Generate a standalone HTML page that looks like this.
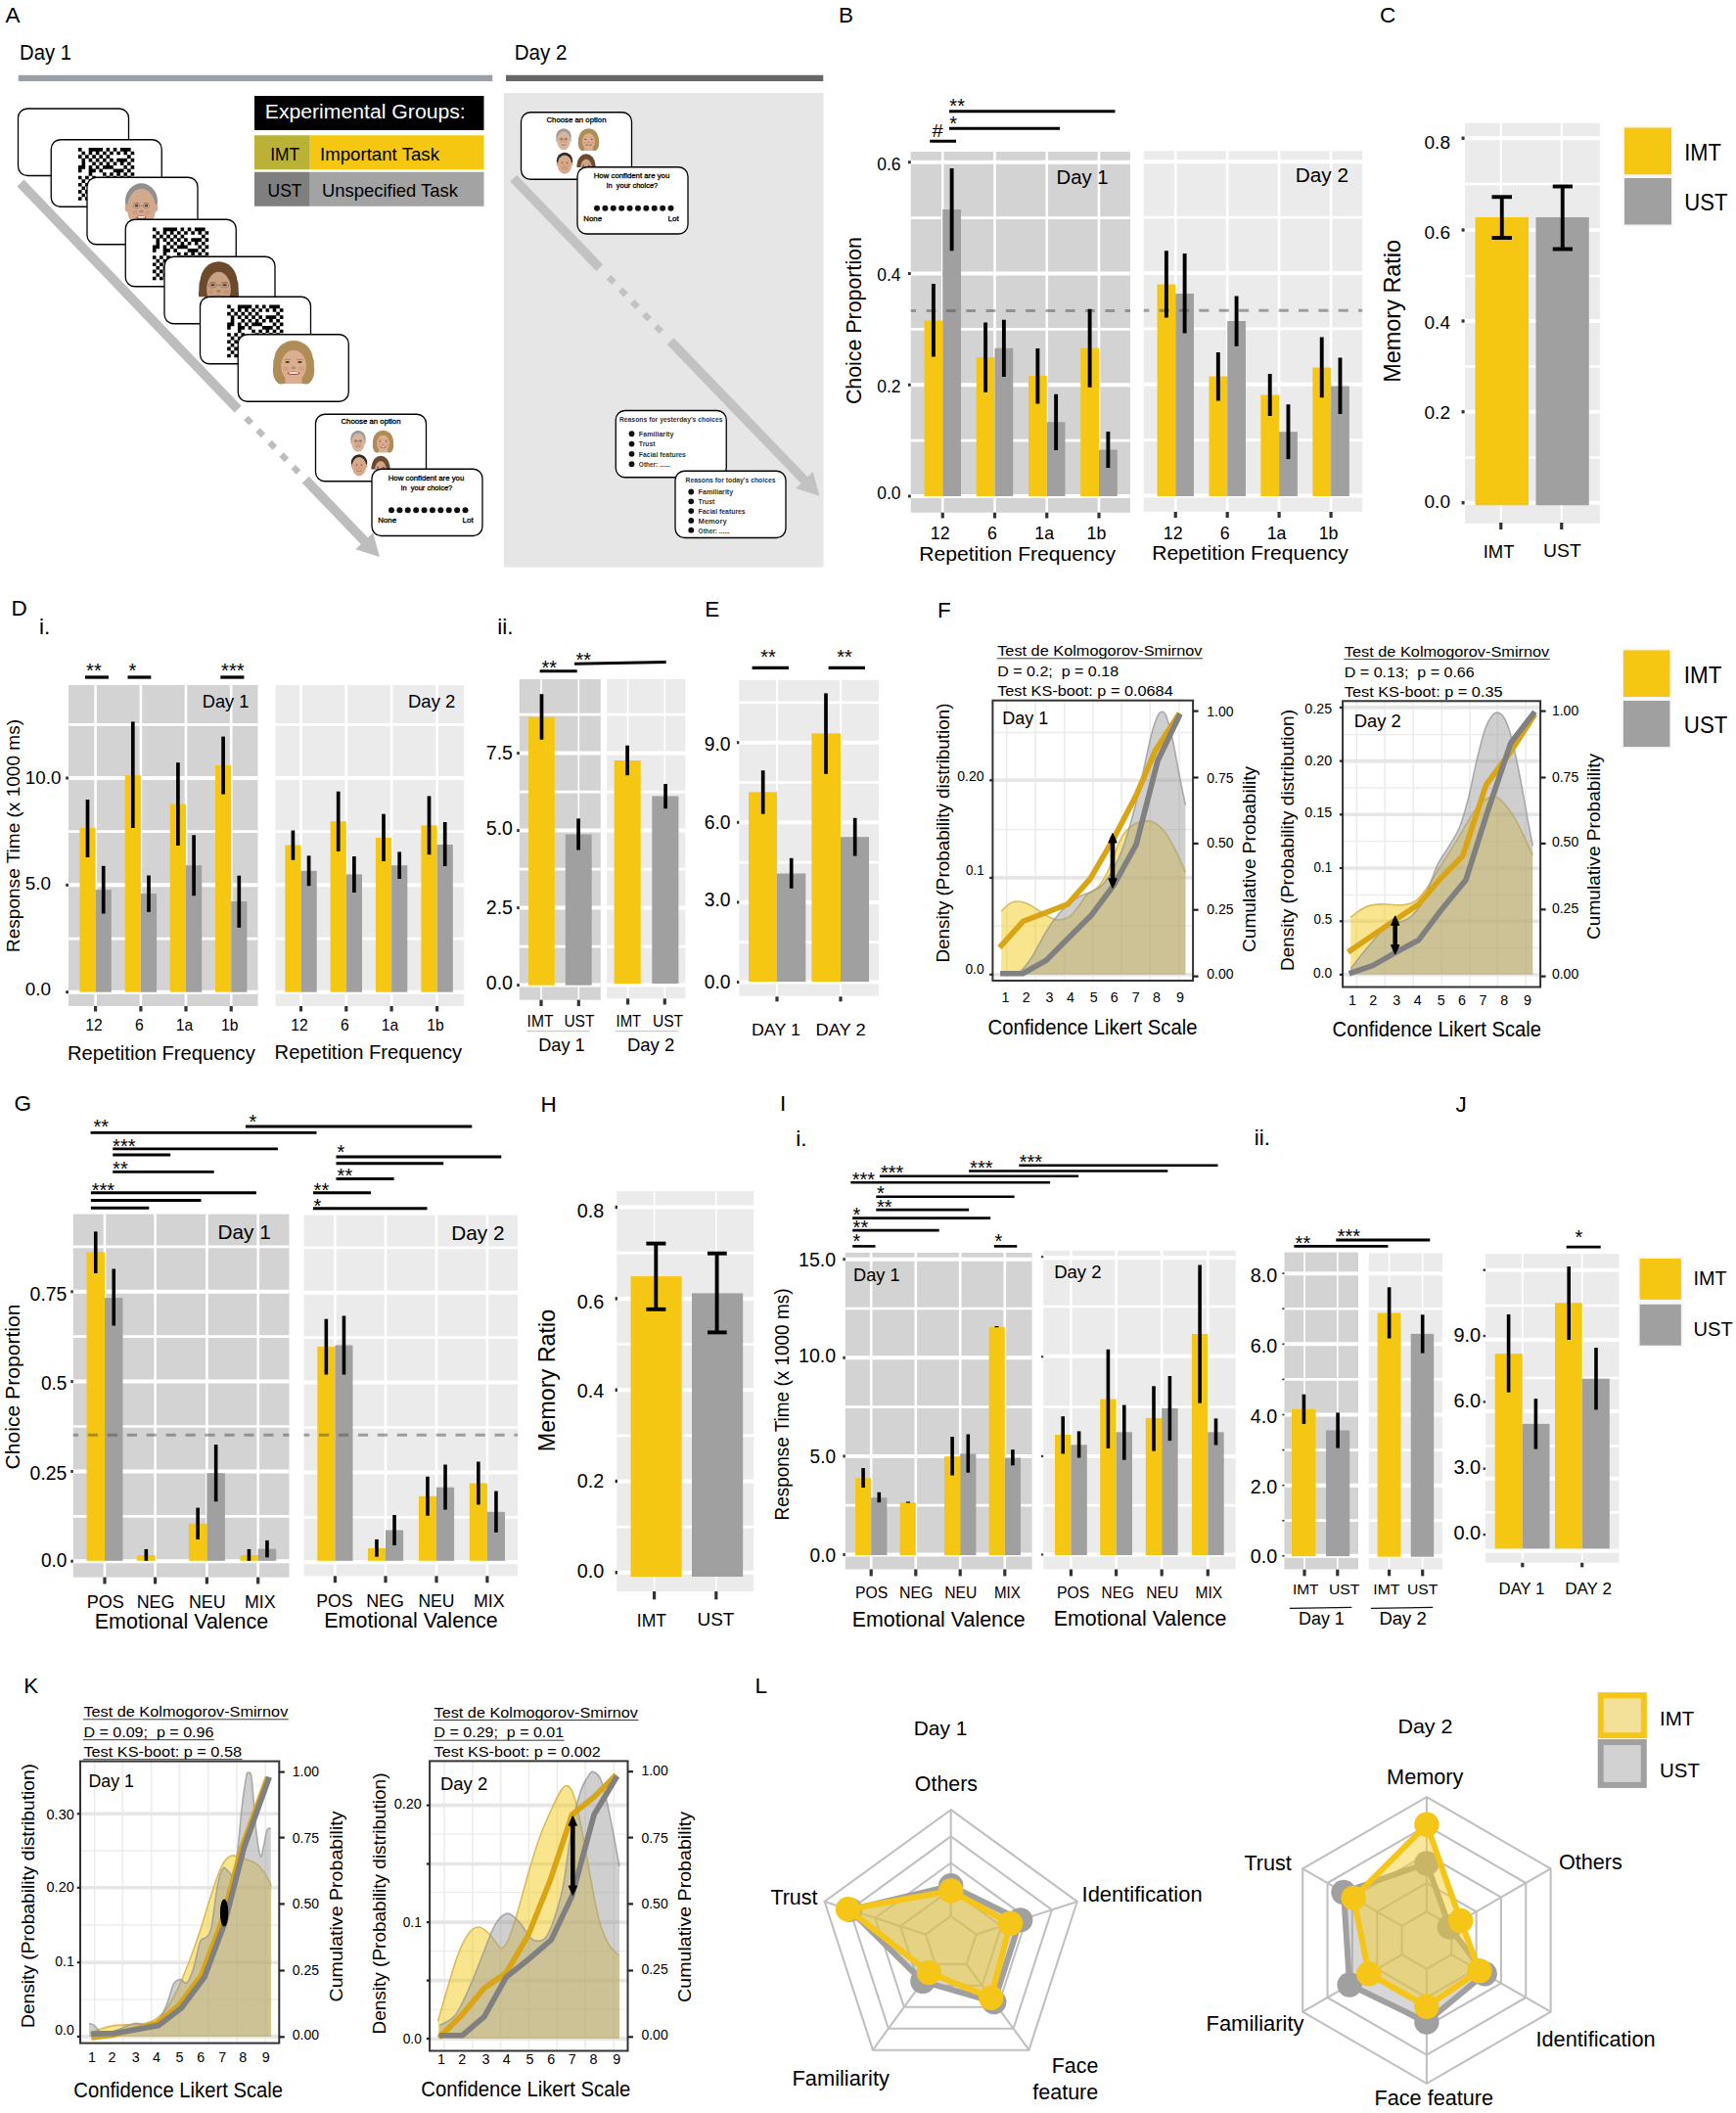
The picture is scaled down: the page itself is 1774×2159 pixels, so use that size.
<!DOCTYPE html>
<html lang="en"><head><meta charset="utf-8"><title>Figure</title>
<style>
html,body{margin:0;padding:0;background:#fff;}
body{width:1774px;height:2159px;overflow:hidden;}
svg{display:block;}
svg text{font-family:"Liberation Sans", Arial, sans-serif;}
</style></head><body>
<svg width="1774" height="2159" viewBox="0 0 1774 2159">
<rect x="0" y="0" width="1774" height="2159" fill="#fff"/>
<g>
<text x="5.5" y="22.5" font-size="22.5" xml:space="preserve">A</text>
<text x="20" y="61" font-size="21.5" textLength="53" lengthAdjust="spacingAndGlyphs" xml:space="preserve">Day 1</text>
<text x="525.75" y="60.75" font-size="21.5" textLength="53.75" lengthAdjust="spacingAndGlyphs" xml:space="preserve">Day 2</text>
<rect x="18.75" y="76.75" width="484.5" height="6.25" fill="#9a9ea6"/>
<rect x="517" y="76.75" width="324.25" height="6.25" fill="#666"/>
<rect x="515" y="95" width="326.5" height="484.5" fill="#e6e6e6"/>
<rect x="260" y="98" width="234.5" height="35" fill="#000"/>
<text x="270.75" y="120.75" font-size="20.5" textLength="205" lengthAdjust="spacingAndGlyphs" fill="#fff" xml:space="preserve">Experimental Groups:</text>
<rect x="260" y="138.25" width="56.75" height="35" fill="#b9b236"/>
<rect x="316.75" y="138.25" width="177.75" height="35" fill="#f5c710"/>
<text x="276.25" y="163.75" font-size="19" textLength="30" lengthAdjust="spacingAndGlyphs" xml:space="preserve">IMT</text>
<text x="327" y="163.75" font-size="19" textLength="122" lengthAdjust="spacingAndGlyphs" xml:space="preserve">Important Task</text>
<rect x="260" y="175.75" width="56.75" height="35" fill="#7f7f7f"/>
<rect x="316.75" y="175.75" width="177.75" height="35" fill="#a3a3a3"/>
<text x="273.5" y="200.5" font-size="19" textLength="35" lengthAdjust="spacingAndGlyphs" xml:space="preserve">UST</text>
<text x="329" y="200.5" font-size="19" textLength="139" lengthAdjust="spacingAndGlyphs" xml:space="preserve">Unspecified Task</text>
<line x1="21" y1="187" x2="243.11" y2="418.19" stroke="#bdbdbd" stroke-width="9.8"/>
<line x1="251.5" y1="426.92" x2="256.76" y2="432.4" stroke="#bdbdbd" stroke-width="6.4"/>
<line x1="263.55" y1="439.47" x2="268.82" y2="444.95" stroke="#bdbdbd" stroke-width="6.4"/>
<line x1="275.61" y1="452.01" x2="280.87" y2="457.49" stroke="#bdbdbd" stroke-width="6.4"/>
<line x1="287.66" y1="464.56" x2="292.93" y2="470.04" stroke="#bdbdbd" stroke-width="6.4"/>
<line x1="299.71" y1="477.11" x2="304.98" y2="482.59" stroke="#bdbdbd" stroke-width="6.4"/>
<line x1="312.25" y1="490.16" x2="373" y2="553.4" stroke="#bdbdbd" stroke-width="9.8"/>
<polygon points="387.9,568.9 363.44,561.2 381.18,544.15" fill="#bdbdbd" stroke="none" stroke-width="1"/>
<rect x="18.5" y="111" width="113" height="68.5" rx="9.5" ry="9.5" fill="#fff" stroke="#000" stroke-width="1.3"/>
<rect x="52.25" y="142.75" width="113" height="68.5" rx="9.5" ry="9.5" fill="#fff" stroke="#000" stroke-width="1.3"/>
<clipPath id="q1"><rect x="52.25" y="142.75" width="113" height="68.5"/></clipPath>
<path d="M79.91 151.1h3.63v3.63h-3.63zM90.65 151.1h3.63v3.63h-3.63zM94.23 151.1h3.63v3.63h-3.63zM97.81 151.1h3.63v3.63h-3.63zM101.39 151.1h3.63v3.63h-3.63zM108.55 151.1h3.63v3.63h-3.63zM115.71 151.1h3.63v3.63h-3.63zM122.87 151.1h3.63v3.63h-3.63zM126.45 151.1h3.63v3.63h-3.63zM130.03 151.1h3.63v3.63h-3.63zM83.49 154.68h3.63v3.63h-3.63zM90.65 154.68h3.63v3.63h-3.63zM97.81 154.68h3.63v3.63h-3.63zM104.97 154.68h3.63v3.63h-3.63zM112.13 154.68h3.63v3.63h-3.63zM119.29 154.68h3.63v3.63h-3.63zM126.45 154.68h3.63v3.63h-3.63zM133.61 154.68h3.63v3.63h-3.63zM79.91 158.26h3.63v3.63h-3.63zM87.07 158.26h3.63v3.63h-3.63zM94.23 158.26h3.63v3.63h-3.63zM101.39 158.26h3.63v3.63h-3.63zM108.55 158.26h3.63v3.63h-3.63zM130.03 158.26h3.63v3.63h-3.63zM83.49 161.84h3.63v3.63h-3.63zM90.65 161.84h3.63v3.63h-3.63zM97.81 161.84h3.63v3.63h-3.63zM104.97 161.84h3.63v3.63h-3.63zM112.13 161.84h3.63v3.63h-3.63zM119.29 161.84h3.63v3.63h-3.63zM122.87 161.84h3.63v3.63h-3.63zM126.45 161.84h3.63v3.63h-3.63zM133.61 161.84h3.63v3.63h-3.63zM83.49 165.42h3.63v3.63h-3.63zM94.23 165.42h3.63v3.63h-3.63zM101.39 165.42h3.63v3.63h-3.63zM108.55 165.42h3.63v3.63h-3.63zM115.71 165.42h3.63v3.63h-3.63zM122.87 165.42h3.63v3.63h-3.63zM130.03 165.42h3.63v3.63h-3.63zM79.91 169h3.63v3.63h-3.63zM83.49 169h3.63v3.63h-3.63zM90.65 169h3.63v3.63h-3.63zM97.81 169h3.63v3.63h-3.63zM104.97 169h3.63v3.63h-3.63zM108.55 169h3.63v3.63h-3.63zM112.13 169h3.63v3.63h-3.63zM126.45 169h3.63v3.63h-3.63zM133.61 169h3.63v3.63h-3.63zM79.91 172.58h3.63v3.63h-3.63zM90.65 172.58h3.63v3.63h-3.63zM94.23 172.58h3.63v3.63h-3.63zM101.39 172.58h3.63v3.63h-3.63zM115.71 172.58h3.63v3.63h-3.63zM119.29 172.58h3.63v3.63h-3.63zM122.87 172.58h3.63v3.63h-3.63zM130.03 172.58h3.63v3.63h-3.63zM90.65 176.16h3.63v3.63h-3.63zM104.97 176.16h3.63v3.63h-3.63zM112.13 176.16h3.63v3.63h-3.63zM119.29 176.16h3.63v3.63h-3.63zM126.45 176.16h3.63v3.63h-3.63zM133.61 176.16h3.63v3.63h-3.63zM79.91 179.74h3.63v3.63h-3.63zM87.07 179.74h3.63v3.63h-3.63zM94.23 179.74h3.63v3.63h-3.63zM108.55 179.74h3.63v3.63h-3.63zM115.71 179.74h3.63v3.63h-3.63zM122.87 179.74h3.63v3.63h-3.63zM130.03 179.74h3.63v3.63h-3.63zM83.49 183.32h3.63v3.63h-3.63zM90.65 183.32h3.63v3.63h-3.63zM97.81 183.32h3.63v3.63h-3.63zM101.39 183.32h3.63v3.63h-3.63zM112.13 183.32h3.63v3.63h-3.63zM119.29 183.32h3.63v3.63h-3.63zM126.45 183.32h3.63v3.63h-3.63zM130.03 183.32h3.63v3.63h-3.63zM133.61 183.32h3.63v3.63h-3.63zM79.91 186.9h3.63v3.63h-3.63zM87.07 186.9h3.63v3.63h-3.63zM94.23 186.9h3.63v3.63h-3.63zM101.39 186.9h3.63v3.63h-3.63zM108.55 186.9h3.63v3.63h-3.63zM115.71 186.9h3.63v3.63h-3.63zM122.87 186.9h3.63v3.63h-3.63zM130.03 186.9h3.63v3.63h-3.63zM83.49 190.48h3.63v3.63h-3.63zM90.65 190.48h3.63v3.63h-3.63zM97.81 190.48h3.63v3.63h-3.63zM104.97 190.48h3.63v3.63h-3.63zM112.13 190.48h3.63v3.63h-3.63zM119.29 190.48h3.63v3.63h-3.63zM126.45 190.48h3.63v3.63h-3.63zM133.61 190.48h3.63v3.63h-3.63zM79.91 194.06h3.63v3.63h-3.63zM87.07 194.06h3.63v3.63h-3.63zM94.23 194.06h3.63v3.63h-3.63zM108.55 194.06h3.63v3.63h-3.63zM115.71 194.06h3.63v3.63h-3.63zM83.49 197.64h3.63v3.63h-3.63zM90.65 197.64h3.63v3.63h-3.63zM97.81 197.64h3.63v3.63h-3.63zM104.97 197.64h3.63v3.63h-3.63zM112.13 197.64h3.63v3.63h-3.63zM119.29 197.64h3.63v3.63h-3.63zM126.45 197.64h3.63v3.63h-3.63zM79.91 201.22h3.63v3.63h-3.63zM87.07 201.22h3.63v3.63h-3.63zM94.23 201.22h3.63v3.63h-3.63zM101.39 201.22h3.63v3.63h-3.63zM108.55 201.22h3.63v3.63h-3.63zM115.71 201.22h3.63v3.63h-3.63zM122.87 201.22h3.63v3.63h-3.63zM130.03 201.22h3.63v3.63h-3.63z" fill="#000" clip-path="url(#q1)"/>
<rect x="89" y="181.25" width="113" height="68.5" rx="9.5" ry="9.5" fill="#fff" stroke="#000" stroke-width="1.3"/>
<clipPath id="f3"><rect x="89" y="181.25" width="113" height="43"/></clipPath>
<g clip-path="url(#f3)">
<ellipse cx="144.5" cy="205.65" rx="16.5" ry="18.4" fill="#8f8f8f"/>
<ellipse cx="144.5" cy="213.01" rx="14.52" ry="20.24" fill="#d2a98c"/>
<ellipse cx="129.32" cy="212.55" rx="1.65" ry="3.68" fill="#d2a98c"/>
<ellipse cx="159.68" cy="212.55" rx="1.65" ry="3.68" fill="#d2a98c"/>
<ellipse cx="139.55" cy="210.25" rx="1.81" ry="1.01" fill="#4a3424"/>
<ellipse cx="149.45" cy="210.25" rx="1.81" ry="1.01" fill="#4a3424"/>
<ellipse cx="139.55" cy="207.49" rx="2.81" ry="0.64" fill="rgba(120,70,40,0.35)"/>
<ellipse cx="149.45" cy="207.49" rx="2.81" ry="0.64" fill="rgba(120,70,40,0.35)"/>
<ellipse cx="144.5" cy="216.23" rx="1.98" ry="1.38" fill="rgba(120,70,40,0.35)"/>
<ellipse cx="138.23" cy="217.15" rx="2.31" ry="2.3" fill="rgba(200,90,70,0.18)"/>
<ellipse cx="150.77" cy="217.15" rx="2.31" ry="2.3" fill="rgba(200,90,70,0.18)"/>
<ellipse cx="144.5" cy="221.98" rx="4.95" ry="1.84" fill="#9a4a3a"/>
<ellipse cx="144.5" cy="221.75" rx="3.96" ry="1.01" fill="#f4efe8"/>
<ellipse cx="139.55" cy="210.48" rx="3.3" ry="2.3" fill="none" stroke="#3a3230" stroke-width="0.4" stroke-opacity="0.7"/>
<ellipse cx="149.45" cy="210.48" rx="3.3" ry="2.3" fill="none" stroke="#3a3230" stroke-width="0.4" stroke-opacity="0.7"/>
<line x1="142.85" y1="210.25" x2="146.15" y2="210.25" stroke="#3a3230" stroke-width="0.4" stroke-opacity="0.7"/>
</g>
<rect x="128.25" y="224.25" width="113" height="68.5" rx="9.5" ry="9.5" fill="#fff" stroke="#000" stroke-width="1.3"/>
<clipPath id="q2"><rect x="128.25" y="224.25" width="113" height="68.5"/></clipPath>
<path d="M155.91 232.6h3.63v3.63h-3.63zM166.65 232.6h3.63v3.63h-3.63zM170.23 232.6h3.63v3.63h-3.63zM173.81 232.6h3.63v3.63h-3.63zM177.39 232.6h3.63v3.63h-3.63zM184.55 232.6h3.63v3.63h-3.63zM191.71 232.6h3.63v3.63h-3.63zM198.87 232.6h3.63v3.63h-3.63zM202.45 232.6h3.63v3.63h-3.63zM206.03 232.6h3.63v3.63h-3.63zM159.49 236.18h3.63v3.63h-3.63zM166.65 236.18h3.63v3.63h-3.63zM173.81 236.18h3.63v3.63h-3.63zM180.97 236.18h3.63v3.63h-3.63zM188.13 236.18h3.63v3.63h-3.63zM195.29 236.18h3.63v3.63h-3.63zM202.45 236.18h3.63v3.63h-3.63zM209.61 236.18h3.63v3.63h-3.63zM155.91 239.76h3.63v3.63h-3.63zM163.07 239.76h3.63v3.63h-3.63zM170.23 239.76h3.63v3.63h-3.63zM177.39 239.76h3.63v3.63h-3.63zM184.55 239.76h3.63v3.63h-3.63zM206.03 239.76h3.63v3.63h-3.63zM159.49 243.34h3.63v3.63h-3.63zM166.65 243.34h3.63v3.63h-3.63zM173.81 243.34h3.63v3.63h-3.63zM180.97 243.34h3.63v3.63h-3.63zM188.13 243.34h3.63v3.63h-3.63zM195.29 243.34h3.63v3.63h-3.63zM198.87 243.34h3.63v3.63h-3.63zM202.45 243.34h3.63v3.63h-3.63zM209.61 243.34h3.63v3.63h-3.63zM159.49 246.92h3.63v3.63h-3.63zM170.23 246.92h3.63v3.63h-3.63zM177.39 246.92h3.63v3.63h-3.63zM184.55 246.92h3.63v3.63h-3.63zM191.71 246.92h3.63v3.63h-3.63zM198.87 246.92h3.63v3.63h-3.63zM206.03 246.92h3.63v3.63h-3.63zM155.91 250.5h3.63v3.63h-3.63zM159.49 250.5h3.63v3.63h-3.63zM166.65 250.5h3.63v3.63h-3.63zM173.81 250.5h3.63v3.63h-3.63zM180.97 250.5h3.63v3.63h-3.63zM184.55 250.5h3.63v3.63h-3.63zM188.13 250.5h3.63v3.63h-3.63zM202.45 250.5h3.63v3.63h-3.63zM209.61 250.5h3.63v3.63h-3.63zM155.91 254.08h3.63v3.63h-3.63zM166.65 254.08h3.63v3.63h-3.63zM170.23 254.08h3.63v3.63h-3.63zM177.39 254.08h3.63v3.63h-3.63zM191.71 254.08h3.63v3.63h-3.63zM195.29 254.08h3.63v3.63h-3.63zM198.87 254.08h3.63v3.63h-3.63zM206.03 254.08h3.63v3.63h-3.63zM166.65 257.66h3.63v3.63h-3.63zM180.97 257.66h3.63v3.63h-3.63zM188.13 257.66h3.63v3.63h-3.63zM195.29 257.66h3.63v3.63h-3.63zM202.45 257.66h3.63v3.63h-3.63zM209.61 257.66h3.63v3.63h-3.63zM155.91 261.24h3.63v3.63h-3.63zM163.07 261.24h3.63v3.63h-3.63zM170.23 261.24h3.63v3.63h-3.63zM184.55 261.24h3.63v3.63h-3.63zM191.71 261.24h3.63v3.63h-3.63zM198.87 261.24h3.63v3.63h-3.63zM206.03 261.24h3.63v3.63h-3.63zM159.49 264.82h3.63v3.63h-3.63zM166.65 264.82h3.63v3.63h-3.63zM173.81 264.82h3.63v3.63h-3.63zM177.39 264.82h3.63v3.63h-3.63zM188.13 264.82h3.63v3.63h-3.63zM195.29 264.82h3.63v3.63h-3.63zM202.45 264.82h3.63v3.63h-3.63zM206.03 264.82h3.63v3.63h-3.63zM209.61 264.82h3.63v3.63h-3.63zM155.91 268.4h3.63v3.63h-3.63zM163.07 268.4h3.63v3.63h-3.63zM170.23 268.4h3.63v3.63h-3.63zM177.39 268.4h3.63v3.63h-3.63zM184.55 268.4h3.63v3.63h-3.63zM191.71 268.4h3.63v3.63h-3.63zM198.87 268.4h3.63v3.63h-3.63zM206.03 268.4h3.63v3.63h-3.63zM159.49 271.98h3.63v3.63h-3.63zM166.65 271.98h3.63v3.63h-3.63zM173.81 271.98h3.63v3.63h-3.63zM180.97 271.98h3.63v3.63h-3.63zM188.13 271.98h3.63v3.63h-3.63zM195.29 271.98h3.63v3.63h-3.63zM202.45 271.98h3.63v3.63h-3.63zM209.61 271.98h3.63v3.63h-3.63zM155.91 275.56h3.63v3.63h-3.63zM163.07 275.56h3.63v3.63h-3.63zM170.23 275.56h3.63v3.63h-3.63zM184.55 275.56h3.63v3.63h-3.63zM191.71 275.56h3.63v3.63h-3.63zM159.49 279.14h3.63v3.63h-3.63zM166.65 279.14h3.63v3.63h-3.63zM173.81 279.14h3.63v3.63h-3.63zM180.97 279.14h3.63v3.63h-3.63zM188.13 279.14h3.63v3.63h-3.63zM195.29 279.14h3.63v3.63h-3.63zM202.45 279.14h3.63v3.63h-3.63zM155.91 282.72h3.63v3.63h-3.63zM163.07 282.72h3.63v3.63h-3.63zM170.23 282.72h3.63v3.63h-3.63zM177.39 282.72h3.63v3.63h-3.63zM184.55 282.72h3.63v3.63h-3.63zM191.71 282.72h3.63v3.63h-3.63zM198.87 282.72h3.63v3.63h-3.63zM206.03 282.72h3.63v3.63h-3.63z" fill="#000" clip-path="url(#q2)"/>
<rect x="168" y="262.25" width="113" height="68.5" rx="9.5" ry="9.5" fill="#fff" stroke="#000" stroke-width="1.3"/>
<clipPath id="f5"><rect x="168" y="262.25" width="113" height="41"/></clipPath>
<g clip-path="url(#f5)">
<ellipse cx="223.5" cy="287.41" rx="18.86" ry="20.16" fill="#6b4a2e"/>
<ellipse cx="211.2" cy="299.89" rx="8.2" ry="15.84" fill="#6b4a2e"/>
<ellipse cx="235.8" cy="299.89" rx="8.2" ry="15.84" fill="#6b4a2e"/>
<ellipse cx="208.74" cy="292.21" rx="5.33" ry="9.6" fill="#6b4a2e"/>
<ellipse cx="238.26" cy="292.21" rx="5.33" ry="9.6" fill="#6b4a2e"/>
<rect x="208.74" y="300.85" width="29.52" height="14.4" fill="#6b4a2e"/>
<ellipse cx="223.5" cy="295.57" rx="12.3" ry="17.76" fill="#c9a183"/>
<rect x="215.3" y="305.65" width="16.4" height="9.6" fill="#c9a183"/>
<ellipse cx="217.35" cy="291.25" rx="2.25" ry="1.06" fill="#4a3424"/>
<ellipse cx="229.65" cy="291.25" rx="2.25" ry="1.06" fill="#4a3424"/>
<ellipse cx="217.35" cy="288.37" rx="3.49" ry="0.67" fill="rgba(120,70,40,0.35)"/>
<ellipse cx="229.65" cy="288.37" rx="3.49" ry="0.67" fill="rgba(120,70,40,0.35)"/>
<ellipse cx="223.5" cy="297.49" rx="2.46" ry="1.44" fill="rgba(120,70,40,0.35)"/>
<ellipse cx="215.71" cy="298.45" rx="2.87" ry="2.4" fill="rgba(200,90,70,0.18)"/>
<ellipse cx="231.29" cy="298.45" rx="2.87" ry="2.4" fill="rgba(200,90,70,0.18)"/>
<ellipse cx="223.5" cy="303.49" rx="6.15" ry="1.92" fill="#9a4a3a"/>
<ellipse cx="223.5" cy="303.25" rx="4.92" ry="1.06" fill="#f4efe8"/>
<ellipse cx="217.35" cy="291.49" rx="4.1" ry="2.4" fill="none" stroke="#3a3230" stroke-width="0.49" stroke-opacity="0.7"/>
<ellipse cx="229.65" cy="291.49" rx="4.1" ry="2.4" fill="none" stroke="#3a3230" stroke-width="0.49" stroke-opacity="0.7"/>
<line x1="221.45" y1="291.25" x2="225.55" y2="291.25" stroke="#3a3230" stroke-width="0.49" stroke-opacity="0.7"/>
</g>
<rect x="204.5" y="303.25" width="113" height="68.5" rx="9.5" ry="9.5" fill="#fff" stroke="#000" stroke-width="1.3"/>
<clipPath id="q3"><rect x="204.5" y="303.25" width="113" height="68.5"/></clipPath>
<path d="M232.16 311.6h3.63v3.63h-3.63zM242.9 311.6h3.63v3.63h-3.63zM246.48 311.6h3.63v3.63h-3.63zM250.06 311.6h3.63v3.63h-3.63zM253.64 311.6h3.63v3.63h-3.63zM260.8 311.6h3.63v3.63h-3.63zM267.96 311.6h3.63v3.63h-3.63zM275.12 311.6h3.63v3.63h-3.63zM278.7 311.6h3.63v3.63h-3.63zM282.28 311.6h3.63v3.63h-3.63zM235.74 315.18h3.63v3.63h-3.63zM242.9 315.18h3.63v3.63h-3.63zM250.06 315.18h3.63v3.63h-3.63zM257.22 315.18h3.63v3.63h-3.63zM264.38 315.18h3.63v3.63h-3.63zM271.54 315.18h3.63v3.63h-3.63zM278.7 315.18h3.63v3.63h-3.63zM285.86 315.18h3.63v3.63h-3.63zM232.16 318.76h3.63v3.63h-3.63zM239.32 318.76h3.63v3.63h-3.63zM246.48 318.76h3.63v3.63h-3.63zM253.64 318.76h3.63v3.63h-3.63zM260.8 318.76h3.63v3.63h-3.63zM282.28 318.76h3.63v3.63h-3.63zM235.74 322.34h3.63v3.63h-3.63zM242.9 322.34h3.63v3.63h-3.63zM250.06 322.34h3.63v3.63h-3.63zM257.22 322.34h3.63v3.63h-3.63zM264.38 322.34h3.63v3.63h-3.63zM271.54 322.34h3.63v3.63h-3.63zM275.12 322.34h3.63v3.63h-3.63zM278.7 322.34h3.63v3.63h-3.63zM285.86 322.34h3.63v3.63h-3.63zM235.74 325.92h3.63v3.63h-3.63zM246.48 325.92h3.63v3.63h-3.63zM253.64 325.92h3.63v3.63h-3.63zM260.8 325.92h3.63v3.63h-3.63zM267.96 325.92h3.63v3.63h-3.63zM275.12 325.92h3.63v3.63h-3.63zM282.28 325.92h3.63v3.63h-3.63zM232.16 329.5h3.63v3.63h-3.63zM235.74 329.5h3.63v3.63h-3.63zM242.9 329.5h3.63v3.63h-3.63zM250.06 329.5h3.63v3.63h-3.63zM257.22 329.5h3.63v3.63h-3.63zM260.8 329.5h3.63v3.63h-3.63zM264.38 329.5h3.63v3.63h-3.63zM278.7 329.5h3.63v3.63h-3.63zM285.86 329.5h3.63v3.63h-3.63zM232.16 333.08h3.63v3.63h-3.63zM242.9 333.08h3.63v3.63h-3.63zM246.48 333.08h3.63v3.63h-3.63zM253.64 333.08h3.63v3.63h-3.63zM267.96 333.08h3.63v3.63h-3.63zM271.54 333.08h3.63v3.63h-3.63zM275.12 333.08h3.63v3.63h-3.63zM282.28 333.08h3.63v3.63h-3.63zM242.9 336.66h3.63v3.63h-3.63zM257.22 336.66h3.63v3.63h-3.63zM264.38 336.66h3.63v3.63h-3.63zM271.54 336.66h3.63v3.63h-3.63zM278.7 336.66h3.63v3.63h-3.63zM285.86 336.66h3.63v3.63h-3.63zM232.16 340.24h3.63v3.63h-3.63zM239.32 340.24h3.63v3.63h-3.63zM246.48 340.24h3.63v3.63h-3.63zM260.8 340.24h3.63v3.63h-3.63zM267.96 340.24h3.63v3.63h-3.63zM275.12 340.24h3.63v3.63h-3.63zM282.28 340.24h3.63v3.63h-3.63zM235.74 343.82h3.63v3.63h-3.63zM242.9 343.82h3.63v3.63h-3.63zM250.06 343.82h3.63v3.63h-3.63zM253.64 343.82h3.63v3.63h-3.63zM264.38 343.82h3.63v3.63h-3.63zM271.54 343.82h3.63v3.63h-3.63zM278.7 343.82h3.63v3.63h-3.63zM282.28 343.82h3.63v3.63h-3.63zM285.86 343.82h3.63v3.63h-3.63zM232.16 347.4h3.63v3.63h-3.63zM239.32 347.4h3.63v3.63h-3.63zM246.48 347.4h3.63v3.63h-3.63zM253.64 347.4h3.63v3.63h-3.63zM260.8 347.4h3.63v3.63h-3.63zM267.96 347.4h3.63v3.63h-3.63zM275.12 347.4h3.63v3.63h-3.63zM282.28 347.4h3.63v3.63h-3.63zM235.74 350.98h3.63v3.63h-3.63zM242.9 350.98h3.63v3.63h-3.63zM250.06 350.98h3.63v3.63h-3.63zM257.22 350.98h3.63v3.63h-3.63zM264.38 350.98h3.63v3.63h-3.63zM271.54 350.98h3.63v3.63h-3.63zM278.7 350.98h3.63v3.63h-3.63zM285.86 350.98h3.63v3.63h-3.63zM232.16 354.56h3.63v3.63h-3.63zM239.32 354.56h3.63v3.63h-3.63zM246.48 354.56h3.63v3.63h-3.63zM260.8 354.56h3.63v3.63h-3.63zM267.96 354.56h3.63v3.63h-3.63zM235.74 358.14h3.63v3.63h-3.63zM242.9 358.14h3.63v3.63h-3.63zM250.06 358.14h3.63v3.63h-3.63zM257.22 358.14h3.63v3.63h-3.63zM264.38 358.14h3.63v3.63h-3.63zM271.54 358.14h3.63v3.63h-3.63zM278.7 358.14h3.63v3.63h-3.63zM232.16 361.72h3.63v3.63h-3.63zM239.32 361.72h3.63v3.63h-3.63zM246.48 361.72h3.63v3.63h-3.63zM253.64 361.72h3.63v3.63h-3.63zM260.8 361.72h3.63v3.63h-3.63zM267.96 361.72h3.63v3.63h-3.63zM275.12 361.72h3.63v3.63h-3.63zM282.28 361.72h3.63v3.63h-3.63z" fill="#000" clip-path="url(#q3)"/>
<rect x="243.25" y="341.75" width="113" height="68.5" rx="9.5" ry="9.5" fill="#fff" stroke="#000" stroke-width="1.3"/>
<g>
<ellipse cx="300.05" cy="366.53" rx="19.55" ry="18.48" fill="#b08d57"/>
<ellipse cx="287.3" cy="377.97" rx="8.5" ry="14.52" fill="#b08d57"/>
<ellipse cx="312.8" cy="377.97" rx="8.5" ry="14.52" fill="#b08d57"/>
<ellipse cx="284.75" cy="370.93" rx="5.53" ry="8.8" fill="#b08d57"/>
<ellipse cx="315.35" cy="370.93" rx="5.53" ry="8.8" fill="#b08d57"/>
<rect x="284.75" y="378.85" width="30.6" height="13.2" fill="#b08d57"/>
<ellipse cx="300.05" cy="374.01" rx="12.75" ry="16.28" fill="#dcae90"/>
<rect x="291.55" y="383.25" width="17" height="8.8" fill="#dcae90"/>
<ellipse cx="293.68" cy="370.05" rx="2.34" ry="0.97" fill="#4a3424"/>
<ellipse cx="306.43" cy="370.05" rx="2.34" ry="0.97" fill="#4a3424"/>
<ellipse cx="293.68" cy="367.41" rx="3.61" ry="0.62" fill="rgba(120,70,40,0.35)"/>
<ellipse cx="306.43" cy="367.41" rx="3.61" ry="0.62" fill="rgba(120,70,40,0.35)"/>
<ellipse cx="300.05" cy="375.77" rx="2.55" ry="1.32" fill="rgba(120,70,40,0.35)"/>
<ellipse cx="291.98" cy="376.65" rx="2.98" ry="2.2" fill="rgba(200,90,70,0.18)"/>
<ellipse cx="308.12" cy="376.65" rx="2.98" ry="2.2" fill="rgba(200,90,70,0.18)"/>
<ellipse cx="300.05" cy="381.27" rx="6.38" ry="1.76" fill="#9a4a3a"/>
<ellipse cx="300.05" cy="381.05" rx="5.1" ry="0.97" fill="#f4efe8"/>
</g>
<rect x="322.5" y="423.25" width="113" height="68.5" rx="9.5" ry="9.5" fill="#fff" stroke="#000" stroke-width="1.3"/>
<text x="379" y="433.05" font-size="7.6" text-anchor="middle" textLength="61" lengthAdjust="spacingAndGlyphs" font-family='"Liberation Sans", Arial, sans-serif' stroke="#000" stroke-width="0.28" xml:space="preserve">Choose an option</text>
<g>
<ellipse cx="366" cy="448.55" rx="7.75" ry="8.8" fill="#9a9a9a"/>
<ellipse cx="366" cy="452.07" rx="6.82" ry="9.68" fill="#d9b49a"/>
<ellipse cx="358.87" cy="451.85" rx="0.78" ry="1.76" fill="#d9b49a"/>
<ellipse cx="373.13" cy="451.85" rx="0.78" ry="1.76" fill="#d9b49a"/>
<ellipse cx="363.68" cy="450.75" rx="0.85" ry="0.48" fill="#4a3424"/>
<ellipse cx="368.32" cy="450.75" rx="0.85" ry="0.48" fill="#4a3424"/>
<ellipse cx="363.68" cy="449.43" rx="1.32" ry="0.31" fill="rgba(120,70,40,0.35)"/>
<ellipse cx="368.32" cy="449.43" rx="1.32" ry="0.31" fill="rgba(120,70,40,0.35)"/>
<ellipse cx="366" cy="453.61" rx="0.93" ry="0.66" fill="rgba(120,70,40,0.35)"/>
<ellipse cx="363.06" cy="454.05" rx="1.09" ry="1.1" fill="rgba(200,90,70,0.18)"/>
<ellipse cx="368.94" cy="454.05" rx="1.09" ry="1.1" fill="rgba(200,90,70,0.18)"/>
<ellipse cx="366" cy="456.36" rx="2.32" ry="0.88" fill="#9a4a3a"/>
<ellipse cx="366" cy="456.25" rx="1.86" ry="0.48" fill="#f4efe8"/>
<ellipse cx="363.68" cy="450.86" rx="1.55" ry="1.1" fill="none" stroke="#3a3230" stroke-width="0.35" stroke-opacity="0.7"/>
<ellipse cx="368.32" cy="450.86" rx="1.55" ry="1.1" fill="none" stroke="#3a3230" stroke-width="0.35" stroke-opacity="0.7"/>
<line x1="365.23" y1="450.75" x2="366.77" y2="450.75" stroke="#3a3230" stroke-width="0.35" stroke-opacity="0.7"/>
</g>
<g>
<ellipse cx="391.5" cy="449.15" rx="9.89" ry="9.45" fill="#b08d57"/>
<ellipse cx="385.05" cy="455" rx="4.3" ry="7.43" fill="#b08d57"/>
<ellipse cx="397.95" cy="455" rx="4.3" ry="7.43" fill="#b08d57"/>
<ellipse cx="383.76" cy="451.4" rx="2.79" ry="4.5" fill="#b08d57"/>
<ellipse cx="399.24" cy="451.4" rx="2.79" ry="4.5" fill="#b08d57"/>
<rect x="383.76" y="455.45" width="15.48" height="6.75" fill="#b08d57"/>
<ellipse cx="391.5" cy="452.97" rx="6.45" ry="8.32" fill="#dcae90"/>
<rect x="387.2" y="457.7" width="8.6" height="4.5" fill="#dcae90"/>
<ellipse cx="388.27" cy="450.95" rx="1.18" ry="0.49" fill="#4a3424"/>
<ellipse cx="394.73" cy="450.95" rx="1.18" ry="0.49" fill="#4a3424"/>
<ellipse cx="388.27" cy="449.6" rx="1.83" ry="0.32" fill="rgba(120,70,40,0.35)"/>
<ellipse cx="394.73" cy="449.6" rx="1.83" ry="0.32" fill="rgba(120,70,40,0.35)"/>
<ellipse cx="391.5" cy="453.88" rx="1.29" ry="0.67" fill="rgba(120,70,40,0.35)"/>
<ellipse cx="387.42" cy="454.32" rx="1.51" ry="1.12" fill="rgba(200,90,70,0.18)"/>
<ellipse cx="395.58" cy="454.32" rx="1.51" ry="1.12" fill="rgba(200,90,70,0.18)"/>
<ellipse cx="391.5" cy="456.69" rx="3.23" ry="0.9" fill="#9a4a3a"/>
<ellipse cx="391.5" cy="456.57" rx="2.58" ry="0.49" fill="#f4efe8"/>
</g>
<g>
<ellipse cx="367" cy="473.05" rx="8.25" ry="8.8" fill="#2e2a26"/>
<ellipse cx="367" cy="476.57" rx="7.26" ry="9.68" fill="#d9a98a"/>
<ellipse cx="359.41" cy="476.35" rx="0.83" ry="1.76" fill="#d9a98a"/>
<ellipse cx="374.59" cy="476.35" rx="0.83" ry="1.76" fill="#d9a98a"/>
<ellipse cx="364.52" cy="475.25" rx="0.91" ry="0.48" fill="#4a3424"/>
<ellipse cx="369.48" cy="475.25" rx="0.91" ry="0.48" fill="#4a3424"/>
<ellipse cx="364.52" cy="473.93" rx="1.4" ry="0.31" fill="rgba(120,70,40,0.35)"/>
<ellipse cx="369.48" cy="473.93" rx="1.4" ry="0.31" fill="rgba(120,70,40,0.35)"/>
<ellipse cx="367" cy="478.11" rx="0.99" ry="0.66" fill="rgba(120,70,40,0.35)"/>
<ellipse cx="363.87" cy="478.55" rx="1.16" ry="1.1" fill="rgba(200,90,70,0.18)"/>
<ellipse cx="370.13" cy="478.55" rx="1.16" ry="1.1" fill="rgba(200,90,70,0.18)"/>
<ellipse cx="367" cy="480.86" rx="2.48" ry="0.88" fill="#9a4a3a"/>
<ellipse cx="367" cy="480.75" rx="1.98" ry="0.48" fill="#f4efe8"/>
</g>
<clipPath id="c1"><rect x="378" y="459.75" width="40" height="19.5"/></clipPath>
<g clip-path="url(#c1)">
<ellipse cx="389" cy="475.83" rx="8.97" ry="10.08" fill="#6b4a2e"/>
<ellipse cx="383.15" cy="482.07" rx="3.9" ry="7.92" fill="#6b4a2e"/>
<ellipse cx="394.85" cy="482.07" rx="3.9" ry="7.92" fill="#6b4a2e"/>
<ellipse cx="381.98" cy="478.23" rx="2.54" ry="4.8" fill="#6b4a2e"/>
<ellipse cx="396.02" cy="478.23" rx="2.54" ry="4.8" fill="#6b4a2e"/>
<rect x="381.98" y="482.55" width="14.04" height="7.2" fill="#6b4a2e"/>
<ellipse cx="389" cy="479.91" rx="5.85" ry="8.88" fill="#cfa488"/>
<rect x="385.1" y="484.95" width="7.8" height="4.8" fill="#cfa488"/>
<ellipse cx="386.07" cy="477.75" rx="1.07" ry="0.53" fill="#4a3424"/>
<ellipse cx="391.93" cy="477.75" rx="1.07" ry="0.53" fill="#4a3424"/>
<ellipse cx="386.07" cy="476.31" rx="1.66" ry="0.34" fill="rgba(120,70,40,0.35)"/>
<ellipse cx="391.93" cy="476.31" rx="1.66" ry="0.34" fill="rgba(120,70,40,0.35)"/>
<ellipse cx="389" cy="480.87" rx="1.17" ry="0.72" fill="rgba(120,70,40,0.35)"/>
<ellipse cx="385.3" cy="481.35" rx="1.37" ry="1.2" fill="rgba(200,90,70,0.18)"/>
<ellipse cx="392.7" cy="481.35" rx="1.37" ry="1.2" fill="rgba(200,90,70,0.18)"/>
<ellipse cx="389" cy="483.87" rx="2.92" ry="0.96" fill="#9a4a3a"/>
<ellipse cx="389" cy="483.75" rx="2.34" ry="0.53" fill="#f4efe8"/>
</g>
<rect x="380" y="479.25" width="113" height="68.25" rx="9.5" ry="9.5" fill="#fff" stroke="#000" stroke-width="1.3"/>
<text x="435.5" y="490.75" font-size="7.6" text-anchor="middle" textLength="77.5" lengthAdjust="spacingAndGlyphs" font-family='"Liberation Sans", Arial, sans-serif' stroke="#000" stroke-width="0.28" xml:space="preserve">How confident are you</text>
<text x="436" y="500.75" font-size="7.6" text-anchor="middle" textLength="52.5" lengthAdjust="spacingAndGlyphs" font-family='"Liberation Sans", Arial, sans-serif' stroke="#000" stroke-width="0.28" xml:space="preserve">in  your choice?</text>
<circle cx="400" cy="521.25" r="3" fill="#111"/>
<circle cx="408.39" cy="521.25" r="3" fill="#111"/>
<circle cx="416.78" cy="521.25" r="3" fill="#111"/>
<circle cx="425.17" cy="521.25" r="3" fill="#111"/>
<circle cx="433.56" cy="521.25" r="3" fill="#111"/>
<circle cx="441.95" cy="521.25" r="3" fill="#111"/>
<circle cx="450.34" cy="521.25" r="3" fill="#111"/>
<circle cx="458.73" cy="521.25" r="3" fill="#111"/>
<circle cx="467.12" cy="521.25" r="3" fill="#111"/>
<circle cx="475.51" cy="521.25" r="3" fill="#111"/>
<text x="386.25" y="534.45" font-size="7.4" textLength="18.75" lengthAdjust="spacingAndGlyphs" font-family='"Liberation Sans", Arial, sans-serif' stroke="#000" stroke-width="0.28" xml:space="preserve">None</text>
<text x="472.5" y="534.45" font-size="7.4" textLength="11.25" lengthAdjust="spacingAndGlyphs" font-family='"Liberation Sans", Arial, sans-serif' stroke="#000" stroke-width="0.28" xml:space="preserve">Lot</text>
<line x1="524.75" y1="182.25" x2="612.74" y2="273.55" stroke="#c2c2c2" stroke-width="9.6"/>
<line x1="622.11" y1="283.27" x2="627.39" y2="288.74" stroke="#c2c2c2" stroke-width="6.4"/>
<line x1="634.19" y1="295.8" x2="639.46" y2="301.27" stroke="#c2c2c2" stroke-width="6.4"/>
<line x1="646.26" y1="308.33" x2="651.53" y2="313.8" stroke="#c2c2c2" stroke-width="6.4"/>
<line x1="658.34" y1="320.85" x2="663.61" y2="326.33" stroke="#c2c2c2" stroke-width="6.4"/>
<line x1="670.41" y1="333.38" x2="675.68" y2="338.85" stroke="#c2c2c2" stroke-width="6.4"/>
<line x1="685.12" y1="348.65" x2="822.58" y2="491.27" stroke="#c2c2c2" stroke-width="9.6"/>
<polygon points="837.5,506.75 813.03,499.09 830.74,482.01" fill="#c2c2c2" stroke="none" stroke-width="1"/>
<rect x="532.5" y="114.75" width="113" height="68.5" rx="9.5" ry="9.5" fill="#fff" stroke="#000" stroke-width="1.3"/>
<text x="589" y="124.55" font-size="7.6" text-anchor="middle" textLength="61" lengthAdjust="spacingAndGlyphs" font-family='"Liberation Sans", Arial, sans-serif' stroke="#000" stroke-width="0.28" xml:space="preserve">Choose an option</text>
<g>
<ellipse cx="576" cy="140.05" rx="7.75" ry="8.8" fill="#9a9a9a"/>
<ellipse cx="576" cy="143.57" rx="6.82" ry="9.68" fill="#d9b49a"/>
<ellipse cx="568.87" cy="143.35" rx="0.78" ry="1.76" fill="#d9b49a"/>
<ellipse cx="583.13" cy="143.35" rx="0.78" ry="1.76" fill="#d9b49a"/>
<ellipse cx="573.67" cy="142.25" rx="0.85" ry="0.48" fill="#4a3424"/>
<ellipse cx="578.33" cy="142.25" rx="0.85" ry="0.48" fill="#4a3424"/>
<ellipse cx="573.67" cy="140.93" rx="1.32" ry="0.31" fill="rgba(120,70,40,0.35)"/>
<ellipse cx="578.33" cy="140.93" rx="1.32" ry="0.31" fill="rgba(120,70,40,0.35)"/>
<ellipse cx="576" cy="145.11" rx="0.93" ry="0.66" fill="rgba(120,70,40,0.35)"/>
<ellipse cx="573.05" cy="145.55" rx="1.09" ry="1.1" fill="rgba(200,90,70,0.18)"/>
<ellipse cx="578.95" cy="145.55" rx="1.09" ry="1.1" fill="rgba(200,90,70,0.18)"/>
<ellipse cx="576" cy="147.86" rx="2.32" ry="0.88" fill="#9a4a3a"/>
<ellipse cx="576" cy="147.75" rx="1.86" ry="0.48" fill="#f4efe8"/>
<ellipse cx="573.67" cy="142.36" rx="1.55" ry="1.1" fill="none" stroke="#3a3230" stroke-width="0.35" stroke-opacity="0.7"/>
<ellipse cx="578.33" cy="142.36" rx="1.55" ry="1.1" fill="none" stroke="#3a3230" stroke-width="0.35" stroke-opacity="0.7"/>
<line x1="575.23" y1="142.25" x2="576.77" y2="142.25" stroke="#3a3230" stroke-width="0.35" stroke-opacity="0.7"/>
</g>
<g>
<ellipse cx="601.5" cy="140.65" rx="9.89" ry="9.45" fill="#b08d57"/>
<ellipse cx="595.05" cy="146.5" rx="4.3" ry="7.43" fill="#b08d57"/>
<ellipse cx="607.95" cy="146.5" rx="4.3" ry="7.43" fill="#b08d57"/>
<ellipse cx="593.76" cy="142.9" rx="2.79" ry="4.5" fill="#b08d57"/>
<ellipse cx="609.24" cy="142.9" rx="2.79" ry="4.5" fill="#b08d57"/>
<rect x="593.76" y="146.95" width="15.48" height="6.75" fill="#b08d57"/>
<ellipse cx="601.5" cy="144.47" rx="6.45" ry="8.32" fill="#dcae90"/>
<rect x="597.2" y="149.2" width="8.6" height="4.5" fill="#dcae90"/>
<ellipse cx="598.27" cy="142.45" rx="1.18" ry="0.49" fill="#4a3424"/>
<ellipse cx="604.73" cy="142.45" rx="1.18" ry="0.49" fill="#4a3424"/>
<ellipse cx="598.27" cy="141.1" rx="1.83" ry="0.32" fill="rgba(120,70,40,0.35)"/>
<ellipse cx="604.73" cy="141.1" rx="1.83" ry="0.32" fill="rgba(120,70,40,0.35)"/>
<ellipse cx="601.5" cy="145.38" rx="1.29" ry="0.67" fill="rgba(120,70,40,0.35)"/>
<ellipse cx="597.41" cy="145.82" rx="1.51" ry="1.12" fill="rgba(200,90,70,0.18)"/>
<ellipse cx="605.59" cy="145.82" rx="1.51" ry="1.12" fill="rgba(200,90,70,0.18)"/>
<ellipse cx="601.5" cy="148.19" rx="3.23" ry="0.9" fill="#9a4a3a"/>
<ellipse cx="601.5" cy="148.07" rx="2.58" ry="0.49" fill="#f4efe8"/>
</g>
<g>
<ellipse cx="577" cy="164.55" rx="8.25" ry="8.8" fill="#2e2a26"/>
<ellipse cx="577" cy="168.07" rx="7.26" ry="9.68" fill="#d9a98a"/>
<ellipse cx="569.41" cy="167.85" rx="0.83" ry="1.76" fill="#d9a98a"/>
<ellipse cx="584.59" cy="167.85" rx="0.83" ry="1.76" fill="#d9a98a"/>
<ellipse cx="574.52" cy="166.75" rx="0.91" ry="0.48" fill="#4a3424"/>
<ellipse cx="579.48" cy="166.75" rx="0.91" ry="0.48" fill="#4a3424"/>
<ellipse cx="574.52" cy="165.43" rx="1.4" ry="0.31" fill="rgba(120,70,40,0.35)"/>
<ellipse cx="579.48" cy="165.43" rx="1.4" ry="0.31" fill="rgba(120,70,40,0.35)"/>
<ellipse cx="577" cy="169.61" rx="0.99" ry="0.66" fill="rgba(120,70,40,0.35)"/>
<ellipse cx="573.87" cy="170.05" rx="1.16" ry="1.1" fill="rgba(200,90,70,0.18)"/>
<ellipse cx="580.13" cy="170.05" rx="1.16" ry="1.1" fill="rgba(200,90,70,0.18)"/>
<ellipse cx="577" cy="172.36" rx="2.48" ry="0.88" fill="#9a4a3a"/>
<ellipse cx="577" cy="172.25" rx="1.98" ry="0.48" fill="#f4efe8"/>
</g>
<clipPath id="c2"><rect x="588" y="151.25" width="40" height="19.5"/></clipPath>
<g clip-path="url(#c2)">
<ellipse cx="599" cy="167.33" rx="8.97" ry="10.08" fill="#6b4a2e"/>
<ellipse cx="593.15" cy="173.57" rx="3.9" ry="7.92" fill="#6b4a2e"/>
<ellipse cx="604.85" cy="173.57" rx="3.9" ry="7.92" fill="#6b4a2e"/>
<ellipse cx="591.98" cy="169.73" rx="2.54" ry="4.8" fill="#6b4a2e"/>
<ellipse cx="606.02" cy="169.73" rx="2.54" ry="4.8" fill="#6b4a2e"/>
<rect x="591.98" y="174.05" width="14.04" height="7.2" fill="#6b4a2e"/>
<ellipse cx="599" cy="171.41" rx="5.85" ry="8.88" fill="#cfa488"/>
<rect x="595.1" y="176.45" width="7.8" height="4.8" fill="#cfa488"/>
<ellipse cx="596.08" cy="169.25" rx="1.07" ry="0.53" fill="#4a3424"/>
<ellipse cx="601.92" cy="169.25" rx="1.07" ry="0.53" fill="#4a3424"/>
<ellipse cx="596.08" cy="167.81" rx="1.66" ry="0.34" fill="rgba(120,70,40,0.35)"/>
<ellipse cx="601.92" cy="167.81" rx="1.66" ry="0.34" fill="rgba(120,70,40,0.35)"/>
<ellipse cx="599" cy="172.37" rx="1.17" ry="0.72" fill="rgba(120,70,40,0.35)"/>
<ellipse cx="595.29" cy="172.85" rx="1.37" ry="1.2" fill="rgba(200,90,70,0.18)"/>
<ellipse cx="602.71" cy="172.85" rx="1.37" ry="1.2" fill="rgba(200,90,70,0.18)"/>
<ellipse cx="599" cy="175.37" rx="2.92" ry="0.96" fill="#9a4a3a"/>
<ellipse cx="599" cy="175.25" rx="2.34" ry="0.53" fill="#f4efe8"/>
</g>
<rect x="590" y="170.75" width="113" height="68.25" rx="9.5" ry="9.5" fill="#fff" stroke="#000" stroke-width="1.3"/>
<text x="645.5" y="182.25" font-size="7.6" text-anchor="middle" textLength="77.5" lengthAdjust="spacingAndGlyphs" font-family='"Liberation Sans", Arial, sans-serif' stroke="#000" stroke-width="0.28" xml:space="preserve">How confident are you</text>
<text x="646" y="192.25" font-size="7.6" text-anchor="middle" textLength="52.5" lengthAdjust="spacingAndGlyphs" font-family='"Liberation Sans", Arial, sans-serif' stroke="#000" stroke-width="0.28" xml:space="preserve">in  your choice?</text>
<circle cx="610" cy="212.75" r="3" fill="#111"/>
<circle cx="618.39" cy="212.75" r="3" fill="#111"/>
<circle cx="626.78" cy="212.75" r="3" fill="#111"/>
<circle cx="635.17" cy="212.75" r="3" fill="#111"/>
<circle cx="643.56" cy="212.75" r="3" fill="#111"/>
<circle cx="651.95" cy="212.75" r="3" fill="#111"/>
<circle cx="660.34" cy="212.75" r="3" fill="#111"/>
<circle cx="668.73" cy="212.75" r="3" fill="#111"/>
<circle cx="677.12" cy="212.75" r="3" fill="#111"/>
<circle cx="685.51" cy="212.75" r="3" fill="#111"/>
<text x="596.25" y="225.95" font-size="7.4" textLength="18.75" lengthAdjust="spacingAndGlyphs" font-family='"Liberation Sans", Arial, sans-serif' stroke="#000" stroke-width="0.28" xml:space="preserve">None</text>
<text x="682.5" y="225.95" font-size="7.4" textLength="11.25" lengthAdjust="spacingAndGlyphs" font-family='"Liberation Sans", Arial, sans-serif' stroke="#000" stroke-width="0.28" xml:space="preserve">Lot</text>
<rect x="629.25" y="419.5" width="113" height="68.25" rx="9.5" ry="9.5" fill="#fff" stroke="#000" stroke-width="1.3"/>
<text x="685.75" y="431.3" font-size="7.3" text-anchor="middle" textLength="105.75" lengthAdjust="spacingAndGlyphs" font-weight="bold" font-family='"Liberation Sans", Arial, sans-serif' fill-opacity="0.85" xml:space="preserve">Reasons for yesterday's choices</text>
<circle cx="645.5" cy="443.25" r="2.9" fill="#111"/>
<text x="652.85" y="446.05" font-size="7.2" textLength="35.6" lengthAdjust="spacingAndGlyphs" font-weight="bold" font-family='"Liberation Sans", Arial, sans-serif' fill-opacity="0.85" xml:space="preserve">Familiarity</text>
<circle cx="645.5" cy="453.55" r="2.9" fill="#111"/>
<text x="652.85" y="456.35" font-size="7.2" textLength="16.8" lengthAdjust="spacingAndGlyphs" font-weight="bold" font-family='"Liberation Sans", Arial, sans-serif' fill-opacity="0.85" xml:space="preserve">Trust</text>
<circle cx="645.5" cy="463.85" r="2.9" fill="#111"/>
<text x="652.85" y="466.65" font-size="7.2" textLength="48.1" lengthAdjust="spacingAndGlyphs" font-weight="bold" font-family='"Liberation Sans", Arial, sans-serif' fill-opacity="0.85" xml:space="preserve">Facial features</text>
<circle cx="645.5" cy="474.15" r="2.9" fill="#111"/>
<text x="652.85" y="476.95" font-size="7.2" textLength="32" lengthAdjust="spacingAndGlyphs" font-weight="bold" font-family='"Liberation Sans", Arial, sans-serif' fill-opacity="0.85" xml:space="preserve">Other: ......</text>
<rect x="690" y="481.25" width="113" height="68.25" rx="9.5" ry="9.5" fill="#fff" stroke="#000" stroke-width="1.3"/>
<text x="746.5" y="493.05" font-size="7.3" text-anchor="middle" textLength="92" lengthAdjust="spacingAndGlyphs" font-weight="bold" font-family='"Liberation Sans", Arial, sans-serif' fill-opacity="0.85" xml:space="preserve">Reasons for today's choices</text>
<circle cx="706.25" cy="502.5" r="2.9" fill="#111"/>
<text x="713.6" y="505.3" font-size="7.2" textLength="35.6" lengthAdjust="spacingAndGlyphs" font-weight="bold" font-family='"Liberation Sans", Arial, sans-serif' fill-opacity="0.85" xml:space="preserve">Familiarity</text>
<circle cx="706.25" cy="512.3" r="2.9" fill="#111"/>
<text x="713.6" y="515.1" font-size="7.2" textLength="16.8" lengthAdjust="spacingAndGlyphs" font-weight="bold" font-family='"Liberation Sans", Arial, sans-serif' fill-opacity="0.85" xml:space="preserve">Trust</text>
<circle cx="706.25" cy="522.1" r="2.9" fill="#111"/>
<text x="713.6" y="524.9" font-size="7.2" textLength="48.1" lengthAdjust="spacingAndGlyphs" font-weight="bold" font-family='"Liberation Sans", Arial, sans-serif' fill-opacity="0.85" xml:space="preserve">Facial features</text>
<circle cx="706.25" cy="531.9" r="2.9" fill="#111"/>
<text x="713.6" y="534.7" font-size="7.2" textLength="29" lengthAdjust="spacingAndGlyphs" font-weight="bold" font-family='"Liberation Sans", Arial, sans-serif' fill-opacity="0.85" xml:space="preserve">Memory</text>
<circle cx="706.25" cy="541.7" r="2.9" fill="#111"/>
<text x="713.6" y="544.5" font-size="7.2" textLength="32" lengthAdjust="spacingAndGlyphs" font-weight="bold" font-family='"Liberation Sans", Arial, sans-serif' fill-opacity="0.85" xml:space="preserve">Other: ......</text>
</g>
<g>
<text x="857" y="22.5" font-size="22.5" xml:space="preserve">B</text>
<rect x="930.75" y="155" width="224.25" height="368.75" fill="#d3d3d3"/>
<line x1="930.75" y1="222.62" x2="1155" y2="222.62" stroke="#fff" stroke-width="2.7"/>
<line x1="930.75" y1="336.38" x2="1155" y2="336.38" stroke="#fff" stroke-width="2.7"/>
<line x1="930.75" y1="450.12" x2="1155" y2="450.12" stroke="#fff" stroke-width="2.7"/>
<line x1="930.75" y1="165.75" x2="1155" y2="165.75" stroke="#fff" stroke-width="4"/>
<line x1="930.75" y1="279.5" x2="1155" y2="279.5" stroke="#fff" stroke-width="4"/>
<line x1="930.75" y1="393.25" x2="1155" y2="393.25" stroke="#fff" stroke-width="4"/>
<line x1="930.75" y1="507" x2="1155" y2="507" stroke="#fff" stroke-width="4"/>
<line x1="963.25" y1="155" x2="963.25" y2="523.75" stroke="#fff" stroke-width="2.6"/>
<line x1="1016.5" y1="155" x2="1016.5" y2="523.75" stroke="#fff" stroke-width="2.6"/>
<line x1="1069.75" y1="155" x2="1069.75" y2="523.75" stroke="#fff" stroke-width="2.6"/>
<line x1="1123" y1="155" x2="1123" y2="523.75" stroke="#fff" stroke-width="2.6"/>
<rect x="1168.75" y="154.25" width="223.5" height="368.75" fill="#ebebeb"/>
<line x1="1168.75" y1="222.12" x2="1392.25" y2="222.12" stroke="#fff" stroke-width="2.7"/>
<line x1="1168.75" y1="335.88" x2="1392.25" y2="335.88" stroke="#fff" stroke-width="2.7"/>
<line x1="1168.75" y1="449.62" x2="1392.25" y2="449.62" stroke="#fff" stroke-width="2.7"/>
<line x1="1168.75" y1="165.25" x2="1392.25" y2="165.25" stroke="#fff" stroke-width="4"/>
<line x1="1168.75" y1="279" x2="1392.25" y2="279" stroke="#fff" stroke-width="4"/>
<line x1="1168.75" y1="392.75" x2="1392.25" y2="392.75" stroke="#fff" stroke-width="4"/>
<line x1="1168.75" y1="506.5" x2="1392.25" y2="506.5" stroke="#fff" stroke-width="4"/>
<line x1="1201.25" y1="154.25" x2="1201.25" y2="523" stroke="#fff" stroke-width="2.6"/>
<line x1="1254.2" y1="154.25" x2="1254.2" y2="523" stroke="#fff" stroke-width="2.6"/>
<line x1="1307.1" y1="154.25" x2="1307.1" y2="523" stroke="#fff" stroke-width="2.6"/>
<line x1="1360.1" y1="154.25" x2="1360.1" y2="523" stroke="#fff" stroke-width="2.6"/>
<rect x="944.5" y="327.5" width="18.75" height="179.5" fill="#f5c713"/>
<rect x="963.25" y="214" width="18.75" height="293" fill="#a0a0a0"/>
<rect x="997.75" y="365" width="18.75" height="142" fill="#f5c713"/>
<rect x="1016.5" y="355.75" width="18.75" height="151.25" fill="#a0a0a0"/>
<rect x="1051" y="384" width="18.75" height="123" fill="#f5c713"/>
<rect x="1069.75" y="431.25" width="18.75" height="75.75" fill="#a0a0a0"/>
<rect x="1104.25" y="355.75" width="18.75" height="151.25" fill="#f5c713"/>
<rect x="1123" y="459.5" width="18.75" height="47.5" fill="#a0a0a0"/>
<line x1="930.75" y1="317.5" x2="1155" y2="317.5" stroke="rgb(80,80,80)" stroke-width="3.1" stroke-opacity="0.5" stroke-dasharray="9.7 10.6" stroke-dashoffset="4.35"/>
<line x1="953.88" y1="290" x2="953.88" y2="364.5" stroke="#000" stroke-width="3.9"/>
<line x1="972.62" y1="172" x2="972.62" y2="256.25" stroke="#000" stroke-width="3.9"/>
<line x1="1007.12" y1="329.5" x2="1007.12" y2="400.75" stroke="#000" stroke-width="3.9"/>
<line x1="1025.88" y1="326.75" x2="1025.88" y2="385" stroke="#000" stroke-width="3.9"/>
<line x1="1060.38" y1="356" x2="1060.38" y2="412.5" stroke="#000" stroke-width="3.9"/>
<line x1="1079.12" y1="402.75" x2="1079.12" y2="460" stroke="#000" stroke-width="3.9"/>
<line x1="1113.62" y1="315.75" x2="1113.62" y2="395.75" stroke="#000" stroke-width="3.9"/>
<line x1="1132.38" y1="441" x2="1132.38" y2="478" stroke="#000" stroke-width="3.9"/>
<rect x="1182.5" y="290.5" width="18.75" height="216.5" fill="#f5c713"/>
<rect x="1201.25" y="300" width="18.75" height="207" fill="#a0a0a0"/>
<rect x="1235.45" y="384.5" width="18.75" height="122.5" fill="#f5c713"/>
<rect x="1254.2" y="328" width="18.75" height="179" fill="#a0a0a0"/>
<rect x="1288.35" y="403.5" width="18.75" height="103.5" fill="#f5c713"/>
<rect x="1307.1" y="441.2" width="18.75" height="65.8" fill="#a0a0a0"/>
<rect x="1341.35" y="375.5" width="18.75" height="131.5" fill="#f5c713"/>
<rect x="1360.1" y="394.5" width="18.75" height="112.5" fill="#a0a0a0"/>
<line x1="1168.75" y1="317.2" x2="1392.25" y2="317.2" stroke="rgb(80,80,80)" stroke-width="3.1" stroke-opacity="0.5" stroke-dasharray="10.1 10.24" stroke-dashoffset="4.45"/>
<line x1="1191.88" y1="256.25" x2="1191.88" y2="324.5" stroke="#000" stroke-width="3.9"/>
<line x1="1210.62" y1="259" x2="1210.62" y2="340.5" stroke="#000" stroke-width="3.9"/>
<line x1="1244.83" y1="360" x2="1244.83" y2="409.5" stroke="#000" stroke-width="3.9"/>
<line x1="1263.58" y1="302.5" x2="1263.58" y2="353.75" stroke="#000" stroke-width="3.9"/>
<line x1="1297.72" y1="382" x2="1297.72" y2="425" stroke="#000" stroke-width="3.9"/>
<line x1="1316.47" y1="413.2" x2="1316.47" y2="469.1" stroke="#000" stroke-width="3.9"/>
<line x1="1350.72" y1="344.5" x2="1350.72" y2="406.25" stroke="#000" stroke-width="3.9"/>
<line x1="1369.47" y1="365.5" x2="1369.47" y2="423" stroke="#000" stroke-width="3.9"/>
<text x="1079.5" y="188" font-size="20.5" textLength="53" lengthAdjust="spacingAndGlyphs" xml:space="preserve">Day 1</text>
<text x="1323.75" y="186.25" font-size="20.5" textLength="54.25" lengthAdjust="spacingAndGlyphs" xml:space="preserve">Day 2</text>
<line x1="928" y1="165.75" x2="930.75" y2="165.75" stroke="#333" stroke-width="3"/>
<line x1="928" y1="279.5" x2="930.75" y2="279.5" stroke="#333" stroke-width="3"/>
<line x1="928" y1="393.25" x2="930.75" y2="393.25" stroke="#333" stroke-width="3"/>
<line x1="928" y1="507" x2="930.75" y2="507" stroke="#333" stroke-width="3"/>
<text x="920.5" y="174.25" font-size="17.8" text-anchor="end" textLength="24.25" lengthAdjust="spacingAndGlyphs" xml:space="preserve">0.6</text>
<text x="920.5" y="287.25" font-size="17.8" text-anchor="end" textLength="24.25" lengthAdjust="spacingAndGlyphs" xml:space="preserve">0.4</text>
<text x="920.5" y="401.4" font-size="17.8" text-anchor="end" textLength="24.25" lengthAdjust="spacingAndGlyphs" xml:space="preserve">0.2</text>
<text x="920.5" y="510" font-size="17.8" text-anchor="end" textLength="24.25" lengthAdjust="spacingAndGlyphs" xml:space="preserve">0.0</text>
<text x="880.5" y="327.6" font-size="21.4" text-anchor="middle" textLength="171" lengthAdjust="spacingAndGlyphs" transform="rotate(-90 880.5 327.6)" xml:space="preserve">Choice Proportion</text>
<line x1="963.25" y1="523.75" x2="963.25" y2="529.5" stroke="#333" stroke-width="3.2"/>
<line x1="1016.5" y1="523.75" x2="1016.5" y2="529.5" stroke="#333" stroke-width="3.2"/>
<line x1="1069.75" y1="523.75" x2="1069.75" y2="529.5" stroke="#333" stroke-width="3.2"/>
<line x1="1123" y1="523.75" x2="1123" y2="529.5" stroke="#333" stroke-width="3.2"/>
<line x1="1201.25" y1="523" x2="1201.25" y2="529" stroke="#333" stroke-width="3.2"/>
<line x1="1254.2" y1="523" x2="1254.2" y2="529" stroke="#333" stroke-width="3.2"/>
<line x1="1307.1" y1="523" x2="1307.1" y2="529" stroke="#333" stroke-width="3.2"/>
<line x1="1360.1" y1="523" x2="1360.1" y2="529" stroke="#333" stroke-width="3.2"/>
<text x="960.75" y="550.5" font-size="17.8" text-anchor="middle" xml:space="preserve">12</text>
<text x="1014" y="550.5" font-size="17.8" text-anchor="middle" xml:space="preserve">6</text>
<text x="1067.25" y="550.5" font-size="17.8" text-anchor="middle" xml:space="preserve">1a</text>
<text x="1120.5" y="550.5" font-size="17.8" text-anchor="middle" xml:space="preserve">1b</text>
<text x="1198.75" y="550.5" font-size="17.8" text-anchor="middle" xml:space="preserve">12</text>
<text x="1251.7" y="550.5" font-size="17.8" text-anchor="middle" xml:space="preserve">6</text>
<text x="1304.6" y="550.5" font-size="17.8" text-anchor="middle" xml:space="preserve">1a</text>
<text x="1357.6" y="550.5" font-size="17.8" text-anchor="middle" xml:space="preserve">1b</text>
<text x="1039.6" y="572.5" font-size="20.5" text-anchor="middle" textLength="200.75" lengthAdjust="spacingAndGlyphs" xml:space="preserve">Repetition Frequency</text>
<text x="1277.5" y="572" font-size="20.5" text-anchor="middle" textLength="200.75" lengthAdjust="spacingAndGlyphs" xml:space="preserve">Repetition Frequency</text>
<line x1="970" y1="113.75" x2="1139.5" y2="113.75" stroke="#000" stroke-width="3"/>
<line x1="970" y1="131.25" x2="1083" y2="131.25" stroke="#000" stroke-width="3"/>
<line x1="950.25" y1="144.25" x2="977" y2="144.25" stroke="#000" stroke-width="3"/>
<text x="970.35" y="115.4" font-size="20" xml:space="preserve">**</text>
<text x="970.35" y="133.4" font-size="20" xml:space="preserve">*</text>
<text x="952.5" y="139.5" font-size="19" textLength="11.25" lengthAdjust="spacingAndGlyphs" xml:space="preserve">#</text>
</g>
<g>
<text x="1410" y="22.5" font-size="22.5" xml:space="preserve">C</text>
<rect x="1497" y="125.75" width="138" height="409.25" fill="#ebebeb"/>
<line x1="1497" y1="188" x2="1635" y2="188" stroke="#fff" stroke-width="2.7"/>
<line x1="1497" y1="282" x2="1635" y2="282" stroke="#fff" stroke-width="2.7"/>
<line x1="1497" y1="374.5" x2="1635" y2="374.5" stroke="#fff" stroke-width="2.7"/>
<line x1="1497" y1="467.5" x2="1635" y2="467.5" stroke="#fff" stroke-width="2.7"/>
<line x1="1497" y1="141.25" x2="1635" y2="141.25" stroke="#fff" stroke-width="4"/>
<line x1="1497" y1="235" x2="1635" y2="235" stroke="#fff" stroke-width="4"/>
<line x1="1497" y1="328" x2="1635" y2="328" stroke="#fff" stroke-width="4"/>
<line x1="1497" y1="420.75" x2="1635" y2="420.75" stroke="#fff" stroke-width="4"/>
<line x1="1497" y1="513.75" x2="1635" y2="513.75" stroke="#fff" stroke-width="4"/>
<line x1="1533.75" y1="125.75" x2="1533.75" y2="535" stroke="#fff" stroke-width="2.1"/>
<line x1="1595.75" y1="125.75" x2="1595.75" y2="535" stroke="#fff" stroke-width="2.1"/>
<rect x="1507.5" y="222" width="54.5" height="294.25" fill="#f5c713"/>
<rect x="1569.5" y="222" width="54.25" height="294.25" fill="#a0a0a0"/>
<line x1="1534.75" y1="201.25" x2="1534.75" y2="243" stroke="#000" stroke-width="3.9"/>
<line x1="1524.5" y1="201.25" x2="1545" y2="201.25" stroke="#000" stroke-width="3.9"/>
<line x1="1524.5" y1="243" x2="1545" y2="243" stroke="#000" stroke-width="3.9"/>
<line x1="1596.75" y1="190.5" x2="1596.75" y2="254.5" stroke="#000" stroke-width="3.9"/>
<line x1="1586.75" y1="190.5" x2="1607" y2="190.5" stroke="#000" stroke-width="3.9"/>
<line x1="1586.75" y1="254.5" x2="1607" y2="254.5" stroke="#000" stroke-width="3.9"/>
<line x1="1493.6" y1="141.25" x2="1496.6" y2="141.25" stroke="#333" stroke-width="3.4"/>
<line x1="1493.6" y1="235" x2="1496.6" y2="235" stroke="#333" stroke-width="3.4"/>
<line x1="1493.6" y1="328" x2="1496.6" y2="328" stroke="#333" stroke-width="3.4"/>
<line x1="1493.6" y1="420.75" x2="1496.6" y2="420.75" stroke="#333" stroke-width="3.4"/>
<line x1="1493.6" y1="513.75" x2="1496.6" y2="513.75" stroke="#333" stroke-width="3.4"/>
<text x="1482" y="152" font-size="19.2" text-anchor="end" textLength="26.5" lengthAdjust="spacingAndGlyphs" xml:space="preserve">0.8</text>
<text x="1482" y="243.75" font-size="19.2" text-anchor="end" textLength="26.5" lengthAdjust="spacingAndGlyphs" xml:space="preserve">0.6</text>
<text x="1482" y="335.5" font-size="19.2" text-anchor="end" textLength="26.5" lengthAdjust="spacingAndGlyphs" xml:space="preserve">0.4</text>
<text x="1482" y="427.5" font-size="19.2" text-anchor="end" textLength="26.5" lengthAdjust="spacingAndGlyphs" xml:space="preserve">0.2</text>
<text x="1482" y="519.25" font-size="19.2" text-anchor="end" textLength="26.5" lengthAdjust="spacingAndGlyphs" xml:space="preserve">0.0</text>
<line x1="1533.75" y1="534" x2="1533.75" y2="541" stroke="#333" stroke-width="3.2"/>
<line x1="1595.75" y1="534" x2="1595.75" y2="541" stroke="#333" stroke-width="3.2"/>
<text x="1531.6" y="569.5" font-size="18.5" text-anchor="middle" textLength="31.75" lengthAdjust="spacingAndGlyphs" xml:space="preserve">IMT</text>
<text x="1596.4" y="568.5" font-size="18.5" text-anchor="middle" textLength="38.75" lengthAdjust="spacingAndGlyphs" xml:space="preserve">UST</text>
<text x="1431.3" y="317.8" font-size="23.7" text-anchor="middle" textLength="145.8" lengthAdjust="spacingAndGlyphs" transform="rotate(-90 1431.3 317.8)" xml:space="preserve">Memory Ratio</text>
<rect x="1658" y="128.5" width="52" height="103" fill="#f6f6f6"/>
<rect x="1660" y="130.5" width="48" height="47.75" fill="#f5c713"/>
<rect x="1660" y="182" width="48" height="47.5" fill="#a0a0a0"/>
<text x="1721.25" y="163.75" font-size="23.3" textLength="37.5" lengthAdjust="spacingAndGlyphs" xml:space="preserve">IMT</text>
<text x="1721.25" y="214.5" font-size="23.3" textLength="44.2" lengthAdjust="spacingAndGlyphs" xml:space="preserve">UST</text>
</g>
<g>
<text x="11.6" y="629" font-size="22.5" xml:space="preserve">D</text>
<text x="40" y="648.4" font-size="22.5" xml:space="preserve">i.</text>
<rect x="70" y="700" width="193.5" height="328" fill="#d3d3d3"/>
<line x1="70" y1="740.33" x2="263.5" y2="740.33" stroke="#fff" stroke-width="2.7"/>
<line x1="70" y1="849.68" x2="263.5" y2="849.68" stroke="#fff" stroke-width="2.7"/>
<line x1="70" y1="959.03" x2="263.5" y2="959.03" stroke="#fff" stroke-width="2.7"/>
<line x1="70" y1="795" x2="263.5" y2="795" stroke="#fff" stroke-width="4"/>
<line x1="70" y1="904.35" x2="263.5" y2="904.35" stroke="#fff" stroke-width="4"/>
<line x1="70" y1="1013.7" x2="263.5" y2="1013.7" stroke="#fff" stroke-width="4"/>
<line x1="97.6" y1="700" x2="97.6" y2="1028" stroke="#fff" stroke-width="2.6"/>
<line x1="143.9" y1="700" x2="143.9" y2="1028" stroke="#fff" stroke-width="2.6"/>
<line x1="190" y1="700" x2="190" y2="1028" stroke="#fff" stroke-width="2.6"/>
<line x1="236.2" y1="700" x2="236.2" y2="1028" stroke="#fff" stroke-width="2.6"/>
<rect x="281.5" y="700" width="192.7" height="328" fill="#ebebeb"/>
<line x1="281.5" y1="740.33" x2="474.2" y2="740.33" stroke="#fff" stroke-width="2.7"/>
<line x1="281.5" y1="849.68" x2="474.2" y2="849.68" stroke="#fff" stroke-width="2.7"/>
<line x1="281.5" y1="959.03" x2="474.2" y2="959.03" stroke="#fff" stroke-width="2.7"/>
<line x1="281.5" y1="795" x2="474.2" y2="795" stroke="#fff" stroke-width="4"/>
<line x1="281.5" y1="904.35" x2="474.2" y2="904.35" stroke="#fff" stroke-width="4"/>
<line x1="281.5" y1="1013.7" x2="474.2" y2="1013.7" stroke="#fff" stroke-width="4"/>
<line x1="307.5" y1="700" x2="307.5" y2="1028" stroke="#fff" stroke-width="2.6"/>
<line x1="353.8" y1="700" x2="353.8" y2="1028" stroke="#fff" stroke-width="2.6"/>
<line x1="400.1" y1="700" x2="400.1" y2="1028" stroke="#fff" stroke-width="2.6"/>
<line x1="446.6" y1="700" x2="446.6" y2="1028" stroke="#fff" stroke-width="2.6"/>
<rect x="81.4" y="846" width="16.2" height="167.7" fill="#f5c713"/>
<rect x="97.6" y="909.1" width="16.2" height="104.6" fill="#a0a0a0"/>
<rect x="127.7" y="792.2" width="16.2" height="221.5" fill="#f5c713"/>
<rect x="143.9" y="913" width="16.2" height="100.7" fill="#a0a0a0"/>
<rect x="173.8" y="821.7" width="16.2" height="192" fill="#f5c713"/>
<rect x="190" y="884.2" width="16.2" height="129.5" fill="#a0a0a0"/>
<rect x="220" y="782" width="16.2" height="231.7" fill="#f5c713"/>
<rect x="236.2" y="921" width="16.2" height="92.7" fill="#a0a0a0"/>
<line x1="89.5" y1="817" x2="89.5" y2="876" stroke="#000" stroke-width="3.7"/>
<line x1="105.7" y1="884.8" x2="105.7" y2="933.5" stroke="#000" stroke-width="3.7"/>
<line x1="135.8" y1="737.4" x2="135.8" y2="846" stroke="#000" stroke-width="3.7"/>
<line x1="152" y1="894.5" x2="152" y2="931.8" stroke="#000" stroke-width="3.7"/>
<line x1="181.9" y1="779.2" x2="181.9" y2="864" stroke="#000" stroke-width="3.7"/>
<line x1="198.1" y1="853.3" x2="198.1" y2="915.2" stroke="#000" stroke-width="3.7"/>
<line x1="228.1" y1="752.6" x2="228.1" y2="811.5" stroke="#000" stroke-width="3.7"/>
<line x1="244.3" y1="894.7" x2="244.3" y2="947.8" stroke="#000" stroke-width="3.7"/>
<rect x="291.3" y="863.5" width="16.2" height="150.2" fill="#f5c713"/>
<rect x="307.5" y="889.8" width="16.2" height="123.9" fill="#a0a0a0"/>
<rect x="337.6" y="839.2" width="16.2" height="174.5" fill="#f5c713"/>
<rect x="353.8" y="893.4" width="16.2" height="120.3" fill="#a0a0a0"/>
<rect x="383.9" y="856" width="16.2" height="157.7" fill="#f5c713"/>
<rect x="400.1" y="884.2" width="16.2" height="129.5" fill="#a0a0a0"/>
<rect x="430.4" y="843.3" width="16.2" height="170.4" fill="#f5c713"/>
<rect x="446.6" y="863" width="16.2" height="150.7" fill="#a0a0a0"/>
<line x1="299.4" y1="848.5" x2="299.4" y2="878.7" stroke="#000" stroke-width="3.7"/>
<line x1="315.6" y1="874.3" x2="315.6" y2="905.2" stroke="#000" stroke-width="3.7"/>
<line x1="345.7" y1="808.7" x2="345.7" y2="869.9" stroke="#000" stroke-width="3.7"/>
<line x1="361.9" y1="875" x2="361.9" y2="912" stroke="#000" stroke-width="3.7"/>
<line x1="392" y1="831.7" x2="392" y2="880" stroke="#000" stroke-width="3.7"/>
<line x1="408.2" y1="870.4" x2="408.2" y2="898" stroke="#000" stroke-width="3.7"/>
<line x1="438.5" y1="813.4" x2="438.5" y2="873.2" stroke="#000" stroke-width="3.7"/>
<line x1="454.7" y1="840" x2="454.7" y2="885" stroke="#000" stroke-width="3.7"/>
<text x="206.8" y="723" font-size="18.2" textLength="47.6" lengthAdjust="spacingAndGlyphs" xml:space="preserve">Day 1</text>
<text x="417" y="723" font-size="18.2" textLength="48.3" lengthAdjust="spacingAndGlyphs" xml:space="preserve">Day 2</text>
<line x1="67.2" y1="795" x2="70" y2="795" stroke="#333" stroke-width="3"/>
<line x1="67.2" y1="904.35" x2="70" y2="904.35" stroke="#333" stroke-width="3"/>
<line x1="67.2" y1="1013.7" x2="70" y2="1013.7" stroke="#333" stroke-width="3"/>
<text x="25.8" y="800.9" font-size="18.6" textLength="36.6" lengthAdjust="spacingAndGlyphs" xml:space="preserve">10.0</text>
<text x="25.8" y="908.6" font-size="18.6" textLength="26.3" lengthAdjust="spacingAndGlyphs" xml:space="preserve">5.0</text>
<text x="25.8" y="1017" font-size="18.6" textLength="26.3" lengthAdjust="spacingAndGlyphs" xml:space="preserve">0.0</text>
<text x="20.3" y="854" font-size="19.2" text-anchor="middle" textLength="238" lengthAdjust="spacingAndGlyphs" transform="rotate(-90 20.3 854)" xml:space="preserve">Response Time (x 1000 ms)</text>
<line x1="97.6" y1="1028" x2="97.6" y2="1033.5" stroke="#333" stroke-width="3.2"/>
<line x1="143.9" y1="1028" x2="143.9" y2="1033.5" stroke="#333" stroke-width="3.2"/>
<line x1="190" y1="1028" x2="190" y2="1033.5" stroke="#333" stroke-width="3.2"/>
<line x1="236.2" y1="1028" x2="236.2" y2="1033.5" stroke="#333" stroke-width="3.2"/>
<line x1="307.5" y1="1028" x2="307.5" y2="1033.5" stroke="#333" stroke-width="3.2"/>
<line x1="353.8" y1="1028" x2="353.8" y2="1033.5" stroke="#333" stroke-width="3.2"/>
<line x1="400.1" y1="1028" x2="400.1" y2="1033.5" stroke="#333" stroke-width="3.2"/>
<line x1="446.6" y1="1028" x2="446.6" y2="1033.5" stroke="#333" stroke-width="3.2"/>
<text x="96.1" y="1053.4" font-size="15.7" text-anchor="middle" xml:space="preserve">12</text>
<text x="142.4" y="1053.4" font-size="15.7" text-anchor="middle" xml:space="preserve">6</text>
<text x="188.5" y="1053.4" font-size="15.7" text-anchor="middle" xml:space="preserve">1a</text>
<text x="234.7" y="1053.4" font-size="15.7" text-anchor="middle" xml:space="preserve">1b</text>
<text x="306" y="1053.4" font-size="15.7" text-anchor="middle" xml:space="preserve">12</text>
<text x="352.3" y="1053.4" font-size="15.7" text-anchor="middle" xml:space="preserve">6</text>
<text x="398.6" y="1053.4" font-size="15.7" text-anchor="middle" xml:space="preserve">1a</text>
<text x="445.1" y="1053.4" font-size="15.7" text-anchor="middle" xml:space="preserve">1b</text>
<text x="164.9" y="1083.3" font-size="20" text-anchor="middle" textLength="191.7" lengthAdjust="spacingAndGlyphs" xml:space="preserve">Repetition Frequency</text>
<text x="376.4" y="1082" font-size="20" text-anchor="middle" textLength="191.6" lengthAdjust="spacingAndGlyphs" xml:space="preserve">Repetition Frequency</text>
<line x1="87" y1="692" x2="111" y2="692" stroke="#000" stroke-width="3.3"/>
<line x1="130.5" y1="692" x2="154.3" y2="692" stroke="#000" stroke-width="3.3"/>
<line x1="225.3" y1="692" x2="249.4" y2="692" stroke="#000" stroke-width="3.3"/>
<text x="88.1" y="692.4" font-size="20" xml:space="preserve">**</text>
<text x="131.6" y="692.4" font-size="20" xml:space="preserve">*</text>
<text x="226.1" y="692.4" font-size="20" xml:space="preserve">***</text>
<text x="508.2" y="648.4" font-size="22.5" xml:space="preserve">ii.</text>
<rect x="530.8" y="694" width="83" height="327.7" fill="#d3d3d3"/>
<line x1="530.8" y1="730.1" x2="613.8" y2="730.1" stroke="#fff" stroke-width="2.7"/>
<line x1="530.8" y1="809.1" x2="613.8" y2="809.1" stroke="#fff" stroke-width="2.7"/>
<line x1="530.8" y1="888.1" x2="613.8" y2="888.1" stroke="#fff" stroke-width="2.7"/>
<line x1="530.8" y1="967.1" x2="613.8" y2="967.1" stroke="#fff" stroke-width="2.7"/>
<line x1="530.8" y1="769.6" x2="613.8" y2="769.6" stroke="#fff" stroke-width="4"/>
<line x1="530.8" y1="848.6" x2="613.8" y2="848.6" stroke="#fff" stroke-width="4"/>
<line x1="530.8" y1="927.6" x2="613.8" y2="927.6" stroke="#fff" stroke-width="4"/>
<line x1="530.8" y1="1006.6" x2="613.8" y2="1006.6" stroke="#fff" stroke-width="4"/>
<line x1="553" y1="694" x2="553" y2="1021.7" stroke="#fff" stroke-width="1.6"/>
<line x1="591.3" y1="694" x2="591.3" y2="1021.7" stroke="#fff" stroke-width="1.6"/>
<rect x="620.1" y="694" width="80.2" height="326.3" fill="#ebebeb"/>
<line x1="620.1" y1="730.1" x2="700.3" y2="730.1" stroke="#fff" stroke-width="2.7"/>
<line x1="620.1" y1="809.1" x2="700.3" y2="809.1" stroke="#fff" stroke-width="2.7"/>
<line x1="620.1" y1="888.1" x2="700.3" y2="888.1" stroke="#fff" stroke-width="2.7"/>
<line x1="620.1" y1="967.1" x2="700.3" y2="967.1" stroke="#fff" stroke-width="2.7"/>
<line x1="620.1" y1="769.6" x2="700.3" y2="769.6" stroke="#fff" stroke-width="4"/>
<line x1="620.1" y1="848.6" x2="700.3" y2="848.6" stroke="#fff" stroke-width="4"/>
<line x1="620.1" y1="927.6" x2="700.3" y2="927.6" stroke="#fff" stroke-width="4"/>
<line x1="620.1" y1="1006.6" x2="700.3" y2="1006.6" stroke="#fff" stroke-width="4"/>
<line x1="641.6" y1="694" x2="641.6" y2="1020.3" stroke="#fff" stroke-width="1.6"/>
<line x1="679.3" y1="694" x2="679.3" y2="1020.3" stroke="#fff" stroke-width="1.6"/>
<rect x="540" y="732.7" width="26.8" height="274" fill="#f5c713"/>
<rect x="577.8" y="852.5" width="26.9" height="154.2" fill="#a0a0a0"/>
<rect x="627.6" y="777" width="27.1" height="228" fill="#f5c713"/>
<rect x="666.3" y="813.4" width="27.1" height="191.6" fill="#a0a0a0"/>
<line x1="553.5" y1="709.2" x2="553.5" y2="755.7" stroke="#000" stroke-width="3.7"/>
<line x1="591.1" y1="836.4" x2="591.1" y2="868.5" stroke="#000" stroke-width="3.7"/>
<line x1="641.1" y1="761.7" x2="641.1" y2="792.2" stroke="#000" stroke-width="3.7"/>
<line x1="680.1" y1="801" x2="680.1" y2="826.2" stroke="#000" stroke-width="3.7"/>
<line x1="528.2" y1="769.6" x2="530.8" y2="769.6" stroke="#333" stroke-width="3"/>
<line x1="528.2" y1="848.6" x2="530.8" y2="848.6" stroke="#333" stroke-width="3"/>
<line x1="528.2" y1="927.6" x2="530.8" y2="927.6" stroke="#333" stroke-width="3"/>
<line x1="528.2" y1="1006.6" x2="530.8" y2="1006.6" stroke="#333" stroke-width="3"/>
<text x="524" y="775.6" font-size="19.5" text-anchor="end" textLength="27.2" lengthAdjust="spacingAndGlyphs" xml:space="preserve">7.5</text>
<text x="524" y="853" font-size="19.5" text-anchor="end" textLength="27.2" lengthAdjust="spacingAndGlyphs" xml:space="preserve">5.0</text>
<text x="524" y="934" font-size="19.5" text-anchor="end" textLength="27.2" lengthAdjust="spacingAndGlyphs" xml:space="preserve">2.5</text>
<text x="524" y="1011.3" font-size="19.5" text-anchor="end" textLength="27.2" lengthAdjust="spacingAndGlyphs" xml:space="preserve">0.0</text>
<line x1="553" y1="1021.7" x2="553" y2="1028" stroke="#333" stroke-width="3.2"/>
<line x1="591.3" y1="1021.7" x2="591.3" y2="1028" stroke="#333" stroke-width="3.2"/>
<line x1="641.6" y1="1020.3" x2="641.6" y2="1026.5" stroke="#333" stroke-width="3.2"/>
<line x1="679.3" y1="1020.3" x2="679.3" y2="1026.5" stroke="#333" stroke-width="3.2"/>
<text x="538.6" y="1049.3" font-size="15.6" textLength="26.8" lengthAdjust="spacingAndGlyphs" xml:space="preserve">IMT</text>
<text x="576.4" y="1049.3" font-size="15.6" textLength="31" lengthAdjust="spacingAndGlyphs" xml:space="preserve">UST</text>
<text x="629.5" y="1049.3" font-size="15.6" textLength="25.7" lengthAdjust="spacingAndGlyphs" xml:space="preserve">IMT</text>
<text x="666.9" y="1049.3" font-size="15.6" textLength="31.2" lengthAdjust="spacingAndGlyphs" xml:space="preserve">UST</text>
<line x1="538.6" y1="1053.7" x2="602.7" y2="1053.7" stroke="#b5b5b5" stroke-width="0.9"/>
<line x1="629" y1="1053.7" x2="692.6" y2="1053.7" stroke="#b5b5b5" stroke-width="0.9"/>
<text x="550.2" y="1073.6" font-size="18.2" textLength="47.5" lengthAdjust="spacingAndGlyphs" xml:space="preserve">Day 1</text>
<text x="640.9" y="1073.6" font-size="18.2" textLength="48.4" lengthAdjust="spacingAndGlyphs" xml:space="preserve">Day 2</text>
<line x1="551.6" y1="685.7" x2="589.7" y2="685.7" stroke="#000" stroke-width="3"/>
<line x1="587" y1="678.2" x2="680.7" y2="676.6" stroke="#000" stroke-width="3"/>
<text x="553.4" y="689.2" font-size="20" xml:space="preserve">**</text>
<text x="588.5" y="680.9" font-size="20" xml:space="preserve">**</text>
</g>
<g>
<text x="720.2" y="630.4" font-size="22.5" xml:space="preserve">E</text>
<rect x="755.3" y="694.8" width="142.7" height="322.7" fill="#ebebeb"/>
<line x1="755.3" y1="717.9" x2="898" y2="717.9" stroke="#fff" stroke-width="2.7"/>
<line x1="755.3" y1="799.5" x2="898" y2="799.5" stroke="#fff" stroke-width="2.7"/>
<line x1="755.3" y1="881.1" x2="898" y2="881.1" stroke="#fff" stroke-width="2.7"/>
<line x1="755.3" y1="962.7" x2="898" y2="962.7" stroke="#fff" stroke-width="2.7"/>
<line x1="755.3" y1="758.7" x2="898" y2="758.7" stroke="#fff" stroke-width="4"/>
<line x1="755.3" y1="840.3" x2="898" y2="840.3" stroke="#fff" stroke-width="4"/>
<line x1="755.3" y1="921.9" x2="898" y2="921.9" stroke="#fff" stroke-width="4"/>
<line x1="755.3" y1="1003.5" x2="898" y2="1003.5" stroke="#fff" stroke-width="4"/>
<line x1="794" y1="694.8" x2="794" y2="1017.5" stroke="#fff" stroke-width="1.9"/>
<line x1="859" y1="694.8" x2="859" y2="1017.5" stroke="#fff" stroke-width="1.9"/>
<rect x="765" y="809.3" width="29" height="193.8" fill="#f5c713"/>
<rect x="794" y="892.5" width="29.3" height="110.6" fill="#a0a0a0"/>
<rect x="829.4" y="749.3" width="29.6" height="253.8" fill="#f5c713"/>
<rect x="859" y="855.2" width="29" height="147.9" fill="#a0a0a0"/>
<line x1="779.7" y1="787.2" x2="779.7" y2="831.7" stroke="#000" stroke-width="3.7"/>
<line x1="808.7" y1="876.8" x2="808.7" y2="907.7" stroke="#000" stroke-width="3.7"/>
<line x1="844" y1="708.4" x2="844" y2="790.8" stroke="#000" stroke-width="3.7"/>
<line x1="873.7" y1="835.8" x2="873.7" y2="874.6" stroke="#000" stroke-width="3.7"/>
<line x1="753" y1="758.7" x2="755.3" y2="758.7" stroke="#333" stroke-width="3"/>
<line x1="753" y1="840.3" x2="755.3" y2="840.3" stroke="#333" stroke-width="3"/>
<line x1="753" y1="921.9" x2="755.3" y2="921.9" stroke="#333" stroke-width="3"/>
<line x1="753" y1="1003.5" x2="755.3" y2="1003.5" stroke="#333" stroke-width="3"/>
<text x="746.5" y="767.3" font-size="19.3" text-anchor="end" textLength="26.8" lengthAdjust="spacingAndGlyphs" xml:space="preserve">9.0</text>
<text x="746.5" y="847" font-size="19.3" text-anchor="end" textLength="26.8" lengthAdjust="spacingAndGlyphs" xml:space="preserve">6.0</text>
<text x="746.5" y="926.4" font-size="19.3" text-anchor="end" textLength="26.8" lengthAdjust="spacingAndGlyphs" xml:space="preserve">3.0</text>
<text x="746.5" y="1009.5" font-size="19.3" text-anchor="end" textLength="26.8" lengthAdjust="spacingAndGlyphs" xml:space="preserve">0.0</text>
<line x1="794" y1="1018.3" x2="794" y2="1023.3" stroke="#333" stroke-width="3.2"/>
<line x1="859" y1="1018.3" x2="859" y2="1023.3" stroke="#333" stroke-width="3.2"/>
<text x="768" y="1058.4" font-size="17.2" textLength="49.8" lengthAdjust="spacingAndGlyphs" xml:space="preserve">DAY 1</text>
<text x="833.6" y="1058.4" font-size="17.2" textLength="51.1" lengthAdjust="spacingAndGlyphs" xml:space="preserve">DAY 2</text>
<line x1="768.6" y1="682.4" x2="806" y2="682.4" stroke="#000" stroke-width="3.3"/>
<line x1="846.6" y1="682.4" x2="884" y2="682.4" stroke="#000" stroke-width="3.3"/>
<text x="777.3" y="678.1" font-size="20" xml:space="preserve">**</text>
<text x="855.3" y="678.1" font-size="20" xml:space="preserve">**</text>
</g>
<g>
<text x="957.9" y="631.3" font-size="22.5" xml:space="preserve">F</text>
<rect x="1014.4" y="715.7" width="204.7" height="286.3" fill="#fff"/>
<line x1="1028.7" y1="715.7" x2="1028.7" y2="1002" stroke="#ebebeb" stroke-width="1.5"/>
<line x1="1058.2" y1="715.7" x2="1058.2" y2="1002" stroke="#ebebeb" stroke-width="1.5"/>
<line x1="1087.8" y1="715.7" x2="1087.8" y2="1002" stroke="#ebebeb" stroke-width="1.5"/>
<line x1="1116.9" y1="715.7" x2="1116.9" y2="1002" stroke="#ebebeb" stroke-width="1.5"/>
<line x1="1146.2" y1="715.7" x2="1146.2" y2="1002" stroke="#ebebeb" stroke-width="1.5"/>
<line x1="1175.3" y1="715.7" x2="1175.3" y2="1002" stroke="#ebebeb" stroke-width="1.5"/>
<line x1="1204.9" y1="715.7" x2="1204.9" y2="1002" stroke="#ebebeb" stroke-width="1.5"/>
<line x1="1014.4" y1="748.5" x2="1219.1" y2="748.5" stroke="#ececec" stroke-width="1.3"/>
<line x1="1014.4" y1="847.6" x2="1219.1" y2="847.6" stroke="#ececec" stroke-width="1.3"/>
<line x1="1014.4" y1="946.2" x2="1219.1" y2="946.2" stroke="#ececec" stroke-width="1.3"/>
<line x1="1014.4" y1="797.3" x2="1219.1" y2="797.3" stroke="#e6e6e6" stroke-width="3.6"/>
<line x1="1014.4" y1="896.9" x2="1219.1" y2="896.9" stroke="#e6e6e6" stroke-width="3.6"/>
<line x1="1014.4" y1="995.8" x2="1219.1" y2="995.8" stroke="#e6e6e6" stroke-width="3.6"/>
<path d="M1023.18 930.83 C1024.64 929.55 1029.2 924.81 1031.94 923.17 C1034.67 921.53 1036.68 920.98 1039.6 920.98 C1042.52 920.98 1045.62 921.53 1049.45 923.17 C1053.28 924.81 1058.57 928.39 1062.58 930.83 C1066.59 933.28 1070.24 936.3 1073.53 937.84 C1076.81 939.37 1079 940.28 1082.28 940.02 C1085.57 939.77 1089.94 938.57 1093.23 936.3 C1096.51 934.04 1099.06 930.1 1101.98 926.45 C1104.9 922.8 1107.45 917.7 1110.74 914.41 C1114.02 911.13 1118.4 910.22 1121.68 906.75 C1124.97 903.29 1127.88 898.36 1130.44 893.62 C1132.99 888.88 1134.82 883.77 1137.01 878.3 C1139.19 872.82 1141.38 865.53 1143.57 860.78 C1145.76 856.04 1147.59 852.94 1150.14 849.84 C1152.69 846.74 1155.61 844 1158.9 842.18 C1162.18 840.35 1166.19 839.08 1169.84 838.9 C1173.49 838.71 1177.14 838.9 1180.78 841.08 C1184.43 843.27 1188.08 846.92 1191.73 852.03 C1195.38 857.14 1199.39 865.16 1202.67 871.73 C1205.96 878.3 1209.97 888.15 1211.43 891.43 L1211.43 995.8 L1023.18 995.8 Z" fill="rgba(245,199,16,0.47)" stroke="none"/>
<path d="M1023.18 930.83 C1024.64 929.55 1029.2 924.81 1031.94 923.17 C1034.67 921.53 1036.68 920.98 1039.6 920.98 C1042.52 920.98 1045.62 921.53 1049.45 923.17 C1053.28 924.81 1058.57 928.39 1062.58 930.83 C1066.59 933.28 1070.24 936.3 1073.53 937.84 C1076.81 939.37 1079 940.28 1082.28 940.02 C1085.57 939.77 1089.94 938.57 1093.23 936.3 C1096.51 934.04 1099.06 930.1 1101.98 926.45 C1104.9 922.8 1107.45 917.7 1110.74 914.41 C1114.02 911.13 1118.4 910.22 1121.68 906.75 C1124.97 903.29 1127.88 898.36 1130.44 893.62 C1132.99 888.88 1134.82 883.77 1137.01 878.3 C1139.19 872.82 1141.38 865.53 1143.57 860.78 C1145.76 856.04 1147.59 852.94 1150.14 849.84 C1152.69 846.74 1155.61 844 1158.9 842.18 C1162.18 840.35 1166.19 839.08 1169.84 838.9 C1173.49 838.71 1177.14 838.9 1180.78 841.08 C1184.43 843.27 1188.08 846.92 1191.73 852.03 C1195.38 857.14 1199.39 865.16 1202.67 871.73 C1205.96 878.3 1209.97 888.15 1211.43 891.43" fill="none" stroke="#d9bc55" stroke-width="1.6"/>
<path d="M1023.18 995.84 C1026.1 995.51 1035.58 996.68 1040.69 993.87 C1045.8 991.06 1049.81 984.75 1053.83 978.99 C1057.84 973.22 1061.12 965.49 1064.77 959.29 C1068.42 953.09 1071.7 947.25 1075.71 941.78 C1079.73 936.3 1084.47 930.65 1088.85 926.45 C1093.23 922.26 1097.6 919.16 1101.98 916.6 C1106.36 914.05 1111.1 913.14 1115.12 911.13 C1119.13 909.12 1122.41 908.21 1126.06 904.56 C1129.71 900.92 1133.36 895.81 1137.01 889.24 C1140.65 882.67 1144.3 875.38 1147.95 865.16 C1151.6 854.95 1155.61 840.35 1158.9 827.95 C1162.18 815.55 1164.73 803.51 1167.65 790.74 C1170.57 777.97 1173.85 761.19 1176.41 751.34 C1178.96 741.49 1181.15 735.65 1182.97 731.64 C1184.8 727.62 1185.89 727.26 1187.35 727.26 C1188.81 727.26 1189.91 726.89 1191.73 731.64 C1193.55 736.38 1196.11 745.86 1198.3 755.71 C1200.49 765.57 1202.67 779.61 1204.86 790.74 C1207.05 801.87 1210.34 817.19 1211.43 822.48 L1211.43 995.8 L1023.18 995.8 Z" fill="rgba(157,157,157,0.49)" stroke="none"/>
<path d="M1023.18 995.84 C1026.1 995.51 1035.58 996.68 1040.69 993.87 C1045.8 991.06 1049.81 984.75 1053.83 978.99 C1057.84 973.22 1061.12 965.49 1064.77 959.29 C1068.42 953.09 1071.7 947.25 1075.71 941.78 C1079.73 936.3 1084.47 930.65 1088.85 926.45 C1093.23 922.26 1097.6 919.16 1101.98 916.6 C1106.36 914.05 1111.1 913.14 1115.12 911.13 C1119.13 909.12 1122.41 908.21 1126.06 904.56 C1129.71 900.92 1133.36 895.81 1137.01 889.24 C1140.65 882.67 1144.3 875.38 1147.95 865.16 C1151.6 854.95 1155.61 840.35 1158.9 827.95 C1162.18 815.55 1164.73 803.51 1167.65 790.74 C1170.57 777.97 1173.85 761.19 1176.41 751.34 C1178.96 741.49 1181.15 735.65 1182.97 731.64 C1184.8 727.62 1185.89 727.26 1187.35 727.26 C1188.81 727.26 1189.91 726.89 1191.73 731.64 C1193.55 736.38 1196.11 745.86 1198.3 755.71 C1200.49 765.57 1202.67 779.61 1204.86 790.74 C1207.05 801.87 1210.34 817.19 1211.43 822.48" fill="none" stroke="rgba(150,150,150,0.75)" stroke-width="1.6"/>
<polyline points="1021.43,968.04 1045.51,941.34 1091.04,923.83 1114.02,898 1137.01,858.6 1161.08,812.63 1180.78,766.66 1205.3,728.79" fill="none" stroke="#daa514" stroke-width="5.7" stroke-linejoin="round"/>
<polyline points="1022.09,994.75 1045.07,994.75 1069.15,981.18 1093.23,957.1 1115.12,935.21 1138.1,904.56 1161.08,862.97 1182.97,777.6 1205.96,729.45" fill="none" stroke="#808080" stroke-width="5.7" stroke-linejoin="round"/>
<line x1="1137" y1="855" x2="1137" y2="903.8" stroke="#000" stroke-width="4.6"/>
<polygon points="1137,851.5 1132.8,861 1141.2,861" fill="#000" stroke="#000" stroke-width="1" stroke-linejoin="round"/>
<polygon points="1137,907.3 1132.8,897.8 1141.2,897.8" fill="#000" stroke="#000" stroke-width="1" stroke-linejoin="round"/>
<rect x="1014.4" y="715.7" width="204.7" height="286.3" fill="none" stroke="#333" stroke-width="2"/>
<line x1="1011.2" y1="797.3" x2="1014.4" y2="797.3" stroke="#222" stroke-width="2.2"/>
<line x1="1011.2" y1="896.9" x2="1014.4" y2="896.9" stroke="#222" stroke-width="2.2"/>
<line x1="1011.2" y1="995.8" x2="1014.4" y2="995.8" stroke="#222" stroke-width="2.2"/>
<line x1="1219.1" y1="726.6" x2="1224.6" y2="726.6" stroke="#222" stroke-width="2.2"/>
<line x1="1219.1" y1="794.5" x2="1224.6" y2="794.5" stroke="#222" stroke-width="2.2"/>
<line x1="1219.1" y1="861.9" x2="1224.6" y2="861.9" stroke="#222" stroke-width="2.2"/>
<line x1="1219.1" y1="929.7" x2="1224.6" y2="929.7" stroke="#222" stroke-width="2.2"/>
<line x1="1219.1" y1="997.6" x2="1224.6" y2="997.6" stroke="#222" stroke-width="2.2"/>
<text x="1005.65" y="798.4" font-size="14" text-anchor="end" textLength="27.4" lengthAdjust="spacingAndGlyphs" xml:space="preserve">0.20</text>
<text x="1005.65" y="893.6" font-size="14" text-anchor="end" textLength="18.6" lengthAdjust="spacingAndGlyphs" xml:space="preserve">0.1</text>
<text x="1005.65" y="995.4" font-size="14" text-anchor="end" textLength="19.2" lengthAdjust="spacingAndGlyphs" xml:space="preserve">0.0</text>
<text x="1233.3" y="731.6" font-size="14" textLength="27.3" lengthAdjust="spacingAndGlyphs" xml:space="preserve">1.00</text>
<text x="1233.3" y="799.5" font-size="14" textLength="27.3" lengthAdjust="spacingAndGlyphs" xml:space="preserve">0.75</text>
<text x="1233.3" y="865.6" font-size="14" textLength="27.3" lengthAdjust="spacingAndGlyphs" xml:space="preserve">0.50</text>
<text x="1233.3" y="933.5" font-size="14" textLength="27.3" lengthAdjust="spacingAndGlyphs" xml:space="preserve">0.25</text>
<text x="1233.3" y="1000.4" font-size="14" textLength="27.3" lengthAdjust="spacingAndGlyphs" xml:space="preserve">0.00</text>
<text x="1024.3" y="739.7" font-size="18.3" textLength="47" lengthAdjust="spacingAndGlyphs" xml:space="preserve">Day 1</text>
<text x="1019.2" y="670" font-size="14.6" textLength="209.3" lengthAdjust="spacingAndGlyphs" xml:space="preserve">Test de Kolmogorov-Smirnov</text>
<line x1="1018.7" y1="672.8" x2="1229" y2="672.8" stroke="#222" stroke-width="0.9"/>
<text x="1019.2" y="691.1" font-size="14.6" textLength="123.9" lengthAdjust="spacingAndGlyphs" xml:space="preserve">D = 0.2;  p = 0.18</text>
<text x="1019.2" y="710.8" font-size="14.6" textLength="179.5" lengthAdjust="spacingAndGlyphs" xml:space="preserve">Test KS-boot: p = 0.0684</text>
<text x="1027.56" y="1023.9" font-size="14.3" text-anchor="middle" xml:space="preserve">1</text>
<text x="1048.79" y="1023.9" font-size="14.3" text-anchor="middle" xml:space="preserve">2</text>
<text x="1072.43" y="1023.9" font-size="14.3" text-anchor="middle" xml:space="preserve">3</text>
<text x="1093.88" y="1023.9" font-size="14.3" text-anchor="middle" xml:space="preserve">4</text>
<text x="1117.74" y="1023.9" font-size="14.3" text-anchor="middle" xml:space="preserve">5</text>
<text x="1138.76" y="1023.9" font-size="14.3" text-anchor="middle" xml:space="preserve">6</text>
<text x="1160.65" y="1023.9" font-size="14.3" text-anchor="middle" xml:space="preserve">7</text>
<text x="1181.88" y="1023.9" font-size="14.3" text-anchor="middle" xml:space="preserve">8</text>
<text x="1205.96" y="1023.9" font-size="14.3" text-anchor="middle" xml:space="preserve">9</text>
<text x="1009.6" y="1057.1" font-size="21.3" textLength="213.9" lengthAdjust="spacingAndGlyphs" xml:space="preserve">Confidence Likert Scale</text>
<text x="969.5" y="851" font-size="19" text-anchor="middle" textLength="265" lengthAdjust="spacingAndGlyphs" transform="rotate(-90 969.5 851)" xml:space="preserve">Density (Probability distribution)</text>
<text x="1282.8" y="878" font-size="17.5" text-anchor="middle" textLength="190" lengthAdjust="spacingAndGlyphs" transform="rotate(-90 1282.8 878)" xml:space="preserve">Cumulative Probability</text>
<rect x="1372.1" y="716.3" width="202" height="292.2" fill="#fff"/>
<line x1="1386.3" y1="716.3" x2="1386.3" y2="1008.5" stroke="#ebebeb" stroke-width="1.5"/>
<line x1="1415.2" y1="716.3" x2="1415.2" y2="1008.5" stroke="#ebebeb" stroke-width="1.5"/>
<line x1="1444.3" y1="716.3" x2="1444.3" y2="1008.5" stroke="#ebebeb" stroke-width="1.5"/>
<line x1="1473.4" y1="716.3" x2="1473.4" y2="1008.5" stroke="#ebebeb" stroke-width="1.5"/>
<line x1="1501.9" y1="716.3" x2="1501.9" y2="1008.5" stroke="#ebebeb" stroke-width="1.5"/>
<line x1="1530.3" y1="716.3" x2="1530.3" y2="1008.5" stroke="#ebebeb" stroke-width="1.5"/>
<line x1="1559.2" y1="716.3" x2="1559.2" y2="1008.5" stroke="#ebebeb" stroke-width="1.5"/>
<line x1="1372.1" y1="750.7" x2="1574.1" y2="750.7" stroke="#ececec" stroke-width="1.3"/>
<line x1="1372.1" y1="805" x2="1574.1" y2="805" stroke="#ececec" stroke-width="1.3"/>
<line x1="1372.1" y1="859.7" x2="1574.1" y2="859.7" stroke="#ececec" stroke-width="1.3"/>
<line x1="1372.1" y1="914.4" x2="1574.1" y2="914.4" stroke="#ececec" stroke-width="1.3"/>
<line x1="1372.1" y1="968.5" x2="1574.1" y2="968.5" stroke="#ececec" stroke-width="1.3"/>
<line x1="1372.1" y1="722.9" x2="1574.1" y2="722.9" stroke="#e6e6e6" stroke-width="3.6"/>
<line x1="1372.1" y1="777.6" x2="1574.1" y2="777.6" stroke="#e6e6e6" stroke-width="3.6"/>
<line x1="1372.1" y1="832.3" x2="1574.1" y2="832.3" stroke="#e6e6e6" stroke-width="3.6"/>
<line x1="1372.1" y1="887" x2="1574.1" y2="887" stroke="#e6e6e6" stroke-width="3.6"/>
<line x1="1372.1" y1="941.3" x2="1574.1" y2="941.3" stroke="#e6e6e6" stroke-width="3.6"/>
<line x1="1372.1" y1="995.8" x2="1574.1" y2="995.8" stroke="#e6e6e6" stroke-width="3.6"/>
<path d="M1380.18 937.4 C1381.57 936.3 1385.29 932.84 1388.5 930.83 C1391.71 928.82 1395.43 926.53 1399.45 925.36 C1403.46 924.19 1408.2 923.94 1412.58 923.83 C1416.96 923.72 1421.7 924.63 1425.71 924.7 C1429.73 924.77 1433.01 925.07 1436.66 924.26 C1440.31 923.46 1443.96 922.8 1447.6 919.89 C1451.25 916.97 1454.9 911.86 1458.55 906.75 C1462.2 901.64 1465.85 895.08 1469.49 889.24 C1473.14 883.4 1476.79 877.57 1480.44 871.73 C1484.09 865.89 1488.1 859.69 1491.38 854.22 C1494.67 848.75 1497.22 843.64 1500.14 838.9 C1503.06 834.15 1505.98 829.41 1508.9 825.76 C1511.81 822.11 1514.37 818.9 1517.65 817.01 C1520.93 815.11 1525.31 813.65 1528.6 814.38 C1531.88 815.11 1534.07 817.66 1537.35 821.38 C1540.63 825.1 1544.65 830.5 1548.3 836.71 C1551.94 842.91 1556.25 852.39 1559.24 858.6 C1562.23 864.8 1565.08 871.36 1566.25 873.92 L1566.25 995.8 L1380.18 995.8 Z" fill="rgba(245,199,16,0.47)" stroke="none"/>
<path d="M1380.18 937.4 C1381.57 936.3 1385.29 932.84 1388.5 930.83 C1391.71 928.82 1395.43 926.53 1399.45 925.36 C1403.46 924.19 1408.2 923.94 1412.58 923.83 C1416.96 923.72 1421.7 924.63 1425.71 924.7 C1429.73 924.77 1433.01 925.07 1436.66 924.26 C1440.31 923.46 1443.96 922.8 1447.6 919.89 C1451.25 916.97 1454.9 911.86 1458.55 906.75 C1462.2 901.64 1465.85 895.08 1469.49 889.24 C1473.14 883.4 1476.79 877.57 1480.44 871.73 C1484.09 865.89 1488.1 859.69 1491.38 854.22 C1494.67 848.75 1497.22 843.64 1500.14 838.9 C1503.06 834.15 1505.98 829.41 1508.9 825.76 C1511.81 822.11 1514.37 818.9 1517.65 817.01 C1520.93 815.11 1525.31 813.65 1528.6 814.38 C1531.88 815.11 1534.07 817.66 1537.35 821.38 C1540.63 825.1 1544.65 830.5 1548.3 836.71 C1551.94 842.91 1556.25 852.39 1559.24 858.6 C1562.23 864.8 1565.08 871.36 1566.25 873.92" fill="none" stroke="#d9bc55" stroke-width="1.6"/>
<path d="M1380.18 989.93 C1381.57 988.11 1385.29 983 1388.5 978.99 C1391.71 974.97 1395.8 970.23 1399.45 965.85 C1403.1 961.48 1406.74 956.37 1410.39 952.72 C1414.04 949.07 1417.32 945.97 1421.34 943.96 C1425.35 941.96 1430.82 942.14 1434.47 940.68 C1438.12 939.22 1440.31 937.95 1443.23 935.21 C1446.15 932.47 1449.06 929.37 1451.98 924.26 C1454.9 919.16 1457.82 911.5 1460.74 904.56 C1463.66 897.63 1466.21 889.24 1469.49 882.67 C1472.78 876.11 1476.79 871.36 1480.44 865.16 C1484.09 858.96 1488.1 853.49 1491.38 845.46 C1494.67 837.44 1497.22 828.32 1500.14 817.01 C1503.06 805.7 1505.98 789.64 1508.9 777.6 C1511.81 765.57 1514.91 752.61 1517.65 744.77 C1520.39 736.93 1523.12 733.28 1525.31 730.54 C1527.5 727.81 1528.78 727.81 1530.78 728.35 C1532.79 728.9 1535.16 729.99 1537.35 733.83 C1539.54 737.66 1541.36 741.85 1543.92 751.34 C1546.47 760.82 1549.76 776.15 1552.67 790.74 C1555.59 805.33 1559.17 826.67 1561.43 838.9 C1563.69 851.12 1565.44 859.87 1566.25 864.07 L1566.25 995.8 L1380.18 995.8 Z" fill="rgba(157,157,157,0.49)" stroke="none"/>
<path d="M1380.18 989.93 C1381.57 988.11 1385.29 983 1388.5 978.99 C1391.71 974.97 1395.8 970.23 1399.45 965.85 C1403.1 961.48 1406.74 956.37 1410.39 952.72 C1414.04 949.07 1417.32 945.97 1421.34 943.96 C1425.35 941.96 1430.82 942.14 1434.47 940.68 C1438.12 939.22 1440.31 937.95 1443.23 935.21 C1446.15 932.47 1449.06 929.37 1451.98 924.26 C1454.9 919.16 1457.82 911.5 1460.74 904.56 C1463.66 897.63 1466.21 889.24 1469.49 882.67 C1472.78 876.11 1476.79 871.36 1480.44 865.16 C1484.09 858.96 1488.1 853.49 1491.38 845.46 C1494.67 837.44 1497.22 828.32 1500.14 817.01 C1503.06 805.7 1505.98 789.64 1508.9 777.6 C1511.81 765.57 1514.91 752.61 1517.65 744.77 C1520.39 736.93 1523.12 733.28 1525.31 730.54 C1527.5 727.81 1528.78 727.81 1530.78 728.35 C1532.79 728.9 1535.16 729.99 1537.35 733.83 C1539.54 737.66 1541.36 741.85 1543.92 751.34 C1546.47 760.82 1549.76 776.15 1552.67 790.74 C1555.59 805.33 1559.17 826.67 1561.43 838.9 C1563.69 851.12 1565.44 859.87 1566.25 864.07" fill="none" stroke="rgba(150,150,150,0.75)" stroke-width="1.6"/>
<polyline points="1377.56,972.86 1425.71,940.02 1449.79,923.83 1471.68,898 1494.67,874.57 1518.75,801.68 1541.73,771.04 1568.43,729.89" fill="none" stroke="#daa514" stroke-width="5.7" stroke-linejoin="round"/>
<polyline points="1378.65,994.75 1402.73,986.65 1426.81,972.86 1449.79,960.38 1472.78,929.74 1497.95,899.09 1519.84,830.14 1543.92,759 1568.43,727.26" fill="none" stroke="#808080" stroke-width="5.7" stroke-linejoin="round"/>
<line x1="1425.7" y1="939.3" x2="1425.7" y2="971.6" stroke="#000" stroke-width="4.6"/>
<polygon points="1425.7,935.8 1421.5,945.3 1429.9,945.3" fill="#000" stroke="#000" stroke-width="1" stroke-linejoin="round"/>
<polygon points="1425.7,975.1 1421.5,965.6 1429.9,965.6" fill="#000" stroke="#000" stroke-width="1" stroke-linejoin="round"/>
<rect x="1372.1" y="716.3" width="202" height="292.2" fill="none" stroke="#333" stroke-width="2"/>
<line x1="1368.9" y1="722.9" x2="1372.1" y2="722.9" stroke="#222" stroke-width="2.2"/>
<line x1="1368.9" y1="777.6" x2="1372.1" y2="777.6" stroke="#222" stroke-width="2.2"/>
<line x1="1368.9" y1="832.3" x2="1372.1" y2="832.3" stroke="#222" stroke-width="2.2"/>
<line x1="1368.9" y1="887" x2="1372.1" y2="887" stroke="#222" stroke-width="2.2"/>
<line x1="1368.9" y1="941.3" x2="1372.1" y2="941.3" stroke="#222" stroke-width="2.2"/>
<line x1="1368.9" y1="995.8" x2="1372.1" y2="995.8" stroke="#222" stroke-width="2.2"/>
<line x1="1574.1" y1="726.6" x2="1579.6" y2="726.6" stroke="#222" stroke-width="2.2"/>
<line x1="1574.1" y1="794.5" x2="1579.6" y2="794.5" stroke="#222" stroke-width="2.2"/>
<line x1="1574.1" y1="861.9" x2="1579.6" y2="861.9" stroke="#222" stroke-width="2.2"/>
<line x1="1574.1" y1="929.3" x2="1579.6" y2="929.3" stroke="#222" stroke-width="2.2"/>
<line x1="1574.1" y1="997.6" x2="1579.6" y2="997.6" stroke="#222" stroke-width="2.2"/>
<text x="1361.1" y="728.8" font-size="14" text-anchor="end" textLength="27.8" lengthAdjust="spacingAndGlyphs" xml:space="preserve">0.25</text>
<text x="1361.1" y="782.4" font-size="14" text-anchor="end" textLength="27.8" lengthAdjust="spacingAndGlyphs" xml:space="preserve">0.20</text>
<text x="1361.1" y="834.5" font-size="14" text-anchor="end" textLength="27.8" lengthAdjust="spacingAndGlyphs" xml:space="preserve">0.15</text>
<text x="1361.1" y="891.4" font-size="14" text-anchor="end" textLength="18.6" lengthAdjust="spacingAndGlyphs" xml:space="preserve">0.1</text>
<text x="1361.1" y="943.5" font-size="14" text-anchor="end" textLength="18.6" lengthAdjust="spacingAndGlyphs" xml:space="preserve">0.5</text>
<text x="1361.1" y="999.3" font-size="14" text-anchor="end" textLength="19.2" lengthAdjust="spacingAndGlyphs" xml:space="preserve">0.0</text>
<text x="1585.9" y="731" font-size="14" textLength="27.3" lengthAdjust="spacingAndGlyphs" xml:space="preserve">1.00</text>
<text x="1585.9" y="799" font-size="14" textLength="27.3" lengthAdjust="spacingAndGlyphs" xml:space="preserve">0.75</text>
<text x="1585.9" y="865.2" font-size="14" textLength="27.3" lengthAdjust="spacingAndGlyphs" xml:space="preserve">0.50</text>
<text x="1585.9" y="933" font-size="14" textLength="27.3" lengthAdjust="spacingAndGlyphs" xml:space="preserve">0.25</text>
<text x="1585.9" y="999.8" font-size="14" textLength="27.3" lengthAdjust="spacingAndGlyphs" xml:space="preserve">0.00</text>
<text x="1383.7" y="742.6" font-size="18.3" textLength="48.1" lengthAdjust="spacingAndGlyphs" xml:space="preserve">Day 2</text>
<text x="1373.8" y="670.8" font-size="14.6" textLength="209.5" lengthAdjust="spacingAndGlyphs" xml:space="preserve">Test de Kolmogorov-Smirnov</text>
<line x1="1373.3" y1="673.6" x2="1583.8" y2="673.6" stroke="#222" stroke-width="0.9"/>
<text x="1373.8" y="691.6" font-size="14.6" textLength="132.9" lengthAdjust="spacingAndGlyphs" xml:space="preserve">D = 0.13;  p = 0.66</text>
<text x="1373.8" y="711.5" font-size="14.6" textLength="161.8" lengthAdjust="spacingAndGlyphs" xml:space="preserve">Test KS-boot: p = 0.35</text>
<text x="1381.94" y="1026.7" font-size="14.3" text-anchor="middle" xml:space="preserve">1</text>
<text x="1403.17" y="1026.7" font-size="14.3" text-anchor="middle" xml:space="preserve">2</text>
<text x="1427.25" y="1026.7" font-size="14.3" text-anchor="middle" xml:space="preserve">3</text>
<text x="1448.7" y="1026.7" font-size="14.3" text-anchor="middle" xml:space="preserve">4</text>
<text x="1472.78" y="1026.7" font-size="14.3" text-anchor="middle" xml:space="preserve">5</text>
<text x="1494.01" y="1026.7" font-size="14.3" text-anchor="middle" xml:space="preserve">6</text>
<text x="1515.46" y="1026.7" font-size="14.3" text-anchor="middle" xml:space="preserve">7</text>
<text x="1537.35" y="1026.7" font-size="14.3" text-anchor="middle" xml:space="preserve">8</text>
<text x="1560.99" y="1026.7" font-size="14.3" text-anchor="middle" xml:space="preserve">9</text>
<text x="1361.6" y="1058.9" font-size="21.3" textLength="213.4" lengthAdjust="spacingAndGlyphs" xml:space="preserve">Confidence Likert Scale</text>
<text x="1321.5" y="858.5" font-size="19" text-anchor="middle" textLength="267" lengthAdjust="spacingAndGlyphs" transform="rotate(-90 1321.5 858.5)" xml:space="preserve">Density (Probability distribution)</text>
<text x="1635.3" y="865" font-size="17.5" text-anchor="middle" textLength="190" lengthAdjust="spacingAndGlyphs" transform="rotate(-90 1635.3 865)" xml:space="preserve">Cumulative Probability</text>
<rect x="1656.9" y="662.4" width="51.5" height="102.7" fill="#f6f6f6"/>
<rect x="1658.9" y="664.4" width="47.5" height="47.6" fill="#f5c713"/>
<rect x="1658.9" y="716" width="47.5" height="47.1" fill="#a0a0a0"/>
<text x="1720.8" y="697.9" font-size="23.4" textLength="38.6" lengthAdjust="spacingAndGlyphs" xml:space="preserve">IMT</text>
<text x="1720.8" y="748.8" font-size="23.4" textLength="44.6" lengthAdjust="spacingAndGlyphs" xml:space="preserve">UST</text>
</g>
<g>
<text x="14.5" y="1135.2" font-size="22.5" xml:space="preserve">G</text>
<rect x="74.8" y="1240.6" width="220.7" height="371" fill="#d3d3d3"/>
<line x1="74.8" y1="1273.9" x2="295.5" y2="1273.9" stroke="#fff" stroke-width="2.7"/>
<line x1="74.8" y1="1365.7" x2="295.5" y2="1365.7" stroke="#fff" stroke-width="2.7"/>
<line x1="74.8" y1="1457.5" x2="295.5" y2="1457.5" stroke="#fff" stroke-width="2.7"/>
<line x1="74.8" y1="1549.3" x2="295.5" y2="1549.3" stroke="#fff" stroke-width="2.7"/>
<line x1="74.8" y1="1319.8" x2="295.5" y2="1319.8" stroke="#fff" stroke-width="4"/>
<line x1="74.8" y1="1411.6" x2="295.5" y2="1411.6" stroke="#fff" stroke-width="4"/>
<line x1="74.8" y1="1503.4" x2="295.5" y2="1503.4" stroke="#fff" stroke-width="4"/>
<line x1="74.8" y1="1595.2" x2="295.5" y2="1595.2" stroke="#fff" stroke-width="4"/>
<line x1="107" y1="1240.6" x2="107" y2="1611.6" stroke="#fff" stroke-width="2.6"/>
<line x1="158.6" y1="1240.6" x2="158.6" y2="1611.6" stroke="#fff" stroke-width="2.6"/>
<line x1="211.4" y1="1240.6" x2="211.4" y2="1611.6" stroke="#fff" stroke-width="2.6"/>
<line x1="263.7" y1="1240.6" x2="263.7" y2="1611.6" stroke="#fff" stroke-width="2.6"/>
<rect x="310.6" y="1241.6" width="218.4" height="368.7" fill="#ebebeb"/>
<line x1="310.6" y1="1274.9" x2="529" y2="1274.9" stroke="#fff" stroke-width="2.7"/>
<line x1="310.6" y1="1366.7" x2="529" y2="1366.7" stroke="#fff" stroke-width="2.7"/>
<line x1="310.6" y1="1458.5" x2="529" y2="1458.5" stroke="#fff" stroke-width="2.7"/>
<line x1="310.6" y1="1550.3" x2="529" y2="1550.3" stroke="#fff" stroke-width="2.7"/>
<line x1="310.6" y1="1320.8" x2="529" y2="1320.8" stroke="#fff" stroke-width="4"/>
<line x1="310.6" y1="1412.6" x2="529" y2="1412.6" stroke="#fff" stroke-width="4"/>
<line x1="310.6" y1="1504.4" x2="529" y2="1504.4" stroke="#fff" stroke-width="4"/>
<line x1="310.6" y1="1596.2" x2="529" y2="1596.2" stroke="#fff" stroke-width="4"/>
<line x1="342.4" y1="1241.6" x2="342.4" y2="1610.3" stroke="#fff" stroke-width="2.6"/>
<line x1="394" y1="1241.6" x2="394" y2="1610.3" stroke="#fff" stroke-width="2.6"/>
<line x1="446" y1="1241.6" x2="446" y2="1610.3" stroke="#fff" stroke-width="2.6"/>
<line x1="497.9" y1="1241.6" x2="497.9" y2="1610.3" stroke="#fff" stroke-width="2.6"/>
<rect x="88.5" y="1279.4" width="18.5" height="315.4" fill="#f5c713"/>
<rect x="107" y="1326.1" width="18.5" height="268.7" fill="#a0a0a0"/>
<rect x="140.1" y="1589" width="18.5" height="5.8" fill="#f5c713"/>
<rect x="192.9" y="1556.8" width="18.5" height="38" fill="#f5c713"/>
<rect x="211.4" y="1505.2" width="18.5" height="89.6" fill="#a0a0a0"/>
<rect x="245.2" y="1589" width="18.5" height="5.8" fill="#f5c713"/>
<rect x="263.7" y="1582.6" width="18.5" height="12.2" fill="#a0a0a0"/>
<line x1="74.8" y1="1466.3" x2="295.5" y2="1466.3" stroke="rgb(80,80,80)" stroke-width="3.1" stroke-opacity="0.5" stroke-dasharray="10.2 9.74" stroke-dashoffset="4.9"/>
<line x1="97.75" y1="1258.4" x2="97.75" y2="1301" stroke="#000" stroke-width="3.6"/>
<line x1="116.25" y1="1296.5" x2="116.25" y2="1354.5" stroke="#000" stroke-width="3.6"/>
<line x1="149.35" y1="1582.9" x2="149.35" y2="1594.8" stroke="#000" stroke-width="3.6"/>
<line x1="202.15" y1="1540.6" x2="202.15" y2="1572.9" stroke="#000" stroke-width="3.6"/>
<line x1="220.65" y1="1476.1" x2="220.65" y2="1534.2" stroke="#000" stroke-width="3.6"/>
<line x1="254.45" y1="1582.9" x2="254.45" y2="1594.8" stroke="#000" stroke-width="3.6"/>
<line x1="272.95" y1="1573.9" x2="272.95" y2="1591.3" stroke="#000" stroke-width="3.6"/>
<rect x="324.3" y="1376.1" width="18.1" height="218.7" fill="#f5c713"/>
<rect x="342.4" y="1374.5" width="18.1" height="220.3" fill="#a0a0a0"/>
<rect x="375.9" y="1581.9" width="18.1" height="12.9" fill="#f5c713"/>
<rect x="394" y="1563.5" width="18.1" height="31.3" fill="#a0a0a0"/>
<rect x="427.9" y="1528.7" width="18.1" height="66.1" fill="#f5c713"/>
<rect x="446" y="1519.7" width="18.1" height="75.1" fill="#a0a0a0"/>
<rect x="479.8" y="1515.5" width="18.1" height="79.3" fill="#f5c713"/>
<rect x="497.9" y="1544.8" width="18.1" height="50" fill="#a0a0a0"/>
<line x1="310.6" y1="1466.3" x2="529" y2="1466.3" stroke="rgb(80,80,80)" stroke-width="3.1" stroke-opacity="0.5" stroke-dasharray="10.2 9.74" stroke-dashoffset="4.54"/>
<line x1="333.35" y1="1347.7" x2="333.35" y2="1404.5" stroke="#000" stroke-width="3.6"/>
<line x1="351.45" y1="1344.5" x2="351.45" y2="1404.5" stroke="#000" stroke-width="3.6"/>
<line x1="384.95" y1="1572.9" x2="384.95" y2="1590.6" stroke="#000" stroke-width="3.6"/>
<line x1="403.05" y1="1548" x2="403.05" y2="1579" stroke="#000" stroke-width="3.6"/>
<line x1="436.95" y1="1508.7" x2="436.95" y2="1548.7" stroke="#000" stroke-width="3.6"/>
<line x1="455.05" y1="1496.5" x2="455.05" y2="1542.6" stroke="#000" stroke-width="3.6"/>
<line x1="488.85" y1="1493.5" x2="488.85" y2="1537.4" stroke="#000" stroke-width="3.6"/>
<line x1="506.95" y1="1523.5" x2="506.95" y2="1565.8" stroke="#000" stroke-width="3.6"/>
<text x="222.6" y="1265.8" font-size="20.7" textLength="54.2" lengthAdjust="spacingAndGlyphs" xml:space="preserve">Day 1</text>
<text x="461.3" y="1267.4" font-size="20.7" textLength="54.2" lengthAdjust="spacingAndGlyphs" xml:space="preserve">Day 2</text>
<line x1="72.3" y1="1319.8" x2="74.8" y2="1319.8" stroke="#333" stroke-width="3"/>
<line x1="72.3" y1="1411.6" x2="74.8" y2="1411.6" stroke="#333" stroke-width="3"/>
<line x1="72.3" y1="1503.4" x2="74.8" y2="1503.4" stroke="#333" stroke-width="3"/>
<line x1="72.3" y1="1595.2" x2="74.8" y2="1595.2" stroke="#333" stroke-width="3"/>
<text x="68.4" y="1329.4" font-size="19.4" text-anchor="end" textLength="37.8" lengthAdjust="spacingAndGlyphs" xml:space="preserve">0.75</text>
<text x="68.4" y="1419.7" font-size="19.4" text-anchor="end" textLength="26.5" lengthAdjust="spacingAndGlyphs" xml:space="preserve">0.5</text>
<text x="68.4" y="1511.9" font-size="19.4" text-anchor="end" textLength="37.8" lengthAdjust="spacingAndGlyphs" xml:space="preserve">0.25</text>
<text x="68.4" y="1601.3" font-size="19.4" text-anchor="end" textLength="26.5" lengthAdjust="spacingAndGlyphs" xml:space="preserve">0.0</text>
<text x="19.9" y="1417" font-size="21" text-anchor="middle" textLength="168.8" lengthAdjust="spacingAndGlyphs" transform="rotate(-90 19.9 1417)" xml:space="preserve">Choice Proportion</text>
<line x1="107" y1="1611.6" x2="107" y2="1618.4" stroke="#333" stroke-width="3.2"/>
<line x1="158.6" y1="1611.6" x2="158.6" y2="1618.4" stroke="#333" stroke-width="3.2"/>
<line x1="211.4" y1="1611.6" x2="211.4" y2="1618.4" stroke="#333" stroke-width="3.2"/>
<line x1="263.7" y1="1611.6" x2="263.7" y2="1618.4" stroke="#333" stroke-width="3.2"/>
<line x1="342.4" y1="1610.3" x2="342.4" y2="1617.2" stroke="#333" stroke-width="3.2"/>
<line x1="394" y1="1610.3" x2="394" y2="1617.2" stroke="#333" stroke-width="3.2"/>
<line x1="446" y1="1610.3" x2="446" y2="1617.2" stroke="#333" stroke-width="3.2"/>
<line x1="497.9" y1="1610.3" x2="497.9" y2="1617.2" stroke="#333" stroke-width="3.2"/>
<text x="88.7" y="1642.6" font-size="18" textLength="38.1" lengthAdjust="spacingAndGlyphs" xml:space="preserve">POS</text>
<text x="139.7" y="1642.6" font-size="18" textLength="38.7" lengthAdjust="spacingAndGlyphs" xml:space="preserve">NEG</text>
<text x="192.9" y="1642.6" font-size="18" textLength="37.7" lengthAdjust="spacingAndGlyphs" xml:space="preserve">NEU</text>
<text x="250" y="1642.6" font-size="18" textLength="31.6" lengthAdjust="spacingAndGlyphs" xml:space="preserve">MIX</text>
<text x="323.2" y="1641.6" font-size="18" textLength="37.4" lengthAdjust="spacingAndGlyphs" xml:space="preserve">POS</text>
<text x="374.2" y="1641.6" font-size="18" textLength="38.7" lengthAdjust="spacingAndGlyphs" xml:space="preserve">NEG</text>
<text x="427.4" y="1641.6" font-size="18" textLength="37.1" lengthAdjust="spacingAndGlyphs" xml:space="preserve">NEU</text>
<text x="483.9" y="1641.6" font-size="18" textLength="31.6" lengthAdjust="spacingAndGlyphs" xml:space="preserve">MIX</text>
<text x="96.8" y="1664.2" font-size="21.3" textLength="177.4" lengthAdjust="spacingAndGlyphs" xml:space="preserve">Emotional Valence</text>
<text x="331.3" y="1663.2" font-size="21.3" textLength="177.4" lengthAdjust="spacingAndGlyphs" xml:space="preserve">Emotional Valence</text>
<line x1="92.6" y1="1157.4" x2="323.5" y2="1157.4" stroke="#000" stroke-width="2.9"/>
<line x1="251" y1="1151" x2="482.3" y2="1151" stroke="#000" stroke-width="2.9"/>
<line x1="115.2" y1="1173.9" x2="283.9" y2="1173.9" stroke="#000" stroke-width="2.9"/>
<line x1="115.2" y1="1180" x2="174.2" y2="1180" stroke="#000" stroke-width="2.9"/>
<line x1="115.2" y1="1197.4" x2="218.7" y2="1197.4" stroke="#000" stroke-width="2.9"/>
<line x1="92.9" y1="1218.7" x2="261.9" y2="1218.7" stroke="#000" stroke-width="2.9"/>
<line x1="92.9" y1="1226.5" x2="205.5" y2="1226.5" stroke="#000" stroke-width="2.9"/>
<line x1="92.9" y1="1234.2" x2="152.3" y2="1234.2" stroke="#000" stroke-width="2.9"/>
<line x1="343.5" y1="1182" x2="512.3" y2="1182" stroke="#000" stroke-width="2.9"/>
<line x1="343.5" y1="1188.7" x2="453.2" y2="1188.7" stroke="#000" stroke-width="2.9"/>
<line x1="343.5" y1="1204.5" x2="402.6" y2="1204.5" stroke="#000" stroke-width="2.9"/>
<line x1="320" y1="1218.7" x2="379" y2="1218.7" stroke="#000" stroke-width="2.9"/>
<line x1="320" y1="1234.8" x2="436.5" y2="1234.8" stroke="#000" stroke-width="2.9"/>
<text x="95.4" y="1158.1" font-size="20" xml:space="preserve">**</text>
<text x="254.4" y="1152.7" font-size="20" xml:space="preserve">*</text>
<text x="115.1" y="1178.4" font-size="20" xml:space="preserve">***</text>
<text x="115.1" y="1201" font-size="20" xml:space="preserve">**</text>
<text x="93.8" y="1223" font-size="20" xml:space="preserve">***</text>
<text x="344.6" y="1184.3" font-size="20" xml:space="preserve">*</text>
<text x="344.6" y="1208.4" font-size="20" xml:space="preserve">**</text>
<text x="320.6" y="1223" font-size="20" xml:space="preserve">**</text>
<text x="320.6" y="1238.8" font-size="20" xml:space="preserve">*</text>
</g>
<g>
<text x="552.5" y="1136.1" font-size="22.5" xml:space="preserve">H</text>
<rect x="630.2" y="1217" width="140" height="409" fill="#ebebeb"/>
<line x1="630.2" y1="1280.2" x2="770.2" y2="1280.2" stroke="#fff" stroke-width="2.7"/>
<line x1="630.2" y1="1373.5" x2="770.2" y2="1373.5" stroke="#fff" stroke-width="2.7"/>
<line x1="630.2" y1="1466.8" x2="770.2" y2="1466.8" stroke="#fff" stroke-width="2.7"/>
<line x1="630.2" y1="1560.2" x2="770.2" y2="1560.2" stroke="#fff" stroke-width="2.7"/>
<line x1="630.2" y1="1233.5" x2="770.2" y2="1233.5" stroke="#fff" stroke-width="4"/>
<line x1="630.2" y1="1326.9" x2="770.2" y2="1326.9" stroke="#fff" stroke-width="4"/>
<line x1="630.2" y1="1420.2" x2="770.2" y2="1420.2" stroke="#fff" stroke-width="4"/>
<line x1="630.2" y1="1513.5" x2="770.2" y2="1513.5" stroke="#fff" stroke-width="4"/>
<line x1="630.2" y1="1606.8" x2="770.2" y2="1606.8" stroke="#fff" stroke-width="4"/>
<line x1="668.6" y1="1217" x2="668.6" y2="1626" stroke="#fff" stroke-width="1.5"/>
<line x1="731.8" y1="1217" x2="731.8" y2="1626" stroke="#fff" stroke-width="1.5"/>
<rect x="644.5" y="1304.1" width="52.1" height="306.9" fill="#f5c713"/>
<rect x="707" y="1321.4" width="52.2" height="289.6" fill="#a0a0a0"/>
<line x1="670.3" y1="1270.6" x2="670.3" y2="1337.8" stroke="#000" stroke-width="3.9"/>
<line x1="660.4" y1="1270.6" x2="680.4" y2="1270.6" stroke="#000" stroke-width="3.9"/>
<line x1="660.4" y1="1337.8" x2="680.4" y2="1337.8" stroke="#000" stroke-width="3.9"/>
<line x1="732.6" y1="1280.7" x2="732.6" y2="1361.4" stroke="#000" stroke-width="3.9"/>
<line x1="723" y1="1280.7" x2="742.7" y2="1280.7" stroke="#000" stroke-width="3.9"/>
<line x1="723" y1="1361.4" x2="742.7" y2="1361.4" stroke="#000" stroke-width="3.9"/>
<line x1="628.6" y1="1233.5" x2="631" y2="1233.5" stroke="#333" stroke-width="3.4"/>
<line x1="628.6" y1="1326.9" x2="631" y2="1326.9" stroke="#333" stroke-width="3.4"/>
<line x1="628.6" y1="1420.2" x2="631" y2="1420.2" stroke="#333" stroke-width="3.4"/>
<line x1="628.6" y1="1513.5" x2="631" y2="1513.5" stroke="#333" stroke-width="3.4"/>
<line x1="628.6" y1="1606.8" x2="631" y2="1606.8" stroke="#333" stroke-width="3.4"/>
<text x="617.3" y="1243.7" font-size="19.8" text-anchor="end" textLength="27.5" lengthAdjust="spacingAndGlyphs" xml:space="preserve">0.8</text>
<text x="617.3" y="1336.5" font-size="19.8" text-anchor="end" textLength="27.5" lengthAdjust="spacingAndGlyphs" xml:space="preserve">0.6</text>
<text x="617.3" y="1428.4" font-size="19.8" text-anchor="end" textLength="27.5" lengthAdjust="spacingAndGlyphs" xml:space="preserve">0.4</text>
<text x="617.3" y="1520.4" font-size="19.8" text-anchor="end" textLength="27.5" lengthAdjust="spacingAndGlyphs" xml:space="preserve">0.2</text>
<text x="617.3" y="1612.3" font-size="19.8" text-anchor="end" textLength="27.5" lengthAdjust="spacingAndGlyphs" xml:space="preserve">0.0</text>
<line x1="668.6" y1="1626" x2="668.6" y2="1634.3" stroke="#333" stroke-width="3.2"/>
<line x1="731.8" y1="1626" x2="731.8" y2="1634.3" stroke="#333" stroke-width="3.2"/>
<text x="650.8" y="1662.3" font-size="18.5" textLength="30.2" lengthAdjust="spacingAndGlyphs" xml:space="preserve">IMT</text>
<text x="712.5" y="1661.2" font-size="18.5" textLength="37.9" lengthAdjust="spacingAndGlyphs" xml:space="preserve">UST</text>
<text x="566.8" y="1410.5" font-size="24" text-anchor="middle" textLength="145.5" lengthAdjust="spacingAndGlyphs" transform="rotate(-90 566.8 1410.5)" xml:space="preserve">Memory Ratio</text>
</g>
<g>
<text x="797" y="1135.4" font-size="22.5" xml:space="preserve">I</text>
<text x="813.2" y="1170.8" font-size="22.5" xml:space="preserve">i.</text>
<rect x="863.8" y="1280" width="190.8" height="323.5" fill="#d3d3d3"/>
<line x1="863.8" y1="1337" x2="1054.6" y2="1337" stroke="#fff" stroke-width="2.7"/>
<line x1="863.8" y1="1437.6" x2="1054.6" y2="1437.6" stroke="#fff" stroke-width="2.7"/>
<line x1="863.8" y1="1538.2" x2="1054.6" y2="1538.2" stroke="#fff" stroke-width="2.7"/>
<line x1="863.8" y1="1286.7" x2="1054.6" y2="1286.7" stroke="#fff" stroke-width="4"/>
<line x1="863.8" y1="1387.3" x2="1054.6" y2="1387.3" stroke="#fff" stroke-width="4"/>
<line x1="863.8" y1="1487.9" x2="1054.6" y2="1487.9" stroke="#fff" stroke-width="4"/>
<line x1="863.8" y1="1588.5" x2="1054.6" y2="1588.5" stroke="#fff" stroke-width="4"/>
<line x1="890.2" y1="1280" x2="890.2" y2="1603.5" stroke="#fff" stroke-width="2.6"/>
<line x1="935.8" y1="1280" x2="935.8" y2="1603.5" stroke="#fff" stroke-width="2.6"/>
<line x1="981.2" y1="1280" x2="981.2" y2="1603.5" stroke="#fff" stroke-width="2.6"/>
<line x1="1026.8" y1="1280" x2="1026.8" y2="1603.5" stroke="#fff" stroke-width="2.6"/>
<rect x="1066.2" y="1277.8" width="196.5" height="325.7" fill="#ebebeb"/>
<line x1="1066.2" y1="1335" x2="1262.7" y2="1335" stroke="#fff" stroke-width="2.7"/>
<line x1="1066.2" y1="1437.6" x2="1262.7" y2="1437.6" stroke="#fff" stroke-width="2.7"/>
<line x1="1066.2" y1="1538.2" x2="1262.7" y2="1538.2" stroke="#fff" stroke-width="2.7"/>
<line x1="1066.2" y1="1285.2" x2="1262.7" y2="1285.2" stroke="#fff" stroke-width="4"/>
<line x1="1066.2" y1="1385.8" x2="1262.7" y2="1385.8" stroke="#fff" stroke-width="4"/>
<line x1="1066.2" y1="1487.9" x2="1262.7" y2="1487.9" stroke="#fff" stroke-width="4"/>
<line x1="1066.2" y1="1588.5" x2="1262.7" y2="1588.5" stroke="#fff" stroke-width="4"/>
<line x1="1094.4" y1="1277.8" x2="1094.4" y2="1603.5" stroke="#fff" stroke-width="2.6"/>
<line x1="1140.6" y1="1277.8" x2="1140.6" y2="1603.5" stroke="#fff" stroke-width="2.6"/>
<line x1="1187.2" y1="1277.8" x2="1187.2" y2="1603.5" stroke="#fff" stroke-width="2.6"/>
<line x1="1234.3" y1="1277.8" x2="1234.3" y2="1603.5" stroke="#fff" stroke-width="2.6"/>
<rect x="874" y="1510.3" width="16.2" height="78.7" fill="#f5c713"/>
<rect x="890.2" y="1530.2" width="16.2" height="58.8" fill="#a0a0a0"/>
<rect x="919.6" y="1535.2" width="16.2" height="53.8" fill="#f5c713"/>
<rect x="965" y="1488.2" width="16.2" height="100.8" fill="#f5c713"/>
<rect x="981.2" y="1485.4" width="16.2" height="103.6" fill="#a0a0a0"/>
<rect x="1010.6" y="1356.1" width="16.2" height="232.9" fill="#f5c713"/>
<rect x="1026.8" y="1489.5" width="16.2" height="99.5" fill="#a0a0a0"/>
<line x1="882.1" y1="1500" x2="882.1" y2="1520" stroke="#000" stroke-width="3.6"/>
<line x1="898.3" y1="1524.7" x2="898.3" y2="1535.2" stroke="#000" stroke-width="3.6"/>
<line x1="973.1" y1="1468" x2="973.1" y2="1507.5" stroke="#000" stroke-width="3.6"/>
<line x1="989.3" y1="1465.5" x2="989.3" y2="1504.7" stroke="#000" stroke-width="3.6"/>
<line x1="1034.9" y1="1481.2" x2="1034.9" y2="1497.3" stroke="#000" stroke-width="3.6"/>
<line x1="1016.5" y1="1355.6" x2="1020.5" y2="1355.6" stroke="#000" stroke-width="1.2"/>
<line x1="926" y1="1535" x2="930" y2="1535" stroke="#000" stroke-width="1.2"/>
<rect x="1078" y="1466" width="16.4" height="123" fill="#f5c713"/>
<rect x="1094.4" y="1476.3" width="16.4" height="112.7" fill="#a0a0a0"/>
<rect x="1124.2" y="1429.5" width="16.4" height="159.5" fill="#f5c713"/>
<rect x="1140.6" y="1463.3" width="16.4" height="125.7" fill="#a0a0a0"/>
<rect x="1170.8" y="1448.9" width="16.4" height="140.1" fill="#f5c713"/>
<rect x="1187.2" y="1438.9" width="16.4" height="150.1" fill="#a0a0a0"/>
<rect x="1217.9" y="1363" width="16.4" height="226" fill="#f5c713"/>
<rect x="1234.3" y="1463.3" width="16.4" height="125.7" fill="#a0a0a0"/>
<line x1="1086.2" y1="1447.2" x2="1086.2" y2="1485.4" stroke="#000" stroke-width="3.6"/>
<line x1="1102.6" y1="1462.4" x2="1102.6" y2="1489.5" stroke="#000" stroke-width="3.6"/>
<line x1="1132.4" y1="1378.8" x2="1132.4" y2="1479.9" stroke="#000" stroke-width="3.6"/>
<line x1="1148.8" y1="1435.6" x2="1148.8" y2="1491.7" stroke="#000" stroke-width="3.6"/>
<line x1="1179" y1="1416.3" x2="1179" y2="1482.6" stroke="#000" stroke-width="3.6"/>
<line x1="1195.4" y1="1406" x2="1195.4" y2="1472.1" stroke="#000" stroke-width="3.6"/>
<line x1="1226.1" y1="1292.5" x2="1226.1" y2="1433.7" stroke="#000" stroke-width="3.6"/>
<line x1="1242.5" y1="1449.4" x2="1242.5" y2="1476.5" stroke="#000" stroke-width="3.6"/>
<text x="872.1" y="1309" font-size="18.3" textLength="47.5" lengthAdjust="spacingAndGlyphs" xml:space="preserve">Day 1</text>
<text x="1077.2" y="1305.5" font-size="18.3" textLength="48.4" lengthAdjust="spacingAndGlyphs" xml:space="preserve">Day 2</text>
<line x1="861.4" y1="1286.7" x2="863.8" y2="1286.7" stroke="#333" stroke-width="3"/>
<line x1="861.4" y1="1387.3" x2="863.8" y2="1387.3" stroke="#333" stroke-width="3"/>
<line x1="861.4" y1="1487.9" x2="863.8" y2="1487.9" stroke="#333" stroke-width="3"/>
<line x1="861.4" y1="1588.5" x2="863.8" y2="1588.5" stroke="#333" stroke-width="3"/>
<line x1="1064" y1="1284.2" x2="1066.2" y2="1284.2" stroke="#333" stroke-width="2"/>
<line x1="1064" y1="1386.3" x2="1066.2" y2="1386.3" stroke="#333" stroke-width="2"/>
<line x1="1064" y1="1487.9" x2="1066.2" y2="1487.9" stroke="#333" stroke-width="2"/>
<line x1="1064" y1="1588.5" x2="1066.2" y2="1588.5" stroke="#333" stroke-width="2"/>
<text x="854.1" y="1293.9" font-size="19.5" text-anchor="end" textLength="38.1" lengthAdjust="spacingAndGlyphs" xml:space="preserve">15.0</text>
<text x="854.1" y="1392" font-size="19.5" text-anchor="end" textLength="38.1" lengthAdjust="spacingAndGlyphs" xml:space="preserve">10.0</text>
<text x="854.1" y="1494.5" font-size="19.5" text-anchor="end" textLength="26.5" lengthAdjust="spacingAndGlyphs" xml:space="preserve">5.0</text>
<text x="854.1" y="1596" font-size="19.5" text-anchor="end" textLength="26.5" lengthAdjust="spacingAndGlyphs" xml:space="preserve">0.0</text>
<text x="806.2" y="1435" font-size="19.4" text-anchor="middle" textLength="237" lengthAdjust="spacingAndGlyphs" transform="rotate(-90 806.2 1435)" xml:space="preserve">Response Time (x 1000 ms)</text>
<line x1="890.2" y1="1603.5" x2="890.2" y2="1610.4" stroke="#333" stroke-width="3.2"/>
<line x1="935.8" y1="1603.5" x2="935.8" y2="1610.4" stroke="#333" stroke-width="3.2"/>
<line x1="981.2" y1="1603.5" x2="981.2" y2="1610.4" stroke="#333" stroke-width="3.2"/>
<line x1="1026.8" y1="1603.5" x2="1026.8" y2="1610.4" stroke="#333" stroke-width="3.2"/>
<line x1="1094.4" y1="1603.5" x2="1094.4" y2="1610.4" stroke="#333" stroke-width="3.2"/>
<line x1="1140.6" y1="1603.5" x2="1140.6" y2="1610.4" stroke="#333" stroke-width="3.2"/>
<line x1="1187.2" y1="1603.5" x2="1187.2" y2="1610.4" stroke="#333" stroke-width="3.2"/>
<line x1="1234.3" y1="1603.5" x2="1234.3" y2="1610.4" stroke="#333" stroke-width="3.2"/>
<text x="874" y="1633.3" font-size="15.8" textLength="33.2" lengthAdjust="spacingAndGlyphs" xml:space="preserve">POS</text>
<text x="919" y="1633.3" font-size="15.8" textLength="34.4" lengthAdjust="spacingAndGlyphs" xml:space="preserve">NEG</text>
<text x="965.3" y="1633.3" font-size="15.8" textLength="33.1" lengthAdjust="spacingAndGlyphs" xml:space="preserve">NEU</text>
<text x="1015.9" y="1633.3" font-size="15.8" textLength="26.8" lengthAdjust="spacingAndGlyphs" xml:space="preserve">MIX</text>
<text x="1080" y="1633.3" font-size="15.8" textLength="33.2" lengthAdjust="spacingAndGlyphs" xml:space="preserve">POS</text>
<text x="1125.6" y="1633.3" font-size="15.8" textLength="33.2" lengthAdjust="spacingAndGlyphs" xml:space="preserve">NEG</text>
<text x="1171.2" y="1633.3" font-size="15.8" textLength="33.2" lengthAdjust="spacingAndGlyphs" xml:space="preserve">NEU</text>
<text x="1221.6" y="1633.3" font-size="15.8" textLength="27.6" lengthAdjust="spacingAndGlyphs" xml:space="preserve">MIX</text>
<text x="870.7" y="1662.3" font-size="21.3" textLength="176.9" lengthAdjust="spacingAndGlyphs" xml:space="preserve">Emotional Valence</text>
<text x="1076.7" y="1661" font-size="21.3" textLength="176.7" lengthAdjust="spacingAndGlyphs" xml:space="preserve">Emotional Valence</text>
<line x1="1041.3" y1="1190.7" x2="1244.5" y2="1190.7" stroke="#000" stroke-width="2.6"/>
<line x1="990.1" y1="1196.5" x2="1193.3" y2="1196.5" stroke="#000" stroke-width="2.6"/>
<line x1="898.9" y1="1201.8" x2="1102.1" y2="1201.8" stroke="#000" stroke-width="2.6"/>
<line x1="869.3" y1="1208.2" x2="1073.1" y2="1208.2" stroke="#000" stroke-width="2.6"/>
<line x1="895.3" y1="1222.8" x2="1036.6" y2="1222.8" stroke="#000" stroke-width="2.6"/>
<line x1="895.3" y1="1236.1" x2="990.1" y2="1236.1" stroke="#000" stroke-width="2.6"/>
<line x1="871.2" y1="1244.6" x2="1012.2" y2="1244.6" stroke="#000" stroke-width="2.6"/>
<line x1="871.2" y1="1257.1" x2="959.7" y2="1257.1" stroke="#000" stroke-width="2.6"/>
<line x1="871.2" y1="1273.4" x2="894.5" y2="1273.4" stroke="#000" stroke-width="2.6"/>
<line x1="1015.8" y1="1273.4" x2="1039.3" y2="1273.4" stroke="#000" stroke-width="2.6"/>
<text x="1041.7" y="1194.4" font-size="20" xml:space="preserve">***</text>
<text x="991.1" y="1200.4" font-size="20" xml:space="preserve">***</text>
<text x="899.9" y="1205.4" font-size="20" xml:space="preserve">***</text>
<text x="870.8" y="1212.2" font-size="20" xml:space="preserve">***</text>
<text x="895.9" y="1226.4" font-size="20" xml:space="preserve">*</text>
<text x="895.9" y="1239.8" font-size="20" xml:space="preserve">**</text>
<text x="871.6" y="1248.1" font-size="20" xml:space="preserve">*</text>
<text x="871.6" y="1260.9" font-size="20" xml:space="preserve">**</text>
<text x="871.6" y="1274.7" font-size="20" xml:space="preserve">*</text>
<text x="1016.6" y="1274.7" font-size="20" xml:space="preserve">*</text>
<text x="1281.7" y="1170.4" font-size="22.5" xml:space="preserve">ii.</text>
<rect x="1312.5" y="1279.6" width="75.5" height="323.8" fill="#d3d3d3"/>
<line x1="1312.5" y1="1337.24" x2="1388" y2="1337.24" stroke="#fff" stroke-width="2.7"/>
<line x1="1312.5" y1="1409.4" x2="1388" y2="1409.4" stroke="#fff" stroke-width="2.7"/>
<line x1="1312.5" y1="1481.56" x2="1388" y2="1481.56" stroke="#fff" stroke-width="2.7"/>
<line x1="1312.5" y1="1553.72" x2="1388" y2="1553.72" stroke="#fff" stroke-width="2.7"/>
<line x1="1312.5" y1="1301.16" x2="1388" y2="1301.16" stroke="#fff" stroke-width="4"/>
<line x1="1312.5" y1="1373.32" x2="1388" y2="1373.32" stroke="#fff" stroke-width="4"/>
<line x1="1312.5" y1="1445.48" x2="1388" y2="1445.48" stroke="#fff" stroke-width="4"/>
<line x1="1312.5" y1="1517.64" x2="1388" y2="1517.64" stroke="#fff" stroke-width="4"/>
<line x1="1312.5" y1="1589.8" x2="1388" y2="1589.8" stroke="#fff" stroke-width="4"/>
<line x1="1333" y1="1279.6" x2="1333" y2="1603.4" stroke="#fff" stroke-width="1.6"/>
<line x1="1366.8" y1="1279.6" x2="1366.8" y2="1603.4" stroke="#fff" stroke-width="1.6"/>
<rect x="1398.8" y="1280.5" width="75.2" height="323.2" fill="#ebebeb"/>
<line x1="1398.8" y1="1337.24" x2="1474" y2="1337.24" stroke="#fff" stroke-width="2.7"/>
<line x1="1398.8" y1="1409.4" x2="1474" y2="1409.4" stroke="#fff" stroke-width="2.7"/>
<line x1="1398.8" y1="1481.56" x2="1474" y2="1481.56" stroke="#fff" stroke-width="2.7"/>
<line x1="1398.8" y1="1553.72" x2="1474" y2="1553.72" stroke="#fff" stroke-width="2.7"/>
<line x1="1398.8" y1="1301.16" x2="1474" y2="1301.16" stroke="#fff" stroke-width="4"/>
<line x1="1398.8" y1="1373.32" x2="1474" y2="1373.32" stroke="#fff" stroke-width="4"/>
<line x1="1398.8" y1="1445.48" x2="1474" y2="1445.48" stroke="#fff" stroke-width="4"/>
<line x1="1398.8" y1="1517.64" x2="1474" y2="1517.64" stroke="#fff" stroke-width="4"/>
<line x1="1398.8" y1="1589.8" x2="1474" y2="1589.8" stroke="#fff" stroke-width="4"/>
<line x1="1419.6" y1="1280.5" x2="1419.6" y2="1603.7" stroke="#fff" stroke-width="1.6"/>
<line x1="1453.7" y1="1280.5" x2="1453.7" y2="1603.7" stroke="#fff" stroke-width="1.6"/>
<rect x="1320" y="1439.8" width="24.5" height="150.3" fill="#f5c713"/>
<rect x="1355" y="1461.5" width="24.2" height="128.6" fill="#a0a0a0"/>
<rect x="1407.6" y="1341.5" width="23.8" height="249.2" fill="#f5c713"/>
<rect x="1441.7" y="1362.9" width="23.5" height="227.8" fill="#a0a0a0"/>
<line x1="1332.4" y1="1424.7" x2="1332.4" y2="1454.9" stroke="#000" stroke-width="3.6"/>
<line x1="1367.1" y1="1443.4" x2="1367.1" y2="1479.6" stroke="#000" stroke-width="3.6"/>
<line x1="1419.6" y1="1315.3" x2="1419.6" y2="1367.5" stroke="#000" stroke-width="3.6"/>
<line x1="1453.7" y1="1343.3" x2="1453.7" y2="1382.6" stroke="#000" stroke-width="3.6"/>
<line x1="1310.3" y1="1301.16" x2="1312.5" y2="1301.16" stroke="#333" stroke-width="1.6"/>
<line x1="1310.3" y1="1373.32" x2="1312.5" y2="1373.32" stroke="#333" stroke-width="1.6"/>
<line x1="1310.3" y1="1445.48" x2="1312.5" y2="1445.48" stroke="#333" stroke-width="1.6"/>
<line x1="1310.3" y1="1517.64" x2="1312.5" y2="1517.64" stroke="#333" stroke-width="1.6"/>
<line x1="1310.3" y1="1589.8" x2="1312.5" y2="1589.8" stroke="#333" stroke-width="1.6"/>
<line x1="1310.3" y1="1337.24" x2="1312.5" y2="1337.24" stroke="#333" stroke-width="1.6"/>
<line x1="1310.3" y1="1409.4" x2="1312.5" y2="1409.4" stroke="#333" stroke-width="1.6"/>
<line x1="1310.3" y1="1481.56" x2="1312.5" y2="1481.56" stroke="#333" stroke-width="1.6"/>
<line x1="1310.3" y1="1553.72" x2="1312.5" y2="1553.72" stroke="#333" stroke-width="1.6"/>
<text x="1305.2" y="1310.4" font-size="19.7" text-anchor="end" textLength="27.4" lengthAdjust="spacingAndGlyphs" xml:space="preserve">8.0</text>
<text x="1305.2" y="1382.1" font-size="19.7" text-anchor="end" textLength="27.4" lengthAdjust="spacingAndGlyphs" xml:space="preserve">6.0</text>
<text x="1305.2" y="1453.8" font-size="19.7" text-anchor="end" textLength="27.4" lengthAdjust="spacingAndGlyphs" xml:space="preserve">4.0</text>
<text x="1305.2" y="1525.5" font-size="19.7" text-anchor="end" textLength="27.4" lengthAdjust="spacingAndGlyphs" xml:space="preserve">2.0</text>
<text x="1305.2" y="1597.2" font-size="19.7" text-anchor="end" textLength="27.4" lengthAdjust="spacingAndGlyphs" xml:space="preserve">0.0</text>
<line x1="1333" y1="1603.7" x2="1333" y2="1610.3" stroke="#333" stroke-width="3.2"/>
<line x1="1366.8" y1="1603.7" x2="1366.8" y2="1610.3" stroke="#333" stroke-width="3.2"/>
<line x1="1419.6" y1="1603.7" x2="1419.6" y2="1610.3" stroke="#333" stroke-width="3.2"/>
<line x1="1453.7" y1="1603.7" x2="1453.7" y2="1610.3" stroke="#333" stroke-width="3.2"/>
<text x="1320.9" y="1628.7" font-size="15.5" textLength="26.6" lengthAdjust="spacingAndGlyphs" xml:space="preserve">IMT</text>
<text x="1358" y="1628.7" font-size="15.5" textLength="31.4" lengthAdjust="spacingAndGlyphs" xml:space="preserve">UST</text>
<text x="1403.3" y="1628.7" font-size="15.5" textLength="26.9" lengthAdjust="spacingAndGlyphs" xml:space="preserve">IMT</text>
<text x="1438" y="1628.7" font-size="15.5" textLength="31.4" lengthAdjust="spacingAndGlyphs" xml:space="preserve">UST</text>
<line x1="1317.9" y1="1643.4" x2="1381.3" y2="1642.4" stroke="#111" stroke-width="1.2"/>
<line x1="1400.9" y1="1643.4" x2="1464.3" y2="1642.4" stroke="#111" stroke-width="1.2"/>
<text x="1327" y="1659.5" font-size="18" textLength="46.8" lengthAdjust="spacingAndGlyphs" xml:space="preserve">Day 1</text>
<text x="1409.4" y="1659.5" font-size="18" textLength="48.3" lengthAdjust="spacingAndGlyphs" xml:space="preserve">Day 2</text>
<line x1="1322.4" y1="1273.3" x2="1418.4" y2="1273.3" stroke="#000" stroke-width="2.8"/>
<line x1="1365.3" y1="1267" x2="1461.3" y2="1267" stroke="#000" stroke-width="2.8"/>
<text x="1323.6" y="1277.4" font-size="20" xml:space="preserve">**</text>
<text x="1366.7" y="1270.4" font-size="20" xml:space="preserve">***</text>
</g>
<g>
<text x="1487.6" y="1135.7" font-size="22.5" xml:space="preserve">J</text>
<rect x="1518" y="1281.1" width="136.5" height="315.7" fill="#ebebeb"/>
<line x1="1518" y1="1334" x2="1654.5" y2="1334" stroke="#fff" stroke-width="2.7"/>
<line x1="1518" y1="1408" x2="1654.5" y2="1408" stroke="#fff" stroke-width="2.7"/>
<line x1="1518" y1="1477.5" x2="1654.5" y2="1477.5" stroke="#fff" stroke-width="2.7"/>
<line x1="1518" y1="1545.4" x2="1654.5" y2="1545.4" stroke="#fff" stroke-width="2.7"/>
<line x1="1518" y1="1297.7" x2="1654.5" y2="1297.7" stroke="#fff" stroke-width="4"/>
<line x1="1518" y1="1369" x2="1654.5" y2="1369" stroke="#fff" stroke-width="4"/>
<line x1="1518" y1="1442" x2="1654.5" y2="1442" stroke="#fff" stroke-width="4"/>
<line x1="1518" y1="1510.7" x2="1654.5" y2="1510.7" stroke="#fff" stroke-width="4"/>
<line x1="1518" y1="1584.7" x2="1654.5" y2="1584.7" stroke="#fff" stroke-width="4"/>
<line x1="1555.8" y1="1281.1" x2="1555.8" y2="1596.8" stroke="#fff" stroke-width="1.8"/>
<line x1="1616.7" y1="1281.1" x2="1616.7" y2="1596.8" stroke="#fff" stroke-width="1.8"/>
<rect x="1527.7" y="1383.2" width="28.1" height="199.1" fill="#f5c713"/>
<rect x="1555.8" y="1454.9" width="27.7" height="127.4" fill="#a0a0a0"/>
<rect x="1589" y="1331.2" width="27.7" height="251.1" fill="#f5c713"/>
<rect x="1616.7" y="1408.7" width="28.1" height="173.6" fill="#a0a0a0"/>
<line x1="1541.6" y1="1343" x2="1541.6" y2="1422.6" stroke="#000" stroke-width="3.6"/>
<line x1="1569.4" y1="1429.2" x2="1569.4" y2="1480.6" stroke="#000" stroke-width="3.6"/>
<line x1="1603.2" y1="1294.1" x2="1603.2" y2="1369" stroke="#000" stroke-width="3.6"/>
<line x1="1631" y1="1377.1" x2="1631" y2="1440.4" stroke="#000" stroke-width="3.6"/>
<line x1="1515.6" y1="1297.7" x2="1518" y2="1297.7" stroke="#333" stroke-width="2.4"/>
<line x1="1515.6" y1="1365" x2="1518" y2="1365" stroke="#333" stroke-width="2.4"/>
<line x1="1515.6" y1="1432.4" x2="1518" y2="1432.4" stroke="#333" stroke-width="2.4"/>
<line x1="1515.6" y1="1500.7" x2="1518" y2="1500.7" stroke="#333" stroke-width="2.4"/>
<line x1="1515.6" y1="1568.1" x2="1518" y2="1568.1" stroke="#333" stroke-width="2.4"/>
<text x="1513.2" y="1371.3" font-size="19.7" text-anchor="end" textLength="27.8" lengthAdjust="spacingAndGlyphs" xml:space="preserve">9.0</text>
<text x="1513.2" y="1437.8" font-size="19.7" text-anchor="end" textLength="27.8" lengthAdjust="spacingAndGlyphs" xml:space="preserve">6.0</text>
<text x="1513.2" y="1505.8" font-size="19.7" text-anchor="end" textLength="27.8" lengthAdjust="spacingAndGlyphs" xml:space="preserve">3.0</text>
<text x="1513.2" y="1573.3" font-size="19.7" text-anchor="end" textLength="27.8" lengthAdjust="spacingAndGlyphs" xml:space="preserve">0.0</text>
<line x1="1555.8" y1="1596.8" x2="1555.8" y2="1601.3" stroke="#333" stroke-width="3.2"/>
<line x1="1616.7" y1="1596.8" x2="1616.7" y2="1601.3" stroke="#333" stroke-width="3.2"/>
<text x="1531.6" y="1628.5" font-size="16.2" textLength="46.8" lengthAdjust="spacingAndGlyphs" xml:space="preserve">DAY 1</text>
<text x="1599.2" y="1628.5" font-size="16.2" textLength="47.7" lengthAdjust="spacingAndGlyphs" xml:space="preserve">DAY 2</text>
<line x1="1600.7" y1="1274.2" x2="1635.7" y2="1274.2" stroke="#000" stroke-width="2.8"/>
<text x="1609.4" y="1271.4" font-size="20" xml:space="preserve">*</text>
<rect x="1673.6" y="1284" width="46.3" height="92.7" fill="#f6f6f6"/>
<rect x="1675.6" y="1286" width="42.3" height="41.9" fill="#f5c713"/>
<rect x="1675.6" y="1332.8" width="42.3" height="41.9" fill="#a0a0a0"/>
<text x="1730.5" y="1312.8" font-size="20.7" textLength="34.1" lengthAdjust="spacingAndGlyphs" xml:space="preserve">IMT</text>
<text x="1730.5" y="1365" font-size="20.7" textLength="40.2" lengthAdjust="spacingAndGlyphs" xml:space="preserve">UST</text>
</g>
<g>
<text x="24.3" y="1730" font-size="22.5" xml:space="preserve">K</text>
<rect x="82" y="1799.6" width="203.3" height="288" fill="#fff"/>
<line x1="96.6" y1="1799.6" x2="96.6" y2="2087.6" stroke="#ebebeb" stroke-width="1.5"/>
<line x1="125.4" y1="1799.6" x2="125.4" y2="2087.6" stroke="#ebebeb" stroke-width="1.5"/>
<line x1="154.6" y1="1799.6" x2="154.6" y2="2087.6" stroke="#ebebeb" stroke-width="1.5"/>
<line x1="183.5" y1="1799.6" x2="183.5" y2="2087.6" stroke="#ebebeb" stroke-width="1.5"/>
<line x1="212.7" y1="1799.6" x2="212.7" y2="2087.6" stroke="#ebebeb" stroke-width="1.5"/>
<line x1="242" y1="1799.6" x2="242" y2="2087.6" stroke="#ebebeb" stroke-width="1.5"/>
<line x1="271.2" y1="1799.6" x2="271.2" y2="2087.6" stroke="#ebebeb" stroke-width="1.5"/>
<line x1="82" y1="1891" x2="285.3" y2="1891" stroke="#ececec" stroke-width="1.3"/>
<line x1="82" y1="1967" x2="285.3" y2="1967" stroke="#ececec" stroke-width="1.3"/>
<line x1="82" y1="2043.2" x2="285.3" y2="2043.2" stroke="#ececec" stroke-width="1.3"/>
<line x1="82" y1="1853.3" x2="285.3" y2="1853.3" stroke="#e6e6e6" stroke-width="3.6"/>
<line x1="82" y1="1928.8" x2="285.3" y2="1928.8" stroke="#e6e6e6" stroke-width="3.6"/>
<line x1="82" y1="2005.2" x2="285.3" y2="2005.2" stroke="#e6e6e6" stroke-width="3.6"/>
<line x1="82" y1="2080.9" x2="285.3" y2="2080.9" stroke="#e6e6e6" stroke-width="3.6"/>
<path d="M92.11 2077.53 C93.98 2076.78 99.22 2074.34 103.34 2073.03 C107.46 2071.72 111.58 2070.41 116.82 2069.66 C122.06 2068.92 129.55 2068.92 134.79 2068.54 C140.03 2068.17 144.15 2068.35 148.27 2067.42 C152.39 2066.48 155.76 2065.55 159.5 2062.92 C163.25 2060.3 166.99 2056.93 170.74 2051.69 C174.48 2046.45 178.23 2039.34 181.97 2031.47 C185.71 2023.61 189.46 2014.25 193.2 2004.51 C196.95 1994.78 201.06 1983.17 204.43 1973.06 C207.8 1962.95 210.43 1953.22 213.42 1943.86 C216.42 1934.5 219.79 1923.83 222.41 1916.9 C225.03 1909.97 226.9 1905.74 229.15 1902.3 C231.39 1898.85 233.64 1897.17 235.89 1896.23 C238.13 1895.3 240 1896.04 242.63 1896.68 C245.25 1897.32 248.62 1898.93 251.61 1900.05 C254.61 1901.17 257.6 1901.36 260.6 1903.42 C263.59 1905.48 266.78 1908.48 269.58 1912.41 C272.39 1916.34 276.14 1924.58 277.45 1927.01 L277.45 2080.9 L92.11 2080.9 Z" fill="rgba(245,199,16,0.47)" stroke="none"/>
<path d="M92.11 2077.53 C93.98 2076.78 99.22 2074.34 103.34 2073.03 C107.46 2071.72 111.58 2070.41 116.82 2069.66 C122.06 2068.92 129.55 2068.92 134.79 2068.54 C140.03 2068.17 144.15 2068.35 148.27 2067.42 C152.39 2066.48 155.76 2065.55 159.5 2062.92 C163.25 2060.3 166.99 2056.93 170.74 2051.69 C174.48 2046.45 178.23 2039.34 181.97 2031.47 C185.71 2023.61 189.46 2014.25 193.2 2004.51 C196.95 1994.78 201.06 1983.17 204.43 1973.06 C207.8 1962.95 210.43 1953.22 213.42 1943.86 C216.42 1934.5 219.79 1923.83 222.41 1916.9 C225.03 1909.97 226.9 1905.74 229.15 1902.3 C231.39 1898.85 233.64 1897.17 235.89 1896.23 C238.13 1895.3 240 1896.04 242.63 1896.68 C245.25 1897.32 248.62 1898.93 251.61 1900.05 C254.61 1901.17 257.6 1901.36 260.6 1903.42 C263.59 1905.48 266.78 1908.48 269.58 1912.41 C272.39 1916.34 276.14 1924.58 277.45 1927.01" fill="none" stroke="#d9bc55" stroke-width="1.6"/>
<path d="M90.98 2067.42 C91.92 2067.79 94.54 2068.17 96.6 2069.66 C98.66 2071.16 99.97 2075.47 103.34 2076.4 C106.71 2077.34 112.33 2076.4 116.82 2075.28 C121.31 2074.16 126.55 2070.97 130.3 2069.66 C134.04 2068.35 135.54 2067.42 139.29 2067.42 C143.03 2067.42 149.02 2070.04 152.76 2069.66 C156.51 2069.29 158.76 2068.92 161.75 2065.17 C164.75 2061.43 168.12 2053.56 170.74 2047.2 C173.36 2040.83 175.23 2031.1 177.48 2026.98 C179.72 2022.86 181.97 2022.67 184.22 2022.49 C186.46 2022.3 188.71 2027.73 190.96 2025.86 C193.2 2023.98 195.45 2018.18 197.7 2011.25 C199.94 2004.33 202.38 1989.54 204.43 1984.3 C206.49 1979.05 208.18 1982.05 210.05 1979.8 C211.92 1977.56 213.61 1979.8 215.67 1970.82 C217.73 1961.83 220.35 1936.18 222.41 1925.89 C224.47 1915.59 226.15 1911.28 228.02 1909.04 C229.9 1906.79 231.95 1911.47 233.64 1912.41 C235.32 1913.34 236.63 1918.02 238.13 1914.65 C239.63 1911.28 241.13 1903.42 242.63 1892.19 C244.12 1880.96 245.62 1859.99 247.12 1847.26 C248.62 1834.53 250.49 1821.8 251.61 1815.81 C252.74 1809.82 252.92 1810.94 253.86 1811.31 C254.79 1811.69 255.92 1808.32 257.23 1818.05 C258.54 1827.79 260.22 1856.62 261.72 1869.72 C263.22 1882.83 264.9 1894.06 266.21 1896.68 C267.52 1899.3 268.46 1889.94 269.58 1885.45 C270.71 1880.96 271.76 1872.61 272.95 1869.72 C274.15 1866.84 276.14 1868.41 276.77 1868.15 L276.77 2080.9 L90.98 2080.9 Z" fill="rgba(157,157,157,0.49)" stroke="none"/>
<path d="M90.98 2067.42 C91.92 2067.79 94.54 2068.17 96.6 2069.66 C98.66 2071.16 99.97 2075.47 103.34 2076.4 C106.71 2077.34 112.33 2076.4 116.82 2075.28 C121.31 2074.16 126.55 2070.97 130.3 2069.66 C134.04 2068.35 135.54 2067.42 139.29 2067.42 C143.03 2067.42 149.02 2070.04 152.76 2069.66 C156.51 2069.29 158.76 2068.92 161.75 2065.17 C164.75 2061.43 168.12 2053.56 170.74 2047.2 C173.36 2040.83 175.23 2031.1 177.48 2026.98 C179.72 2022.86 181.97 2022.67 184.22 2022.49 C186.46 2022.3 188.71 2027.73 190.96 2025.86 C193.2 2023.98 195.45 2018.18 197.7 2011.25 C199.94 2004.33 202.38 1989.54 204.43 1984.3 C206.49 1979.05 208.18 1982.05 210.05 1979.8 C211.92 1977.56 213.61 1979.8 215.67 1970.82 C217.73 1961.83 220.35 1936.18 222.41 1925.89 C224.47 1915.59 226.15 1911.28 228.02 1909.04 C229.9 1906.79 231.95 1911.47 233.64 1912.41 C235.32 1913.34 236.63 1918.02 238.13 1914.65 C239.63 1911.28 241.13 1903.42 242.63 1892.19 C244.12 1880.96 245.62 1859.99 247.12 1847.26 C248.62 1834.53 250.49 1821.8 251.61 1815.81 C252.74 1809.82 252.92 1810.94 253.86 1811.31 C254.79 1811.69 255.92 1808.32 257.23 1818.05 C258.54 1827.79 260.22 1856.62 261.72 1869.72 C263.22 1882.83 264.9 1894.06 266.21 1896.68 C267.52 1899.3 268.46 1889.94 269.58 1885.45 C270.71 1880.96 271.76 1872.61 272.95 1869.72 C274.15 1866.84 276.14 1868.41 276.77 1868.15" fill="none" stroke="rgba(150,150,150,0.75)" stroke-width="1.6"/>
<polyline points="93.23,2082.02 116.82,2079.1 139.29,2073.03 159.95,2067.42 182.42,2049.45 205.78,2018.44 226,1965.2 247.12,1887.7 273.63,1815.81" fill="none" stroke="#daa514" stroke-width="5.7" stroke-linejoin="round"/>
<polyline points="93.23,2078.2 116.82,2077.53 139.29,2073.71 161.75,2069.66 185.34,2051.69 208.93,2020.24 229.15,1966.32 249.37,1887.7 275.2,1815.81" fill="none" stroke="#808080" stroke-width="5.7" stroke-linejoin="round"/>
<ellipse cx="229.1" cy="1954.55" rx="4.2" ry="14.05" fill="#000"/>
<rect x="82" y="1799.6" width="203.3" height="288" fill="none" stroke="#333" stroke-width="2"/>
<line x1="78.8" y1="1853.3" x2="82" y2="1853.3" stroke="#222" stroke-width="2.2"/>
<line x1="78.8" y1="1928.8" x2="82" y2="1928.8" stroke="#222" stroke-width="2.2"/>
<line x1="78.8" y1="2005.2" x2="82" y2="2005.2" stroke="#222" stroke-width="2.2"/>
<line x1="78.8" y1="2080.9" x2="82" y2="2080.9" stroke="#222" stroke-width="2.2"/>
<line x1="285.3" y1="1810.6" x2="290.8" y2="1810.6" stroke="#222" stroke-width="2.2"/>
<line x1="285.3" y1="1877.6" x2="290.8" y2="1877.6" stroke="#222" stroke-width="2.2"/>
<line x1="285.3" y1="1945.4" x2="290.8" y2="1945.4" stroke="#222" stroke-width="2.2"/>
<line x1="285.3" y1="2013.5" x2="290.8" y2="2013.5" stroke="#222" stroke-width="2.2"/>
<line x1="285.3" y1="2081.3" x2="290.8" y2="2081.3" stroke="#222" stroke-width="2.2"/>
<text x="75.7" y="1858.9" font-size="14" text-anchor="end" textLength="28.1" lengthAdjust="spacingAndGlyphs" xml:space="preserve">0.30</text>
<text x="75.7" y="1933.3" font-size="14" text-anchor="end" textLength="28.1" lengthAdjust="spacingAndGlyphs" xml:space="preserve">0.20</text>
<text x="75.7" y="2009" font-size="14" text-anchor="end" textLength="19.5" lengthAdjust="spacingAndGlyphs" xml:space="preserve">0.1</text>
<text x="75.7" y="2079.3" font-size="14" text-anchor="end" textLength="19.5" lengthAdjust="spacingAndGlyphs" xml:space="preserve">0.0</text>
<text x="298.8" y="1814.7" font-size="14" textLength="27.3" lengthAdjust="spacingAndGlyphs" xml:space="preserve">1.00</text>
<text x="298.8" y="1883.2" font-size="14" textLength="27.3" lengthAdjust="spacingAndGlyphs" xml:space="preserve">0.75</text>
<text x="298.8" y="1949.9" font-size="14" textLength="27.3" lengthAdjust="spacingAndGlyphs" xml:space="preserve">0.50</text>
<text x="298.8" y="2017.5" font-size="14" textLength="27.3" lengthAdjust="spacingAndGlyphs" xml:space="preserve">0.25</text>
<text x="298.8" y="2083.6" font-size="14" textLength="27.3" lengthAdjust="spacingAndGlyphs" xml:space="preserve">0.00</text>
<text x="90.5" y="1826.4" font-size="18.3" textLength="46.5" lengthAdjust="spacingAndGlyphs" xml:space="preserve">Day 1</text>
<text x="85.4" y="1754" font-size="14.6" textLength="208.9" lengthAdjust="spacingAndGlyphs" xml:space="preserve">Test de Kolmogorov-Smirnov</text>
<line x1="84.9" y1="1756.8" x2="294.8" y2="1756.8" stroke="#222" stroke-width="0.9"/>
<text x="85.4" y="1774.9" font-size="14.6" textLength="133" lengthAdjust="spacingAndGlyphs" xml:space="preserve">D = 0.09;  p = 0.96</text>
<line x1="84.9" y1="1777.7" x2="218.9" y2="1777.7" stroke="#222" stroke-width="0.9"/>
<text x="85.4" y="1794.9" font-size="14.6" textLength="161.7" lengthAdjust="spacingAndGlyphs" xml:space="preserve">Test KS-boot: p = 0.58</text>
<line x1="84.9" y1="1797.7" x2="247.6" y2="1797.7" stroke="#222" stroke-width="0.9"/>
<text x="93.91" y="2107.4" font-size="14.3" text-anchor="middle" xml:space="preserve">1</text>
<text x="114.57" y="2107.4" font-size="14.3" text-anchor="middle" xml:space="preserve">2</text>
<text x="138.61" y="2107.4" font-size="14.3" text-anchor="middle" xml:space="preserve">3</text>
<text x="159.95" y="2107.4" font-size="14.3" text-anchor="middle" xml:space="preserve">4</text>
<text x="183.54" y="2107.4" font-size="14.3" text-anchor="middle" xml:space="preserve">5</text>
<text x="205.11" y="2107.4" font-size="14.3" text-anchor="middle" xml:space="preserve">6</text>
<text x="227.35" y="2107.4" font-size="14.3" text-anchor="middle" xml:space="preserve">7</text>
<text x="248.24" y="2107.4" font-size="14.3" text-anchor="middle" xml:space="preserve">8</text>
<text x="271.83" y="2107.4" font-size="14.3" text-anchor="middle" xml:space="preserve">9</text>
<text x="75.3" y="2142.7" font-size="21.3" textLength="213.8" lengthAdjust="spacingAndGlyphs" xml:space="preserve">Confidence Likert Scale</text>
<text x="34.6" y="1937" font-size="19" text-anchor="middle" textLength="270" lengthAdjust="spacingAndGlyphs" transform="rotate(-90 34.6 1937)" xml:space="preserve">Density (Probability distribution)</text>
<text x="350" y="1948" font-size="17.5" text-anchor="middle" textLength="195" lengthAdjust="spacingAndGlyphs" transform="rotate(-90 350 1948)" xml:space="preserve">Cumulative Probability</text>
<rect x="439.1" y="1799.4" width="202.4" height="296.1" fill="#fff"/>
<line x1="453.9" y1="1799.4" x2="453.9" y2="2095.5" stroke="#ebebeb" stroke-width="1.5"/>
<line x1="482.9" y1="1799.4" x2="482.9" y2="2095.5" stroke="#ebebeb" stroke-width="1.5"/>
<line x1="511.6" y1="1799.4" x2="511.6" y2="2095.5" stroke="#ebebeb" stroke-width="1.5"/>
<line x1="540.4" y1="1799.4" x2="540.4" y2="2095.5" stroke="#ebebeb" stroke-width="1.5"/>
<line x1="569.4" y1="1799.4" x2="569.4" y2="2095.5" stroke="#ebebeb" stroke-width="1.5"/>
<line x1="598.1" y1="1799.4" x2="598.1" y2="2095.5" stroke="#ebebeb" stroke-width="1.5"/>
<line x1="627.3" y1="1799.4" x2="627.3" y2="2095.5" stroke="#ebebeb" stroke-width="1.5"/>
<line x1="439.1" y1="1874.2" x2="641.5" y2="1874.2" stroke="#ececec" stroke-width="1.3"/>
<line x1="439.1" y1="1933.7" x2="641.5" y2="1933.7" stroke="#ececec" stroke-width="1.3"/>
<line x1="439.1" y1="1993.7" x2="641.5" y2="1993.7" stroke="#ececec" stroke-width="1.3"/>
<line x1="439.1" y1="2053.3" x2="641.5" y2="2053.3" stroke="#ececec" stroke-width="1.3"/>
<line x1="439.1" y1="1844.6" x2="641.5" y2="1844.6" stroke="#e6e6e6" stroke-width="3.6"/>
<line x1="439.1" y1="1904.5" x2="641.5" y2="1904.5" stroke="#e6e6e6" stroke-width="3.6"/>
<line x1="439.1" y1="1964.1" x2="641.5" y2="1964.1" stroke="#e6e6e6" stroke-width="3.6"/>
<line x1="439.1" y1="2023.6" x2="641.5" y2="2023.6" stroke="#e6e6e6" stroke-width="3.6"/>
<line x1="439.1" y1="2083.1" x2="641.5" y2="2083.1" stroke="#e6e6e6" stroke-width="3.6"/>
<path d="M447.61 2065.17 C449.11 2059.93 453.23 2044.95 456.6 2033.72 C459.97 2022.49 464.09 2007.51 467.83 1997.78 C471.58 1988.04 475.51 1980.1 479.07 1975.31 C482.62 1970.52 485.81 1969.02 489.18 1969.02 C492.55 1969.02 496.1 1972.39 499.29 1975.31 C502.47 1978.23 506.02 1984 508.27 1986.54 C510.52 1989.09 510.89 1991.34 512.76 1990.59 C514.64 1989.84 516.88 1987.97 519.5 1982.05 C522.12 1976.13 525.12 1966.32 528.49 1955.09 C531.86 1943.86 535.98 1927.38 539.72 1914.65 C543.47 1901.92 547.21 1889.19 550.96 1878.71 C554.7 1868.23 558.44 1859.99 562.19 1851.75 C565.93 1843.51 570.43 1833.78 573.42 1829.29 C576.42 1824.79 577.91 1823.67 580.16 1824.79 C582.41 1825.92 584.65 1829.29 586.9 1836.02 C589.15 1842.76 591.02 1852.12 593.64 1865.23 C596.26 1878.33 599.63 1898.93 602.63 1914.65 C605.62 1930.38 608.62 1947.98 611.61 1959.58 C614.61 1971.19 617.6 1978.31 620.6 1984.3 C623.59 1990.29 627.52 1993.28 629.58 1995.53 C631.64 1997.78 632.39 1997.4 632.95 1997.78 L632.95 2083.1 L447.61 2083.1 Z" fill="rgba(245,199,16,0.47)" stroke="none"/>
<path d="M447.61 2065.17 C449.11 2059.93 453.23 2044.95 456.6 2033.72 C459.97 2022.49 464.09 2007.51 467.83 1997.78 C471.58 1988.04 475.51 1980.1 479.07 1975.31 C482.62 1970.52 485.81 1969.02 489.18 1969.02 C492.55 1969.02 496.1 1972.39 499.29 1975.31 C502.47 1978.23 506.02 1984 508.27 1986.54 C510.52 1989.09 510.89 1991.34 512.76 1990.59 C514.64 1989.84 516.88 1987.97 519.5 1982.05 C522.12 1976.13 525.12 1966.32 528.49 1955.09 C531.86 1943.86 535.98 1927.38 539.72 1914.65 C543.47 1901.92 547.21 1889.19 550.96 1878.71 C554.7 1868.23 558.44 1859.99 562.19 1851.75 C565.93 1843.51 570.43 1833.78 573.42 1829.29 C576.42 1824.79 577.91 1823.67 580.16 1824.79 C582.41 1825.92 584.65 1829.29 586.9 1836.02 C589.15 1842.76 591.02 1852.12 593.64 1865.23 C596.26 1878.33 599.63 1898.93 602.63 1914.65 C605.62 1930.38 608.62 1947.98 611.61 1959.58 C614.61 1971.19 617.6 1978.31 620.6 1984.3 C623.59 1990.29 627.52 1993.28 629.58 1995.53 C631.64 1997.78 632.39 1997.4 632.95 1997.78" fill="none" stroke="#d9bc55" stroke-width="1.6"/>
<path d="M448.74 2069.66 C451.55 2067.79 460.16 2065.55 465.59 2058.43 C471.02 2051.32 476.45 2037.84 481.31 2026.98 C486.18 2016.12 490.67 2003.39 494.79 1993.28 C498.91 1983.17 502.09 1972.69 506.02 1966.32 C509.96 1959.96 514.26 1955.47 518.38 1955.09 C522.5 1954.72 526.81 1959.96 530.74 1964.08 C534.67 1968.2 538.97 1976.62 541.97 1979.8 C544.96 1982.99 546.09 1983.17 548.71 1983.17 C551.33 1983.17 554.7 1983.73 557.7 1979.8 C560.69 1975.87 563.69 1968.57 566.68 1959.58 C569.68 1950.6 572.67 1941.61 575.67 1925.89 C578.66 1910.16 581.66 1881.33 584.65 1865.23 C587.65 1849.13 590.64 1838.08 593.64 1829.29 C596.63 1820.49 600.38 1815.51 602.63 1812.44 C604.87 1809.37 605.25 1809.93 607.12 1810.86 C608.99 1811.8 611.61 1812.74 613.86 1818.05 C616.1 1823.37 618.35 1833.03 620.6 1842.76 C622.84 1852.5 625.28 1865.79 627.34 1876.46 C629.4 1887.13 632.02 1901.74 632.95 1906.79 L632.95 2083.1 L448.74 2083.1 Z" fill="rgba(157,157,157,0.49)" stroke="none"/>
<path d="M448.74 2069.66 C451.55 2067.79 460.16 2065.55 465.59 2058.43 C471.02 2051.32 476.45 2037.84 481.31 2026.98 C486.18 2016.12 490.67 2003.39 494.79 1993.28 C498.91 1983.17 502.09 1972.69 506.02 1966.32 C509.96 1959.96 514.26 1955.47 518.38 1955.09 C522.5 1954.72 526.81 1959.96 530.74 1964.08 C534.67 1968.2 538.97 1976.62 541.97 1979.8 C544.96 1982.99 546.09 1983.17 548.71 1983.17 C551.33 1983.17 554.7 1983.73 557.7 1979.8 C560.69 1975.87 563.69 1968.57 566.68 1959.58 C569.68 1950.6 572.67 1941.61 575.67 1925.89 C578.66 1910.16 581.66 1881.33 584.65 1865.23 C587.65 1849.13 590.64 1838.08 593.64 1829.29 C596.63 1820.49 600.38 1815.51 602.63 1812.44 C604.87 1809.37 605.25 1809.93 607.12 1810.86 C608.99 1811.8 611.61 1812.74 613.86 1818.05 C616.1 1823.37 618.35 1833.03 620.6 1842.76 C622.84 1852.5 625.28 1865.79 627.34 1876.46 C629.4 1887.13 632.02 1901.74 632.95 1906.79" fill="none" stroke="rgba(150,150,150,0.75)" stroke-width="1.6"/>
<polyline points="448.74,2082.02 472.33,2058.43 494.79,2031.47 517.26,2015.75 539.72,1977.56 562.19,1921.39 584.65,1854 607.12,1836.02 629.58,1813.56" fill="none" stroke="#daa514" stroke-width="5.7" stroke-linejoin="round"/>
<polyline points="448.74,2079.77 472.33,2079.77 494.79,2060.68 517.26,2020.24 539.72,2002.27 563.31,1982.05 584.65,1937.12 607.12,1854 630.71,1814.68" fill="none" stroke="#808080" stroke-width="5.7" stroke-linejoin="round"/>
<line x1="585.3" y1="1859.2" x2="585.3" y2="1933" stroke="#000" stroke-width="4.6"/>
<polygon points="585.3,1855.7 581.1,1865.2 589.5,1865.2" fill="#000" stroke="#000" stroke-width="1" stroke-linejoin="round"/>
<polygon points="585.3,1936.5 581.1,1927 589.5,1927" fill="#000" stroke="#000" stroke-width="1" stroke-linejoin="round"/>
<rect x="439.1" y="1799.4" width="202.4" height="296.1" fill="none" stroke="#333" stroke-width="2"/>
<line x1="435.9" y1="1844.6" x2="439.1" y2="1844.6" stroke="#222" stroke-width="2.2"/>
<line x1="435.9" y1="1904.5" x2="439.1" y2="1904.5" stroke="#222" stroke-width="2.2"/>
<line x1="435.9" y1="1964.1" x2="439.1" y2="1964.1" stroke="#222" stroke-width="2.2"/>
<line x1="435.9" y1="2023.6" x2="439.1" y2="2023.6" stroke="#222" stroke-width="2.2"/>
<line x1="435.9" y1="2083.1" x2="439.1" y2="2083.1" stroke="#222" stroke-width="2.2"/>
<line x1="641.5" y1="1810.2" x2="647" y2="1810.2" stroke="#222" stroke-width="2.2"/>
<line x1="641.5" y1="1877.6" x2="647" y2="1877.6" stroke="#222" stroke-width="2.2"/>
<line x1="641.5" y1="1945.4" x2="647" y2="1945.4" stroke="#222" stroke-width="2.2"/>
<line x1="641.5" y1="2013.5" x2="647" y2="2013.5" stroke="#222" stroke-width="2.2"/>
<line x1="641.5" y1="2081.3" x2="647" y2="2081.3" stroke="#222" stroke-width="2.2"/>
<text x="430.8" y="1848.4" font-size="14" text-anchor="end" textLength="28.1" lengthAdjust="spacingAndGlyphs" xml:space="preserve">0.20</text>
<text x="430.8" y="1968.6" font-size="14" text-anchor="end" textLength="19.1" lengthAdjust="spacingAndGlyphs" xml:space="preserve">0.1</text>
<text x="430.8" y="2087.6" font-size="14" text-anchor="end" textLength="19.1" lengthAdjust="spacingAndGlyphs" xml:space="preserve">0.0</text>
<text x="655.4" y="1814.2" font-size="14" textLength="27.3" lengthAdjust="spacingAndGlyphs" xml:space="preserve">1.00</text>
<text x="655.4" y="1882.5" font-size="14" textLength="27.3" lengthAdjust="spacingAndGlyphs" xml:space="preserve">0.75</text>
<text x="655.4" y="1949.5" font-size="14" textLength="27.3" lengthAdjust="spacingAndGlyphs" xml:space="preserve">0.50</text>
<text x="655.4" y="2017.3" font-size="14" textLength="27.3" lengthAdjust="spacingAndGlyphs" xml:space="preserve">0.25</text>
<text x="655.4" y="2083.6" font-size="14" textLength="27.3" lengthAdjust="spacingAndGlyphs" xml:space="preserve">0.00</text>
<text x="449.9" y="1829.3" font-size="18.3" textLength="48.3" lengthAdjust="spacingAndGlyphs" xml:space="preserve">Day 2</text>
<text x="443.6" y="1754.7" font-size="14.6" textLength="208.4" lengthAdjust="spacingAndGlyphs" xml:space="preserve">Test de Kolmogorov-Smirnov</text>
<line x1="443.1" y1="1757.5" x2="652.5" y2="1757.5" stroke="#222" stroke-width="0.9"/>
<text x="443.6" y="1775.4" font-size="14.6" textLength="132.5" lengthAdjust="spacingAndGlyphs" xml:space="preserve">D = 0.29;  p = 0.01</text>
<line x1="443.1" y1="1778.2" x2="576.6" y2="1778.2" stroke="#222" stroke-width="0.9"/>
<text x="443.6" y="1795.1" font-size="14.6" textLength="170.3" lengthAdjust="spacingAndGlyphs" xml:space="preserve">Test KS-boot: p = 0.002</text>
<text x="450.98" y="2109" font-size="14.3" text-anchor="middle" xml:space="preserve">1</text>
<text x="472.33" y="2109" font-size="14.3" text-anchor="middle" xml:space="preserve">2</text>
<text x="496.36" y="2109" font-size="14.3" text-anchor="middle" xml:space="preserve">3</text>
<text x="517.71" y="2109" font-size="14.3" text-anchor="middle" xml:space="preserve">4</text>
<text x="541.52" y="2109" font-size="14.3" text-anchor="middle" xml:space="preserve">5</text>
<text x="563.31" y="2109" font-size="14.3" text-anchor="middle" xml:space="preserve">6</text>
<text x="584.65" y="2109" font-size="14.3" text-anchor="middle" xml:space="preserve">7</text>
<text x="606.44" y="2109" font-size="14.3" text-anchor="middle" xml:space="preserve">8</text>
<text x="630.26" y="2109" font-size="14.3" text-anchor="middle" xml:space="preserve">9</text>
<text x="430.3" y="2142.2" font-size="21.3" textLength="213.9" lengthAdjust="spacingAndGlyphs" xml:space="preserve">Confidence Likert Scale</text>
<text x="393.6" y="1945" font-size="19" text-anchor="middle" textLength="267" lengthAdjust="spacingAndGlyphs" transform="rotate(-90 393.6 1945)" xml:space="preserve">Density (Probability distribution)</text>
<text x="706.5" y="1948.4" font-size="17.5" text-anchor="middle" textLength="195" lengthAdjust="spacingAndGlyphs" transform="rotate(-90 706.5 1948.4)" xml:space="preserve">Cumulative Probability</text>
</g>
<g>
<text x="771.5" y="1730.3" font-size="22.5" xml:space="preserve">L</text>
<text x="933.7" y="1772.7" font-size="21" textLength="54.7" lengthAdjust="spacingAndGlyphs" xml:space="preserve">Day 1</text>
<polygon points="971.7,1957.76 997.51,1976.51 987.65,2006.86 955.75,2006.86 945.89,1976.51" fill="none" stroke="#c0c0c0" stroke-width="2.1"/>
<polygon points="971.7,1930.62 1023.32,1968.13 1003.6,2028.81 939.8,2028.81 920.08,1968.13" fill="none" stroke="#c0c0c0" stroke-width="2.1"/>
<polygon points="971.7,1903.48 1049.14,1959.74 1019.56,2050.77 923.84,2050.77 894.26,1959.74" fill="none" stroke="#c0c0c0" stroke-width="2.1"/>
<polygon points="971.7,1876.34 1074.95,1951.35 1035.51,2072.73 907.89,2072.73 868.45,1951.35" fill="none" stroke="#c0c0c0" stroke-width="2.1"/>
<polygon points="971.7,1849.2 1100.76,1942.97 1051.46,2094.68 891.94,2094.68 842.64,1942.97" fill="none" stroke="#c0c0c0" stroke-width="2.1"/>
<line x1="971.7" y1="1957.76" x2="971.7" y2="1849.2" stroke="#c0c0c0" stroke-width="2.1"/>
<line x1="997.51" y1="1976.51" x2="1100.76" y2="1942.97" stroke="#c0c0c0" stroke-width="2.1"/>
<line x1="987.65" y1="2006.86" x2="1051.46" y2="2094.68" stroke="#c0c0c0" stroke-width="2.1"/>
<line x1="955.75" y1="2006.86" x2="891.94" y2="2094.68" stroke="#c0c0c0" stroke-width="2.1"/>
<line x1="945.89" y1="1976.51" x2="842.64" y2="1942.97" stroke="#c0c0c0" stroke-width="2.1"/>
<polygon points="971.7,1926.82 1042.68,1961.84 1015.81,2045.61 942.91,2024.53 868.45,1951.35" fill="rgba(160,160,160,0.42)" stroke="#a0a0a0" stroke-width="6" stroke-linejoin="round"/>
<circle cx="971.7" cy="1926.82" r="12.7" fill="#a0a0a0"/>
<circle cx="1042.68" cy="1961.84" r="12.7" fill="#a0a0a0"/>
<circle cx="1015.81" cy="2045.61" r="12.7" fill="#a0a0a0"/>
<circle cx="942.91" cy="2024.53" r="12.7" fill="#a0a0a0"/>
<circle cx="868.45" cy="1951.35" r="12.7" fill="#a0a0a0"/>
<polygon points="971.7,1931.98 1032.49,1965.15 1012.7,2041.33 949.37,2015.64 866.52,1950.72" fill="rgba(245,205,40,0.48)" stroke="#f5c518" stroke-width="6" stroke-linejoin="round"/>
<circle cx="971.7" cy="1931.98" r="12.7" fill="#f5c518"/>
<circle cx="1032.49" cy="1965.15" r="12.7" fill="#f5c518"/>
<circle cx="1012.7" cy="2041.33" r="12.7" fill="#f5c518"/>
<circle cx="949.37" cy="2015.64" r="12.7" fill="#f5c518"/>
<circle cx="866.52" cy="1950.72" r="12.7" fill="#f5c518"/>
<text x="934.8" y="1829.7" font-size="21.4" textLength="64.2" lengthAdjust="spacingAndGlyphs" xml:space="preserve">Others</text>
<text x="787.4" y="1945.5" font-size="21.2" textLength="48.1" lengthAdjust="spacingAndGlyphs" xml:space="preserve">Trust</text>
<text x="1105.6" y="1942.6" font-size="21.3" textLength="123" lengthAdjust="spacingAndGlyphs" xml:space="preserve">Identification</text>
<text x="809.5" y="2130.7" font-size="21.3" textLength="99.4" lengthAdjust="spacingAndGlyphs" xml:space="preserve">Familiarity</text>
<text x="1074.8" y="2118.3" font-size="21.3" textLength="47.5" lengthAdjust="spacingAndGlyphs" xml:space="preserve">Face</text>
<text x="1055.2" y="2145" font-size="21.3" textLength="67.1" lengthAdjust="spacingAndGlyphs" xml:space="preserve">feature</text>
<text x="1428.4" y="1770.8" font-size="21" textLength="56.1" lengthAdjust="spacingAndGlyphs" xml:space="preserve">Day 2</text>
<polygon points="1457.9,1953.24 1483.24,1967.87 1483.24,1997.13 1457.9,2011.76 1432.56,1997.13 1432.56,1967.87" fill="none" stroke="#c0c0c0" stroke-width="2.1"/>
<polygon points="1457.9,1923.98 1508.58,1953.24 1508.58,2011.76 1457.9,2041.02 1407.22,2011.76 1407.22,1953.24" fill="none" stroke="#c0c0c0" stroke-width="2.1"/>
<polygon points="1457.9,1894.72 1533.92,1938.61 1533.92,2026.39 1457.9,2070.28 1381.88,2026.39 1381.88,1938.61" fill="none" stroke="#c0c0c0" stroke-width="2.1"/>
<polygon points="1457.9,1865.46 1559.26,1923.98 1559.26,2041.02 1457.9,2099.54 1356.54,2041.02 1356.54,1923.98" fill="none" stroke="#c0c0c0" stroke-width="2.1"/>
<polygon points="1457.9,1836.2 1584.6,1909.35 1584.6,2055.65 1457.9,2128.8 1331.2,2055.65 1331.2,1909.35" fill="none" stroke="#c0c0c0" stroke-width="2.1"/>
<line x1="1457.9" y1="1953.24" x2="1457.9" y2="1836.2" stroke="#c0c0c0" stroke-width="2.1"/>
<line x1="1483.24" y1="1967.87" x2="1584.6" y2="1909.35" stroke="#c0c0c0" stroke-width="2.1"/>
<line x1="1483.24" y1="1997.13" x2="1584.6" y2="2055.65" stroke="#c0c0c0" stroke-width="2.1"/>
<line x1="1457.9" y1="2011.76" x2="1457.9" y2="2128.8" stroke="#c0c0c0" stroke-width="2.1"/>
<line x1="1432.56" y1="1997.13" x2="1331.2" y2="2055.65" stroke="#c0c0c0" stroke-width="2.1"/>
<line x1="1432.56" y1="1967.87" x2="1331.2" y2="1909.35" stroke="#c0c0c0" stroke-width="2.1"/>
<polygon points="1457.9,1903.94 1481.34,1968.97 1517.2,2016.73 1457.9,2066.04 1379.09,2028 1373.01,1933.49" fill="rgba(160,160,160,0.42)" stroke="#a0a0a0" stroke-width="6" stroke-linejoin="round"/>
<circle cx="1457.9" cy="1903.94" r="12.7" fill="#a0a0a0"/>
<circle cx="1481.34" cy="1968.97" r="12.7" fill="#a0a0a0"/>
<circle cx="1517.2" cy="2016.73" r="12.7" fill="#a0a0a0"/>
<circle cx="1457.9" cy="2066.04" r="12.7" fill="#a0a0a0"/>
<circle cx="1379.09" cy="2028" r="12.7" fill="#a0a0a0"/>
<circle cx="1373.01" cy="1933.49" r="12.7" fill="#a0a0a0"/>
<polygon points="1457.9,1864.29 1492.62,1962.46 1511.87,2013.66 1457.9,2050.38 1398.73,2016.66 1383.15,1939.34" fill="rgba(245,205,40,0.48)" stroke="#f5c518" stroke-width="6" stroke-linejoin="round"/>
<circle cx="1457.9" cy="1864.29" r="12.7" fill="#f5c518"/>
<circle cx="1492.62" cy="1962.46" r="12.7" fill="#f5c518"/>
<circle cx="1511.87" cy="2013.66" r="12.7" fill="#f5c518"/>
<circle cx="1457.9" cy="2050.38" r="12.7" fill="#f5c518"/>
<circle cx="1398.73" cy="2016.66" r="12.7" fill="#f5c518"/>
<circle cx="1383.15" cy="1939.34" r="12.7" fill="#f5c518"/>
<text x="1417.1" y="1823.2" font-size="21.3" textLength="78.3" lengthAdjust="spacingAndGlyphs" xml:space="preserve">Memory</text>
<text x="1271.4" y="1910.9" font-size="21.2" textLength="48.5" lengthAdjust="spacingAndGlyphs" xml:space="preserve">Trust</text>
<text x="1592.9" y="1910.3" font-size="21.4" textLength="64.8" lengthAdjust="spacingAndGlyphs" xml:space="preserve">Others</text>
<text x="1232.5" y="2074.8" font-size="21.3" textLength="100" lengthAdjust="spacingAndGlyphs" xml:space="preserve">Familiarity</text>
<text x="1569.4" y="2091.1" font-size="21.3" textLength="122.2" lengthAdjust="spacingAndGlyphs" xml:space="preserve">Identification</text>
<text x="1404.5" y="2150.6" font-size="21.3" textLength="121.6" lengthAdjust="spacingAndGlyphs" xml:space="preserve">Face feature</text>
<rect x="1635.7" y="1732.2" width="44.1" height="41" fill="#f3e19a" stroke="#f5c518" stroke-width="6"/>
<rect x="1635.7" y="1780.1" width="44.1" height="43.8" fill="#d2d2d2" stroke="#a0a0a0" stroke-width="6"/>
<text x="1696" y="1762.7" font-size="20.5" textLength="35.4" lengthAdjust="spacingAndGlyphs" xml:space="preserve">IMT</text>
<text x="1696" y="1816.3" font-size="20.5" textLength="41" lengthAdjust="spacingAndGlyphs" xml:space="preserve">UST</text>
</g>
</svg>
</body></html>
